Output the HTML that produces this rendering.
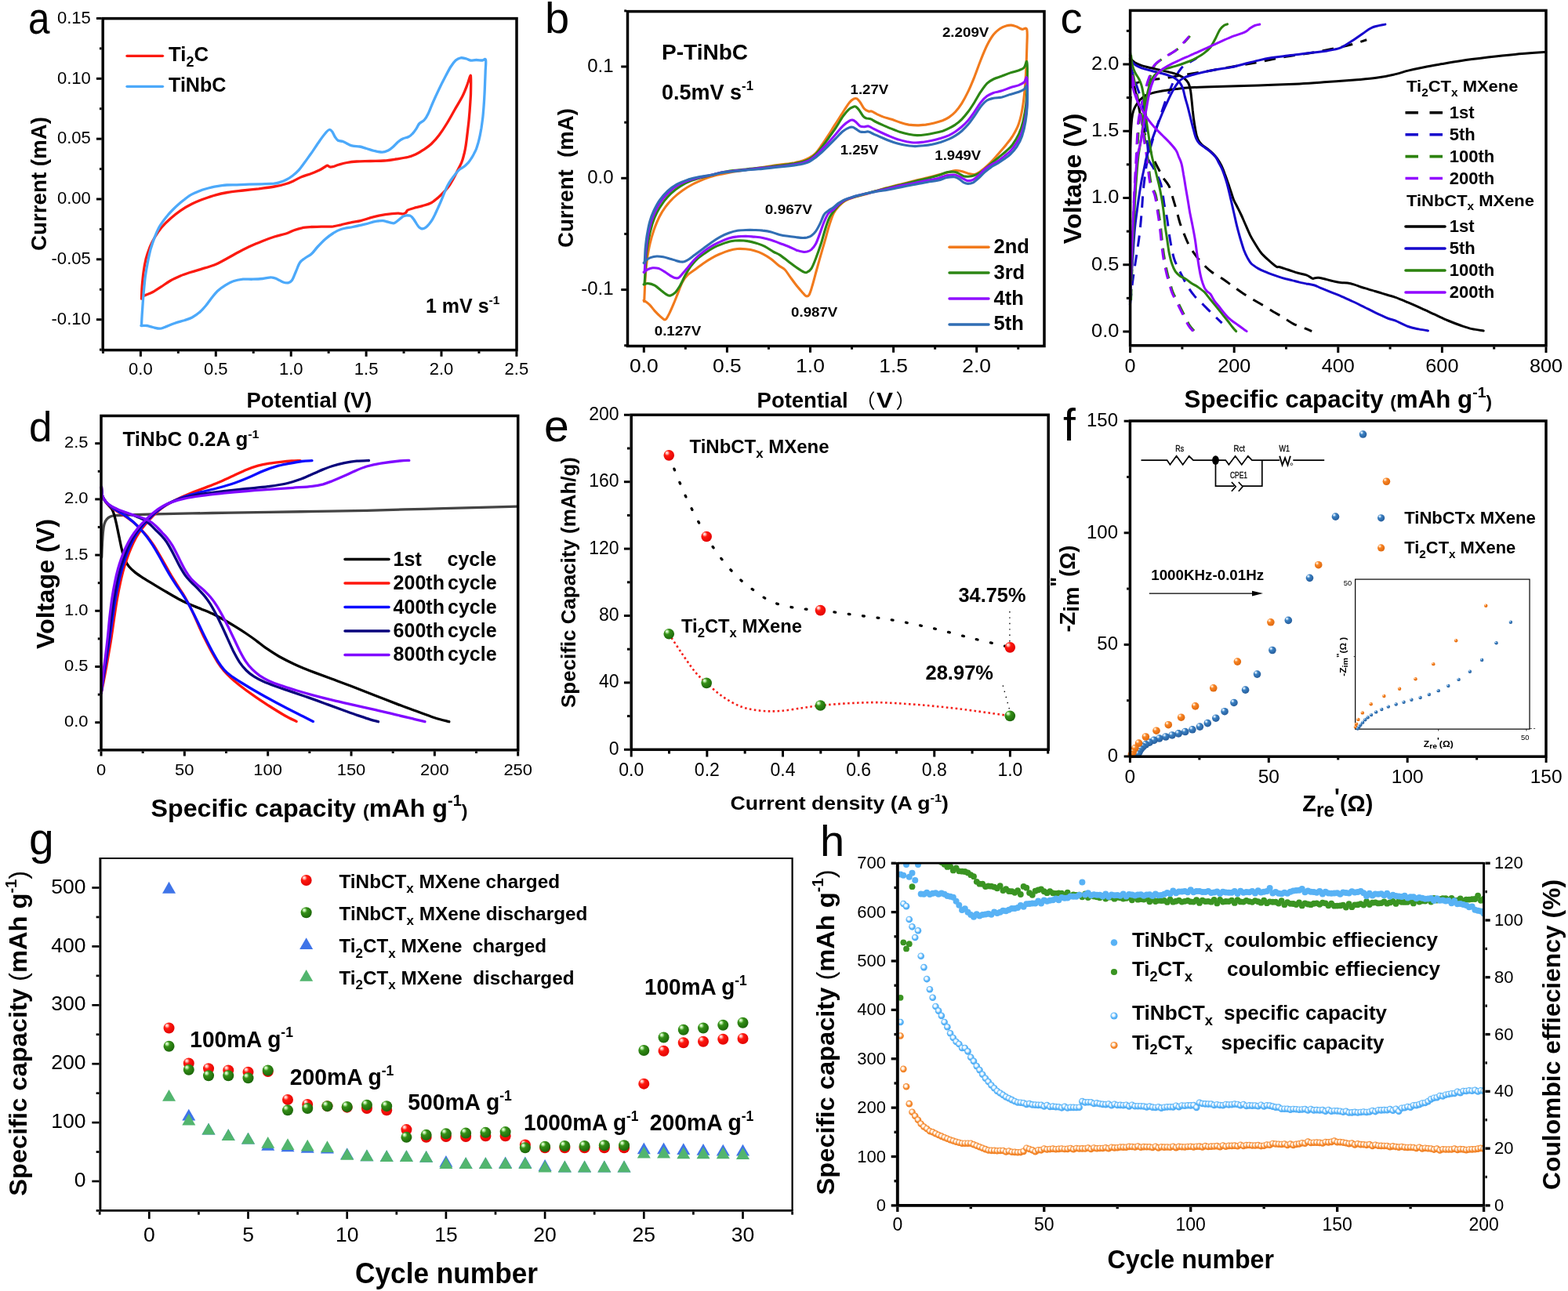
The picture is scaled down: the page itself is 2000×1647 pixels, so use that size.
<!DOCTYPE html>
<html><head><meta charset="utf-8"><title>Figure</title>
<style>
html,body{margin:0;padding:0;background:#fff;}
svg{display:block;font-family:"Liberation Sans",sans-serif;}
</style></head><body>
<svg width="2000" height="1647" viewBox="0 0 2000 1647">
<defs>
<radialGradient id="gR" cx="0.40" cy="0.36" r="0.68" fx="0.30" fy="0.26"><stop offset="0" stop-color="#fff"/><stop offset="0.16" stop-color="#ffb0a8"/><stop offset="0.36" stop-color="#ff1a10"/><stop offset="1" stop-color="#e00000"/></radialGradient>
<radialGradient id="gG" cx="0.40" cy="0.36" r="0.68" fx="0.30" fy="0.26"><stop offset="0" stop-color="#fff"/><stop offset="0.16" stop-color="#b0e89a"/><stop offset="0.36" stop-color="#359018"/><stop offset="1" stop-color="#1a6408"/></radialGradient>
<radialGradient id="gB" cx="0.40" cy="0.36" r="0.68" fx="0.30" fy="0.26"><stop offset="0" stop-color="#fff"/><stop offset="0.16" stop-color="#b8d8f4"/><stop offset="0.36" stop-color="#3a80c2"/><stop offset="1" stop-color="#245a98"/></radialGradient>
<radialGradient id="gO" cx="0.40" cy="0.36" r="0.68" fx="0.30" fy="0.26"><stop offset="0" stop-color="#fff"/><stop offset="0.16" stop-color="#ffd4a8"/><stop offset="0.36" stop-color="#f88424"/><stop offset="1" stop-color="#dc660c"/></radialGradient>
<radialGradient id="gLB" cx="0.46" cy="0.44" r="0.6" fx="0.40" fy="0.38"><stop offset="0" stop-color="#fff"/><stop offset="0.30" stop-color="#eaf6ff"/><stop offset="0.62" stop-color="#58b4f8"/><stop offset="1" stop-color="#46a4f0"/></radialGradient>
<radialGradient id="gLO" cx="0.46" cy="0.44" r="0.6" fx="0.40" fy="0.38"><stop offset="0" stop-color="#fff"/><stop offset="0.30" stop-color="#fff0e0"/><stop offset="0.62" stop-color="#f58a30"/><stop offset="1" stop-color="#ec7818"/></radialGradient>
</defs>
<rect width="2000" height="1647" fill="#fff"/>
<rect x="131.20" y="23.60" width="527.80" height="423.00" fill="none" stroke="#000" stroke-width="3.5"/>
<line x1="179.40" y1="448.15" x2="179.40" y2="454.85" stroke="#000" stroke-width="3" stroke-linecap="butt" />
<line x1="275.30" y1="448.15" x2="275.30" y2="454.85" stroke="#000" stroke-width="3" stroke-linecap="butt" />
<line x1="371.20" y1="448.15" x2="371.20" y2="454.85" stroke="#000" stroke-width="3" stroke-linecap="butt" />
<line x1="467.10" y1="448.15" x2="467.10" y2="454.85" stroke="#000" stroke-width="3" stroke-linecap="butt" />
<line x1="563.00" y1="448.15" x2="563.00" y2="454.85" stroke="#000" stroke-width="3" stroke-linecap="butt" />
<line x1="658.90" y1="448.15" x2="658.90" y2="454.85" stroke="#000" stroke-width="3" stroke-linecap="butt" />
<line x1="131.45" y1="448.15" x2="131.45" y2="450.85" stroke="#000" stroke-width="3" stroke-linecap="butt" />
<line x1="227.35" y1="448.15" x2="227.35" y2="450.85" stroke="#000" stroke-width="3" stroke-linecap="butt" />
<line x1="323.25" y1="448.15" x2="323.25" y2="450.85" stroke="#000" stroke-width="3" stroke-linecap="butt" />
<line x1="419.15" y1="448.15" x2="419.15" y2="450.85" stroke="#000" stroke-width="3" stroke-linecap="butt" />
<line x1="515.05" y1="448.15" x2="515.05" y2="450.85" stroke="#000" stroke-width="3" stroke-linecap="butt" />
<line x1="610.95" y1="448.15" x2="610.95" y2="450.85" stroke="#000" stroke-width="3" stroke-linecap="butt" />
<line x1="129.65" y1="23.45" x2="122.95" y2="23.45" stroke="#000" stroke-width="3" stroke-linecap="butt" />
<line x1="129.65" y1="100.30" x2="122.95" y2="100.30" stroke="#000" stroke-width="3" stroke-linecap="butt" />
<line x1="129.65" y1="177.15" x2="122.95" y2="177.15" stroke="#000" stroke-width="3" stroke-linecap="butt" />
<line x1="129.65" y1="254.00" x2="122.95" y2="254.00" stroke="#000" stroke-width="3" stroke-linecap="butt" />
<line x1="129.65" y1="330.85" x2="122.95" y2="330.85" stroke="#000" stroke-width="3" stroke-linecap="butt" />
<line x1="129.65" y1="407.70" x2="122.95" y2="407.70" stroke="#000" stroke-width="3" stroke-linecap="butt" />
<line x1="129.65" y1="61.88" x2="126.95" y2="61.88" stroke="#000" stroke-width="3" stroke-linecap="butt" />
<line x1="129.65" y1="138.73" x2="126.95" y2="138.73" stroke="#000" stroke-width="3" stroke-linecap="butt" />
<line x1="129.65" y1="215.57" x2="126.95" y2="215.57" stroke="#000" stroke-width="3" stroke-linecap="butt" />
<line x1="129.65" y1="292.43" x2="126.95" y2="292.43" stroke="#000" stroke-width="3" stroke-linecap="butt" />
<line x1="129.65" y1="369.27" x2="126.95" y2="369.27" stroke="#000" stroke-width="3" stroke-linecap="butt" />
<line x1="129.65" y1="446.12" x2="126.95" y2="446.12" stroke="#000" stroke-width="3" stroke-linecap="butt" />
<text x="179.40" y="477.50" font-size="22.5" text-anchor="middle" textLength="30.65" lengthAdjust="spacingAndGlyphs" >0.0</text>
<text x="275.30" y="477.50" font-size="22.5" text-anchor="middle" textLength="30.65" lengthAdjust="spacingAndGlyphs" >0.5</text>
<text x="371.20" y="477.50" font-size="22.5" text-anchor="middle" textLength="30.65" lengthAdjust="spacingAndGlyphs" >1.0</text>
<text x="467.10" y="477.50" font-size="22.5" text-anchor="middle" textLength="30.65" lengthAdjust="spacingAndGlyphs" >1.5</text>
<text x="563.00" y="477.50" font-size="22.5" text-anchor="middle" textLength="30.65" lengthAdjust="spacingAndGlyphs" >2.0</text>
<text x="658.90" y="477.50" font-size="22.5" text-anchor="middle" textLength="30.65" lengthAdjust="spacingAndGlyphs" >2.5</text>
<text x="115.80" y="29.71" font-size="22.5" text-anchor="end" textLength="42.92" lengthAdjust="spacingAndGlyphs" >0.15</text>
<text x="115.80" y="106.55" font-size="22.5" text-anchor="end" textLength="42.92" lengthAdjust="spacingAndGlyphs" >0.10</text>
<text x="115.80" y="183.40" font-size="22.5" text-anchor="end" textLength="42.92" lengthAdjust="spacingAndGlyphs" >0.05</text>
<text x="115.80" y="260.25" font-size="22.5" text-anchor="end" textLength="42.92" lengthAdjust="spacingAndGlyphs" >0.00</text>
<text x="115.80" y="337.11" font-size="22.5" text-anchor="end" textLength="50.26" lengthAdjust="spacingAndGlyphs" >-0.05</text>
<text x="115.80" y="413.96" font-size="22.5" text-anchor="end" textLength="50.26" lengthAdjust="spacingAndGlyphs" >-0.10</text>
<text x="394.50" y="520.00" font-size="27.5" font-weight="bold" text-anchor="middle" textLength="160.00" lengthAdjust="spacingAndGlyphs" >Potential (V)</text>
<text x="59.00" y="234.50" font-size="27.5" font-weight="bold" text-anchor="middle" transform="rotate(-90 59.00 234.50)" textLength="171.00" lengthAdjust="spacingAndGlyphs" >Current (mA)</text>
<text x="36.00" y="42.50" font-size="57" textLength="27.50" lengthAdjust="spacingAndGlyphs" >a</text>
<path d="M180.5 381.2C180.6 378.5 180.8 370.6 181.2 365.0C181.7 359.4 182.2 353.3 183.0 347.5C183.8 341.7 184.9 335.4 186.2 330.0C187.6 324.6 189.4 319.6 191.2 315.0C193.1 310.4 195.0 306.7 197.5 302.5C200.0 298.3 202.9 294.0 206.2 290.0C209.6 286.0 213.5 282.3 217.5 278.8C221.5 275.2 225.4 271.9 230.0 268.8C234.6 265.6 240.0 262.5 245.0 260.0C250.0 257.5 255.0 255.6 260.0 253.8C265.0 251.9 270.0 250.1 275.0 248.8C280.0 247.4 284.2 246.5 290.0 245.5C295.8 244.5 303.3 243.8 310.0 243.0C316.7 242.2 323.3 241.6 330.0 240.8C336.7 239.9 344.2 239.0 350.0 238.0C355.8 237.0 360.8 235.8 365.0 234.5C369.2 233.2 371.7 232.0 375.0 230.5C378.3 229.0 381.2 227.0 385.0 225.5C388.8 224.0 393.8 222.7 397.5 221.2C401.2 219.8 404.6 218.5 407.5 217.0C410.4 215.5 413.3 213.5 415.0 212.5C416.7 211.5 416.5 211.2 417.5 211.2C418.5 211.3 420.0 212.8 421.2 213.0C422.5 213.2 423.1 213.0 425.0 212.5C426.9 212.0 429.6 210.8 432.5 210.0C435.4 209.2 438.8 208.2 442.5 207.5C446.2 206.8 450.0 206.3 455.0 206.0C460.0 205.7 466.7 205.7 472.5 205.5C478.3 205.3 484.6 205.4 490.0 205.0C495.4 204.6 500.0 203.8 505.0 203.0C510.0 202.2 515.8 201.5 520.0 200.5C524.2 199.5 526.7 198.5 530.0 197.0C533.3 195.5 536.7 193.5 540.0 191.2C543.3 189.0 546.7 186.9 550.0 183.8C553.3 180.6 556.7 176.9 560.0 172.5C563.3 168.1 566.7 162.9 570.0 157.5C573.3 152.1 576.7 145.8 580.0 140.0C583.3 134.2 587.3 127.9 590.0 122.5C592.7 117.1 594.6 111.8 596.2 107.5C597.9 103.2 599.0 98.1 599.8 96.8C600.5 95.6 600.5 96.3 600.6 100.0C600.8 103.7 600.6 114.0 600.5 119.0C600.4 124.0 600.1 126.1 599.9 130.0C599.6 133.9 599.3 138.5 599.0 142.6C598.6 146.8 598.3 151.1 597.9 155.0C597.5 158.9 597.0 162.4 596.6 166.3C596.1 170.3 595.6 174.8 595.1 178.8C594.6 182.7 594.1 186.5 593.4 190.0C592.8 193.5 592.0 196.6 591.2 199.5C590.5 202.4 589.8 204.8 588.7 207.4C587.6 210.0 586.2 212.4 584.8 215.2C583.3 218.1 581.8 221.3 580.0 224.8C578.2 228.2 575.8 232.6 573.7 235.8C571.6 239.0 569.7 241.0 567.4 243.7C565.0 246.3 562.4 249.1 559.5 251.6C556.6 254.1 553.4 256.8 550.0 258.7C546.6 260.5 542.6 261.5 539.0 262.6C535.3 263.8 531.1 264.6 527.9 265.5C524.7 266.4 521.7 267.2 520.0 268.1C518.3 269.1 518.7 270.5 517.6 271.3C516.6 272.1 515.4 272.8 513.7 272.9C512.0 273.0 511.1 272.0 507.4 272.1C503.7 272.2 496.8 272.9 491.6 273.7C486.3 274.5 481.0 275.5 475.8 276.9C470.5 278.2 464.7 280.4 460.0 281.6C455.3 282.7 451.7 282.9 447.5 283.8C443.3 284.6 438.8 285.9 435.0 286.8C431.2 287.6 429.2 288.3 425.0 288.8C420.8 289.2 414.6 289.1 410.0 289.2C405.4 289.4 401.7 289.2 397.5 289.5C393.3 289.8 388.8 290.0 385.0 290.8C381.2 291.5 378.3 292.5 375.0 293.8C371.7 295.0 369.2 296.6 365.0 298.0C360.8 299.4 355.0 300.4 350.0 302.0C345.0 303.6 340.0 305.5 335.0 307.5C330.0 309.5 325.0 311.5 320.0 313.8C315.0 316.0 310.0 318.6 305.0 321.2C300.0 323.9 294.6 327.0 290.0 329.5C285.4 332.0 281.2 334.5 277.5 336.2C273.8 338.0 271.2 338.8 267.5 340.0C263.8 341.2 259.2 342.5 255.0 343.8C250.8 345.0 246.7 346.1 242.5 347.5C238.3 348.9 234.2 350.2 230.0 352.0C225.8 353.8 221.7 355.6 217.5 358.0C213.3 360.4 208.8 363.8 205.0 366.2C201.2 368.7 198.1 370.8 195.0 372.5C191.9 374.2 188.3 375.4 186.2 376.2C184.2 377.1 183.1 377.3 182.5 377.5" fill="none" stroke="#fb1a10" stroke-width="3.3" stroke-linecap="round" stroke-linejoin="round" />
<path d="M180.5 415.2C180.6 412.8 180.8 407.3 181.2 401.0C181.7 394.7 182.2 385.1 182.9 377.2C183.6 369.4 184.3 360.7 185.2 353.6C186.2 346.5 187.2 340.8 188.4 334.7C189.6 328.6 190.9 322.5 192.3 317.2C193.8 312.0 195.4 307.6 197.1 303.1C198.8 298.7 200.7 294.2 202.6 290.5C204.6 286.8 206.8 283.9 208.9 281.0C211.0 278.1 213.2 275.5 215.2 273.1C217.3 270.7 219.4 268.6 221.5 266.5C223.6 264.4 225.6 262.5 227.9 260.5C230.1 258.5 232.6 256.5 235.0 254.7C237.4 252.8 239.6 251.0 242.1 249.4C244.6 247.9 247.4 246.7 250.0 245.5C252.6 244.3 255.2 243.3 257.9 242.3C260.5 241.4 263.1 240.7 265.8 240.0C268.4 239.3 271.0 238.6 273.6 238.1C276.3 237.6 278.9 237.2 281.5 236.8C284.1 236.5 286.0 236.2 289.4 236.0C292.8 235.8 297.3 235.9 302.0 235.8C306.7 235.6 312.5 235.4 317.8 235.2C323.0 235.1 328.3 234.9 333.6 234.8C338.9 234.6 345.5 234.5 349.4 234.2C353.4 233.8 354.6 233.2 357.2 232.4C359.9 231.6 362.6 230.6 365.2 229.2C367.8 227.9 370.5 226.2 373.1 224.2C375.7 222.2 378.4 220.0 381.0 217.1C383.6 214.2 386.2 210.4 388.9 206.8C391.5 203.3 393.6 200.2 396.8 195.8C399.9 191.3 404.5 184.3 407.5 180.0C410.5 175.7 412.9 172.4 415.0 170.0C417.1 167.6 418.5 165.8 420.0 165.5C421.5 165.2 422.5 166.4 423.8 168.0C425.0 169.6 426.2 173.1 427.5 175.0C428.8 176.9 429.6 178.3 431.2 179.2C432.9 180.2 435.4 179.8 437.5 180.5C439.6 181.2 441.7 182.8 443.8 183.8C445.8 184.7 447.5 185.7 450.0 186.2C452.5 186.8 455.8 186.5 458.8 187.0C461.7 187.5 464.4 188.6 467.5 189.5C470.6 190.4 474.2 191.7 477.5 192.5C480.8 193.3 484.6 194.3 487.5 194.2C490.4 194.2 492.7 193.1 495.0 192.0C497.3 190.9 499.2 189.3 501.2 187.5C503.3 185.7 505.4 183.0 507.5 181.2C509.6 179.5 511.5 178.1 513.8 177.0C516.0 175.9 519.2 175.6 521.2 174.5C523.3 173.4 524.6 172.3 526.2 170.5C527.9 168.7 529.8 165.9 531.2 163.8C532.7 161.6 533.3 159.3 535.0 157.5C536.7 155.7 539.4 155.1 541.2 153.0C543.1 150.9 544.4 148.8 546.2 145.0C548.1 141.2 550.2 135.2 552.5 130.0C554.8 124.8 557.5 119.0 560.0 113.8C562.5 108.5 565.0 103.5 567.5 98.8C570.0 94.0 572.7 88.6 575.0 85.0C577.3 81.4 579.2 78.9 581.2 77.0C583.3 75.1 585.2 74.1 587.5 73.8C589.8 73.4 592.9 74.5 595.0 75.0C597.1 75.5 597.9 76.8 600.0 77.0C602.1 77.2 605.0 76.5 607.5 76.5C610.0 76.5 613.0 77.0 615.0 77.0C617.0 77.0 618.8 74.1 619.5 76.2C620.2 78.4 619.4 85.5 619.2 90.0C619.1 94.5 618.9 98.2 618.7 103.2C618.5 108.2 618.3 114.7 618.0 120.0C617.7 125.3 617.5 129.8 617.1 134.8C616.7 139.8 616.3 145.3 615.8 150.0C615.2 154.7 614.6 159.2 614.0 163.2C613.3 167.1 612.7 170.6 612.0 173.8C611.3 176.9 610.8 179.4 610.0 182.1C609.2 184.8 608.4 187.6 607.5 190.0C606.6 192.4 605.5 194.3 604.5 196.3C603.4 198.3 602.4 200.2 601.2 202.0C600.1 203.8 598.9 205.6 597.4 207.4C595.8 209.1 593.8 211.1 592.0 212.5C590.2 213.9 588.3 214.3 586.3 216.1C584.3 217.8 581.9 220.8 580.0 223.2C578.1 225.5 576.6 227.6 575.0 230.0C573.4 232.4 572.0 234.5 570.5 237.4C569.0 240.3 567.6 244.3 566.2 247.5C564.9 250.7 563.9 253.4 562.6 256.3C561.4 259.2 560.1 262.1 558.8 265.0C557.4 267.9 556.1 271.0 554.8 273.7C553.4 276.4 552.1 279.1 550.8 281.2C549.4 283.4 548.1 284.8 546.9 286.3C545.6 287.8 544.3 289.3 543.0 290.2C541.7 291.2 540.1 291.7 539.0 291.9C537.8 292.0 537.0 291.4 536.2 291.0C535.5 290.6 535.1 290.5 534.2 289.5C533.3 288.5 532.0 286.6 531.0 285.0C530.0 283.4 528.8 281.3 527.9 280.0C527.0 278.7 526.3 277.8 525.5 277.0C524.7 276.2 524.3 275.6 523.1 275.2C522.0 274.9 519.8 274.7 518.4 274.8C517.1 274.9 516.1 275.3 515.0 275.8C513.9 276.2 513.3 276.8 512.1 277.6C510.9 278.5 509.3 279.9 508.0 281.0C506.7 282.1 505.2 283.3 504.2 283.9C503.2 284.6 502.8 284.7 502.0 284.8C501.2 284.8 500.6 284.7 499.5 284.4C498.3 284.2 496.8 283.7 495.0 283.2C493.2 282.8 490.5 281.8 488.4 281.6C486.3 281.4 484.6 281.7 482.5 282.0C480.4 282.3 478.7 282.4 475.8 283.1C472.8 283.9 469.3 285.2 465.0 286.2C460.7 287.3 455.0 288.5 450.0 289.5C445.0 290.5 439.2 291.2 435.0 292.5C430.8 293.8 428.3 295.4 425.0 297.5C421.7 299.6 418.3 302.1 415.0 305.0C411.7 307.9 407.9 311.9 405.0 315.0C402.1 318.1 400.2 321.3 397.5 323.8C394.8 326.2 391.2 327.6 388.8 329.5C386.2 331.4 384.4 332.2 382.5 335.0C380.6 337.8 379.2 342.5 377.5 346.2C375.8 350.0 374.2 355.1 372.5 357.5C370.8 359.9 369.4 360.3 367.5 360.8C365.6 361.2 363.5 360.8 361.2 360.0C359.0 359.2 356.2 357.3 353.8 356.2C351.2 355.2 349.4 353.9 346.2 353.8C343.1 353.6 339.0 355.1 335.0 355.5C331.0 355.9 326.7 356.1 322.5 356.2C318.3 356.4 314.2 355.8 310.0 356.2C305.8 356.7 301.2 357.5 297.5 358.8C293.8 360.0 290.8 361.7 287.5 363.8C284.2 365.8 280.4 368.5 277.5 371.2C274.6 374.0 272.5 376.9 270.0 380.0C267.5 383.1 265.0 387.0 262.5 390.0C260.0 393.0 257.9 395.5 255.0 398.0C252.1 400.5 248.3 403.2 245.0 405.0C241.7 406.8 238.8 407.5 235.0 408.8C231.2 410.0 226.7 411.0 222.5 412.5C218.3 414.0 213.1 416.4 210.0 417.5C206.9 418.6 206.2 419.2 203.8 419.2C201.2 419.2 197.7 418.1 195.0 417.5C192.3 416.9 189.9 415.8 187.5 415.5C185.1 415.2 181.7 415.6 180.5 415.5C179.3 415.4 180.5 415.1 180.5 415.0" fill="none" stroke="#4ca9fa" stroke-width="3.3" stroke-linecap="round" stroke-linejoin="round" />
<line x1="162.00" y1="71.30" x2="207.50" y2="71.30" stroke="#fb1a10" stroke-width="3.3" stroke-linecap="round" />
<line x1="162.00" y1="110.30" x2="207.50" y2="110.30" stroke="#4ca9fa" stroke-width="3.3" stroke-linecap="round" />
<text x="215.00" y="78.00" font-size="26.5" font-weight="bold" textLength="51.00" lengthAdjust="spacingAndGlyphs" ><tspan>Ti</tspan><tspan dy="6.89" font-size="18.55">2</tspan><tspan dy="-6.89">C</tspan></text>
<text x="215.00" y="116.60" font-size="26.5" font-weight="bold" textLength="73.50" lengthAdjust="spacingAndGlyphs" >TiNbC</text>
<text x="543.00" y="398.50" font-size="25" font-weight="bold" ><tspan>1 mV s</tspan><tspan dy="-10.50" font-size="15.50">-1</tspan></text>
<rect x="800.50" y="14.60" width="531.50" height="426.90" fill="none" stroke="#000" stroke-width="3.5"/>
<line x1="821.30" y1="443.05" x2="821.30" y2="449.75" stroke="#000" stroke-width="3" stroke-linecap="butt" />
<line x1="927.40" y1="443.05" x2="927.40" y2="449.75" stroke="#000" stroke-width="3" stroke-linecap="butt" />
<line x1="1033.50" y1="443.05" x2="1033.50" y2="449.75" stroke="#000" stroke-width="3" stroke-linecap="butt" />
<line x1="1139.60" y1="443.05" x2="1139.60" y2="449.75" stroke="#000" stroke-width="3" stroke-linecap="butt" />
<line x1="1245.70" y1="443.05" x2="1245.70" y2="449.75" stroke="#000" stroke-width="3" stroke-linecap="butt" />
<line x1="874.35" y1="443.05" x2="874.35" y2="445.75" stroke="#000" stroke-width="3" stroke-linecap="butt" />
<line x1="980.45" y1="443.05" x2="980.45" y2="445.75" stroke="#000" stroke-width="3" stroke-linecap="butt" />
<line x1="1086.55" y1="443.05" x2="1086.55" y2="445.75" stroke="#000" stroke-width="3" stroke-linecap="butt" />
<line x1="1192.65" y1="443.05" x2="1192.65" y2="445.75" stroke="#000" stroke-width="3" stroke-linecap="butt" />
<line x1="1298.75" y1="443.05" x2="1298.75" y2="445.75" stroke="#000" stroke-width="3" stroke-linecap="butt" />
<line x1="798.95" y1="85.00" x2="792.25" y2="85.00" stroke="#000" stroke-width="3" stroke-linecap="butt" />
<line x1="798.95" y1="227.30" x2="792.25" y2="227.30" stroke="#000" stroke-width="3" stroke-linecap="butt" />
<line x1="798.95" y1="369.60" x2="792.25" y2="369.60" stroke="#000" stroke-width="3" stroke-linecap="butt" />
<line x1="798.95" y1="13.85" x2="796.25" y2="13.85" stroke="#000" stroke-width="3" stroke-linecap="butt" />
<line x1="798.95" y1="156.15" x2="796.25" y2="156.15" stroke="#000" stroke-width="3" stroke-linecap="butt" />
<line x1="798.95" y1="298.45" x2="796.25" y2="298.45" stroke="#000" stroke-width="3" stroke-linecap="butt" />
<line x1="798.95" y1="440.75" x2="796.25" y2="440.75" stroke="#000" stroke-width="3" stroke-linecap="butt" />
<text x="821.30" y="474.50" font-size="24.5" text-anchor="middle" textLength="36.78" lengthAdjust="spacingAndGlyphs" >0.0</text>
<text x="927.40" y="474.50" font-size="24.5" text-anchor="middle" textLength="36.78" lengthAdjust="spacingAndGlyphs" >0.5</text>
<text x="1033.50" y="474.50" font-size="24.5" text-anchor="middle" textLength="36.78" lengthAdjust="spacingAndGlyphs" >1.0</text>
<text x="1139.60" y="474.50" font-size="24.5" text-anchor="middle" textLength="36.78" lengthAdjust="spacingAndGlyphs" >1.5</text>
<text x="1245.70" y="474.50" font-size="24.5" text-anchor="middle" textLength="36.78" lengthAdjust="spacingAndGlyphs" >2.0</text>
<text x="782.50" y="91.79" font-size="24" text-anchor="end" >0.1</text>
<text x="782.50" y="234.09" font-size="24" text-anchor="end" >0.0</text>
<text x="782.50" y="376.39" font-size="24" text-anchor="end" >-0.1</text>
<text x="965.60" y="520.00" font-size="27.5" font-weight="bold" textLength="116.00" lengthAdjust="spacingAndGlyphs" >Potential</text>
<text x="1091.50" y="520.50" font-size="25" font-family='"Liberation Sans","Noto Sans CJK SC",sans-serif' >（</text>
<text x="1128.40" y="520.00" font-size="27" font-weight="bold" text-anchor="middle" textLength="21.00" lengthAdjust="spacingAndGlyphs" >V</text>
<text x="1142.50" y="520.50" font-size="25" font-family='"Liberation Sans","Noto Sans CJK SC",sans-serif' >）</text>
<text x="730.50" y="227.00" font-size="27.5" font-weight="bold" text-anchor="middle" transform="rotate(-90 730.50 227.00)" textLength="178.00" lengthAdjust="spacingAndGlyphs" >Current  (mA)</text>
<text x="695.00" y="42.20" font-size="56" >b</text>
<path d="M821.1 383.1C821.2 383.0 821.4 387.2 821.8 382.1C822.1 377.1 822.6 361.5 823.2 353.0C823.8 344.5 824.4 338.2 825.4 331.1C826.4 324.1 827.6 317.0 829.1 310.7C830.5 304.4 832.2 298.8 834.1 293.2C836.1 287.7 838.3 282.1 840.7 277.2C843.1 272.4 845.7 268.2 848.7 264.1C851.7 260.0 855.3 256.0 858.9 252.5C862.6 249.0 866.4 245.9 870.6 243.0C874.7 240.1 879.1 237.4 883.7 235.0C888.3 232.5 893.9 230.2 898.3 228.4C902.6 226.6 906.0 225.5 909.9 224.4C913.8 223.3 917.3 222.8 921.5 222.0C925.7 221.1 930.0 220.2 935.0 219.3C940.0 218.4 945.8 217.4 951.2 216.6C956.6 215.8 962.0 215.2 967.4 214.4C972.8 213.6 978.2 212.5 983.6 211.7C989.0 210.9 994.8 210.2 999.8 209.5C1004.8 208.9 1009.2 208.4 1013.3 207.7C1017.3 206.9 1020.9 206.0 1024.1 204.9C1027.2 203.9 1029.5 203.0 1032.2 201.4C1034.9 199.9 1037.6 198.3 1040.3 195.5C1043.0 192.7 1045.7 188.5 1048.4 184.7C1051.1 180.9 1053.6 177.1 1056.5 172.6C1059.4 168.1 1062.8 162.6 1066.0 157.7C1069.1 152.8 1072.5 147.3 1075.4 142.8C1078.3 138.3 1081.2 133.5 1083.5 130.7C1085.8 127.9 1087.3 126.9 1088.9 126.1C1090.5 125.3 1091.6 125.2 1093.0 125.8C1094.3 126.5 1095.4 128.0 1097.0 130.2C1098.6 132.3 1100.6 136.8 1102.4 138.8C1104.2 140.8 1106.2 141.5 1107.8 142.0C1109.4 142.6 1110.0 141.5 1111.8 142.0C1113.6 142.6 1116.1 144.4 1118.6 145.6C1121.1 146.7 1123.5 147.9 1126.7 149.1C1129.9 150.2 1133.9 151.1 1137.5 152.3C1141.1 153.5 1144.7 155.2 1148.3 156.3C1151.9 157.5 1155.5 158.5 1159.1 159.1C1162.7 159.6 1166.3 159.9 1169.9 159.9C1173.5 159.9 1177.1 159.5 1180.7 159.1C1184.3 158.6 1187.9 157.8 1191.5 156.9C1195.1 156.0 1199.1 154.9 1202.3 153.7C1205.5 152.4 1207.7 151.4 1210.4 149.6C1213.1 147.8 1215.8 145.8 1218.5 142.8C1221.2 139.9 1223.9 136.3 1226.6 132.1C1229.3 127.8 1232.0 122.8 1234.7 117.2C1237.4 111.6 1240.1 105.0 1242.8 98.3C1245.5 91.5 1248.2 83.5 1250.9 76.7C1253.6 70.0 1256.3 63.2 1259.0 57.8C1261.7 52.4 1264.4 47.8 1267.1 44.3C1269.8 40.8 1272.5 38.6 1275.2 36.7C1277.9 34.8 1280.8 33.7 1283.3 33.0C1285.8 32.2 1287.8 32.0 1290.0 32.1C1292.3 32.3 1294.5 33.2 1296.8 34.0C1299.0 34.9 1301.4 36.6 1303.5 37.3C1305.7 37.9 1308.7 34.0 1309.8 37.8C1310.8 41.7 1310.0 50.0 1309.8 60.5C1309.5 71.0 1308.9 88.8 1308.1 101.0C1307.3 113.2 1306.3 124.0 1304.9 133.4C1303.5 142.8 1301.8 150.9 1299.5 157.7C1297.2 164.4 1294.1 169.4 1291.4 173.9C1288.7 178.4 1286.0 181.3 1283.3 184.7C1280.6 188.1 1277.9 191.0 1275.2 194.2C1272.5 197.3 1269.8 200.7 1267.1 203.6C1264.4 206.5 1261.7 209.2 1259.0 211.7C1256.3 214.2 1253.6 216.6 1250.9 218.4C1248.2 220.2 1245.5 222.1 1242.8 222.5C1240.1 222.9 1237.4 221.8 1234.7 221.2C1232.0 220.5 1229.3 219.0 1226.6 218.4C1223.9 217.9 1221.7 217.3 1218.5 217.6C1215.3 218.0 1211.3 219.4 1207.7 220.3C1204.1 221.2 1201.0 222.0 1196.9 223.0C1192.9 224.1 1187.9 225.4 1183.4 226.6C1178.9 227.7 1174.4 228.7 1169.9 229.8C1165.4 230.9 1160.9 232.2 1156.4 233.3C1151.9 234.4 1147.4 235.4 1142.9 236.5C1138.4 237.7 1133.9 238.8 1129.4 240.1C1124.9 241.3 1120.4 242.8 1115.9 244.1C1111.4 245.4 1106.9 246.9 1102.4 248.2C1097.9 249.4 1093.0 250.3 1088.9 251.7C1084.9 253.0 1081.2 254.4 1078.1 256.2C1074.9 258.1 1072.5 260.3 1070.0 263.0C1067.5 265.7 1065.3 268.4 1063.2 272.4C1061.2 276.5 1059.6 281.7 1057.8 287.3C1056.0 292.9 1054.2 299.9 1052.5 306.2C1050.7 312.5 1048.8 318.8 1047.0 325.1C1045.2 331.4 1043.5 337.5 1041.7 344.0C1039.9 350.5 1037.8 358.9 1036.2 364.2C1034.7 369.6 1033.5 373.6 1032.2 375.9C1030.9 378.1 1029.5 378.1 1028.2 377.8C1026.8 377.4 1026.1 375.9 1024.1 373.7C1022.1 371.4 1018.7 367.6 1016.0 364.2C1013.3 360.9 1010.4 356.8 1007.9 353.4C1005.4 350.1 1003.6 346.5 1001.1 344.0C998.7 341.5 996.0 340.9 993.0 338.6C990.1 336.4 987.0 333.0 983.6 330.5C980.2 328.0 976.4 325.6 972.8 323.8C969.2 321.9 965.6 320.7 962.0 319.7C958.4 318.7 954.8 318.2 951.2 317.8C947.6 317.4 944.0 317.2 940.4 317.5C936.8 317.9 933.2 318.7 929.6 319.7C926.0 320.7 922.4 322.2 918.8 323.8C915.2 325.3 911.6 327.1 908.0 329.1C904.4 331.2 900.8 333.4 897.2 335.9C893.6 338.4 889.8 341.5 886.4 344.0C883.0 346.5 879.7 348.1 877.0 350.8C874.2 353.4 872.2 356.4 870.2 360.2C868.2 364.0 866.6 369.2 864.8 373.7C863.0 378.2 861.2 382.9 859.4 387.2C857.6 391.5 855.6 396.1 854.0 399.4C852.4 402.6 851.1 405.2 850.0 406.6C848.8 408.0 848.6 408.3 847.2 407.7C845.9 407.2 843.9 405.2 841.9 403.4C839.8 401.6 837.4 399.1 835.1 396.6C832.9 394.2 830.7 390.8 828.4 388.6C826.0 386.3 822.3 384.0 821.1 383.1" fill="none" stroke="#f17a1c" stroke-width="3.1" stroke-linecap="round" stroke-linejoin="round" />
<path d="M821.1 362.9C821.2 362.4 821.7 365.0 822.2 359.7C822.7 354.4 823.2 339.8 823.9 331.1C824.7 322.5 825.5 315.3 826.9 307.8C828.2 300.3 830.1 292.0 831.9 286.0C833.8 279.9 835.5 276.0 837.8 271.4C840.1 266.8 842.8 262.4 845.8 258.3C848.8 254.1 852.4 250.1 856.0 246.6C859.6 243.2 863.5 240.2 867.6 237.6C871.8 235.0 876.1 232.7 880.8 230.9C885.4 229.1 890.7 227.8 895.3 226.5C899.9 225.3 904.1 224.4 908.4 223.3C912.8 222.2 917.1 220.7 921.5 219.8C925.9 218.9 930.0 218.3 935.0 217.6C940.0 217.0 945.8 216.6 951.2 216.0C956.6 215.5 962.0 215.0 967.4 214.4C972.8 213.8 978.2 213.1 983.6 212.5C989.0 211.9 994.8 211.3 999.8 210.6C1004.8 209.9 1009.2 209.2 1013.3 208.5C1017.3 207.7 1020.9 207.2 1024.1 206.3C1027.2 205.4 1029.5 204.6 1032.2 203.1C1034.9 201.5 1037.6 199.5 1040.3 196.8C1043.0 194.2 1045.7 190.8 1048.4 187.4C1051.1 184.0 1053.6 180.7 1056.5 176.6C1059.4 172.5 1062.8 167.8 1066.0 163.1C1069.1 158.4 1072.5 152.3 1075.4 148.2C1078.3 144.2 1081.2 140.8 1083.5 138.8C1085.8 136.8 1087.6 136.6 1088.9 136.1C1090.2 135.6 1090.5 135.4 1091.6 136.1C1092.7 136.8 1094.1 138.1 1095.7 140.2C1097.2 142.2 1099.5 146.4 1101.0 148.2C1102.6 150.1 1103.5 150.4 1105.1 150.9C1106.7 151.5 1108.5 151.0 1110.5 151.8C1112.5 152.5 1114.5 154.2 1117.2 155.5C1120.0 156.9 1123.3 158.4 1126.7 159.9C1130.1 161.3 1133.9 163.0 1137.5 164.4C1141.1 165.9 1144.7 167.4 1148.3 168.5C1151.9 169.6 1155.5 170.5 1159.1 171.2C1162.7 171.9 1166.3 172.5 1169.9 172.6C1173.5 172.6 1177.1 172.2 1180.7 171.7C1184.3 171.3 1187.9 170.6 1191.5 169.8C1195.1 169.1 1199.1 168.2 1202.3 167.2C1205.5 166.1 1207.7 165.0 1210.4 163.6C1213.1 162.3 1215.8 160.9 1218.5 159.1C1221.2 157.2 1223.9 155.0 1226.6 152.3C1229.3 149.6 1232.0 146.4 1234.7 142.8C1237.4 139.2 1240.1 135.0 1242.8 130.7C1245.5 126.4 1248.2 121.2 1250.9 117.2C1253.6 113.2 1256.3 109.1 1259.0 106.4C1261.7 103.7 1263.9 102.6 1267.1 101.0C1270.2 99.4 1274.3 98.3 1277.9 97.0C1281.5 95.6 1285.1 94.1 1288.7 92.9C1292.3 91.7 1296.6 90.8 1299.5 89.7C1302.4 88.5 1304.5 88.0 1306.2 86.2C1308.0 84.4 1309.1 76.4 1309.8 78.9C1310.4 81.3 1310.5 91.9 1310.3 101.0C1310.1 110.1 1309.6 124.4 1308.7 133.4C1307.8 142.4 1306.4 148.7 1304.9 155.0C1303.4 161.3 1301.8 166.2 1299.5 171.2C1297.2 176.1 1294.1 181.1 1291.4 184.7C1288.7 188.3 1286.0 190.3 1283.3 192.8C1280.6 195.3 1277.9 197.3 1275.2 199.6C1272.5 201.8 1269.8 204.1 1267.1 206.3C1264.4 208.6 1261.7 210.8 1259.0 213.1C1256.3 215.3 1253.6 218.0 1250.9 219.8C1248.2 221.6 1245.5 222.9 1242.8 223.8C1240.1 224.8 1237.0 225.1 1234.7 225.2C1232.5 225.3 1231.3 225.3 1229.3 224.7C1227.3 224.0 1224.6 222.1 1222.5 221.2C1220.5 220.2 1219.6 219.5 1217.2 219.3C1214.7 219.0 1211.1 219.0 1207.7 219.8C1204.3 220.6 1201.0 222.6 1196.9 223.8C1192.9 225.1 1187.9 226.2 1183.4 227.4C1178.9 228.5 1174.4 229.5 1169.9 230.6C1165.4 231.7 1160.9 233.0 1156.4 234.1C1151.9 235.2 1147.4 236.3 1142.9 237.3C1138.4 238.4 1133.9 239.5 1129.4 240.6C1124.9 241.7 1120.4 242.9 1115.9 244.1C1111.4 245.3 1106.9 246.4 1102.4 247.6C1097.9 248.8 1093.0 250.1 1088.9 251.4C1084.9 252.7 1081.2 253.7 1078.1 255.4C1074.9 257.1 1072.5 259.3 1070.0 261.6C1067.5 264.0 1065.3 267.1 1063.2 269.8C1061.2 272.4 1059.6 274.0 1057.8 277.9C1056.0 281.7 1054.2 287.1 1052.5 292.7C1050.7 298.3 1049.1 305.3 1047.0 311.6C1045.0 317.9 1042.3 325.3 1040.3 330.5C1038.3 335.7 1036.7 339.9 1034.9 342.6C1033.1 345.4 1031.1 346.5 1029.5 347.2C1027.9 348.0 1027.7 348.2 1025.5 347.2C1023.2 346.2 1019.4 343.6 1016.0 341.3C1012.6 339.0 1008.8 335.9 1005.2 333.2C1001.6 330.5 997.5 327.1 994.4 325.1C991.2 323.1 989.4 322.9 986.3 321.1C983.1 319.2 979.1 316.1 975.5 314.3C971.9 312.5 968.3 311.4 964.7 310.2C961.1 309.1 957.5 308.1 953.9 307.6C950.3 307.0 946.7 306.7 943.1 306.7C939.5 306.8 935.9 307.1 932.3 307.8C928.7 308.5 925.1 309.8 921.5 311.1C917.9 312.4 914.3 313.8 910.7 315.6C907.1 317.5 903.5 319.9 899.9 322.4C896.3 324.9 892.2 327.6 889.1 330.5C886.0 333.4 883.5 336.6 881.0 339.9C878.5 343.3 876.5 346.7 874.2 350.8C872.0 354.8 869.8 360.4 867.5 364.2C865.2 368.1 862.8 371.6 860.8 373.7C858.7 375.8 856.9 376.5 855.4 376.9C853.8 377.4 853.3 377.5 851.3 376.4C849.3 375.3 845.9 372.5 843.2 370.5C840.5 368.4 837.8 365.7 835.1 364.2C832.4 362.8 829.3 361.8 827.0 361.6C824.7 361.3 822.0 362.7 821.1 362.9" fill="none" stroke="#2c8614" stroke-width="3.1" stroke-linecap="round" stroke-linejoin="round" />
<path d="M821.1 347.2C821.2 346.9 821.8 349.2 822.2 345.4C822.6 341.5 823.0 331.1 823.7 323.9C824.3 316.6 825.0 308.8 826.1 302.0C827.3 295.2 828.8 288.6 830.5 283.1C832.2 277.5 834.1 273.0 836.3 268.5C838.5 264.0 840.7 260.1 843.6 256.1C846.5 252.1 850.2 247.8 853.8 244.5C857.5 241.1 861.2 238.1 865.5 235.7C869.7 233.3 874.6 231.5 879.3 229.9C884.0 228.2 889.3 227.0 893.9 225.9C898.5 224.8 902.4 224.3 907.0 223.3C911.6 222.3 916.8 220.7 921.5 219.8C926.2 218.9 930.0 218.7 935.0 218.2C940.0 217.6 945.8 217.1 951.2 216.6C956.6 216.0 962.0 215.5 967.4 214.9C972.8 214.4 978.2 213.9 983.6 213.3C989.0 212.8 994.8 212.3 999.8 211.7C1004.8 211.1 1009.2 210.5 1013.3 209.8C1017.3 209.1 1020.9 208.5 1024.1 207.7C1027.2 206.8 1029.5 206.2 1032.2 204.7C1034.9 203.2 1037.6 201.1 1040.3 198.7C1043.0 196.4 1045.7 193.4 1048.4 190.6C1051.1 187.8 1053.6 185.2 1056.5 182.0C1059.4 178.8 1062.8 174.8 1066.0 171.2C1069.1 167.6 1072.5 163.2 1075.4 160.4C1078.3 157.6 1081.5 155.4 1083.5 154.2C1085.5 153.0 1086.2 152.9 1087.5 153.1C1088.9 153.3 1090.0 154.2 1091.6 155.5C1093.2 156.8 1095.2 159.9 1097.0 160.9C1098.8 162.0 1100.6 161.8 1102.4 161.8C1104.2 161.8 1105.8 160.5 1107.8 160.9C1109.8 161.4 1111.8 163.1 1114.5 164.4C1117.2 165.8 1120.6 167.5 1124.0 169.0C1127.4 170.6 1131.2 172.4 1134.8 173.9C1138.4 175.4 1142.0 176.8 1145.6 177.9C1149.2 179.1 1152.8 180.0 1156.4 180.7C1160.0 181.3 1163.6 181.9 1167.2 182.0C1170.8 182.1 1174.4 181.6 1178.0 181.2C1181.6 180.7 1185.2 180.1 1188.8 179.3C1192.4 178.5 1196.0 177.7 1199.6 176.6C1203.2 175.5 1207.2 174.0 1210.4 172.6C1213.6 171.1 1215.8 169.8 1218.5 168.0C1221.2 166.2 1223.9 164.1 1226.6 161.8C1229.3 159.4 1232.0 156.8 1234.7 153.7C1237.4 150.5 1240.1 146.7 1242.8 142.8C1245.5 139.0 1248.2 134.1 1250.9 130.7C1253.6 127.3 1256.3 124.6 1259.0 122.6C1261.7 120.6 1263.9 119.7 1267.1 118.5C1270.2 117.4 1274.3 117.0 1277.9 115.8C1281.5 114.7 1285.1 113.0 1288.7 111.8C1292.3 110.6 1296.6 109.7 1299.5 108.6C1302.4 107.4 1304.5 106.5 1306.2 105.0C1308.0 103.6 1309.1 95.8 1309.8 99.7C1310.4 103.5 1310.6 119.7 1310.3 128.0C1310.0 136.3 1309.3 142.8 1308.1 149.6C1307.0 156.3 1305.4 163.1 1303.5 168.5C1301.7 173.9 1299.3 177.9 1296.8 182.0C1294.3 186.1 1291.4 189.9 1288.7 192.8C1286.0 195.7 1283.3 197.4 1280.6 199.6C1277.9 201.7 1275.2 204.0 1272.5 205.8C1269.8 207.6 1267.1 208.7 1264.4 210.3C1261.7 212.0 1259.0 213.5 1256.3 215.8C1253.6 218.0 1250.7 221.6 1248.2 223.8C1245.7 226.1 1243.7 228.1 1241.5 229.2C1239.2 230.4 1236.7 230.7 1234.7 230.6C1232.7 230.5 1231.3 229.4 1229.3 228.4C1227.3 227.4 1224.6 225.6 1222.5 224.7C1220.5 223.8 1219.6 223.2 1217.2 223.0C1214.7 222.9 1211.1 223.1 1207.7 223.8C1204.3 224.6 1201.0 226.3 1196.9 227.4C1192.9 228.4 1187.9 229.2 1183.4 230.1C1178.9 231.0 1174.4 231.9 1169.9 232.8C1165.4 233.7 1160.9 234.6 1156.4 235.5C1151.9 236.4 1147.4 237.2 1142.9 238.2C1138.4 239.2 1133.9 240.4 1129.4 241.4C1124.9 242.4 1120.4 243.3 1115.9 244.4C1111.4 245.4 1106.9 246.5 1102.4 247.6C1097.9 248.7 1093.0 249.9 1088.9 251.1C1084.9 252.3 1081.2 253.4 1078.1 254.9C1074.9 256.4 1072.5 258.3 1070.0 260.3C1067.5 262.3 1065.5 265.0 1063.2 267.1C1061.0 269.1 1058.5 269.8 1056.5 272.4C1054.5 275.1 1052.9 279.0 1051.1 283.2C1049.3 287.5 1047.5 293.4 1045.7 298.1C1043.9 302.8 1042.1 308.2 1040.3 311.6C1038.5 315.0 1036.7 316.8 1034.9 318.4C1033.1 319.9 1031.3 320.6 1029.5 321.1C1027.7 321.5 1026.3 321.6 1024.1 321.3C1021.8 321.0 1019.1 320.3 1016.0 319.2C1012.9 318.0 1008.8 315.8 1005.2 314.3C1001.6 312.8 998.0 311.6 994.4 310.2C990.8 308.9 987.2 307.3 983.6 306.2C980.0 305.1 976.4 304.2 972.8 303.5C969.2 302.8 965.6 302.5 962.0 302.1C958.4 301.8 954.8 301.4 951.2 301.3C947.6 301.3 944.0 301.4 940.4 301.9C936.8 302.3 933.2 303.0 929.6 304.0C926.0 305.1 922.4 306.7 918.8 308.4C915.2 310.0 911.6 311.6 908.0 313.8C904.4 315.9 900.8 318.3 897.2 321.1C893.6 323.8 889.5 327.4 886.4 330.5C883.2 333.6 880.8 337.0 878.3 339.9C875.8 342.9 873.6 345.7 871.5 348.1C869.5 350.4 867.7 352.9 866.1 354.0C864.6 355.1 863.7 355.0 862.1 354.8C860.5 354.6 859.0 353.9 856.7 352.6C854.5 351.4 851.3 348.9 848.6 347.2C845.9 345.6 843.2 343.5 840.5 342.6C837.8 341.8 834.9 341.6 832.4 341.8C829.9 342.1 827.5 343.1 825.6 344.0C823.8 344.9 821.8 346.7 821.1 347.2" fill="none" stroke="#9010ff" stroke-width="3.1" stroke-linecap="round" stroke-linejoin="round" />
<path d="M821.1 335.4C821.2 335.1 821.8 337.1 822.2 334.0C822.6 330.9 822.7 322.4 823.2 316.6C823.8 310.7 824.4 304.9 825.4 299.1C826.4 293.2 827.6 286.7 829.1 281.6C830.5 276.5 832.1 272.9 834.1 268.5C836.2 264.1 838.5 259.5 841.4 255.4C844.3 251.2 848.0 247.1 851.6 243.7C855.3 240.3 858.9 237.4 863.3 235.0C867.7 232.5 873.0 230.7 877.8 229.1C882.7 227.6 887.6 226.5 892.4 225.5C897.3 224.5 902.1 224.2 907.0 223.3C911.8 222.4 916.8 220.8 921.5 220.1C926.2 219.3 930.0 219.2 935.0 218.7C940.0 218.2 945.8 217.6 951.2 217.1C956.6 216.6 962.0 216.2 967.4 215.8C972.8 215.3 978.2 214.7 983.6 214.1C989.0 213.6 994.8 213.0 999.8 212.5C1004.8 212.0 1009.2 211.5 1013.3 210.9C1017.3 210.3 1020.9 209.8 1024.1 209.0C1027.2 208.2 1029.5 207.7 1032.2 206.3C1034.9 205.0 1037.6 202.9 1040.3 200.9C1043.0 198.9 1045.7 196.6 1048.4 194.2C1051.1 191.7 1053.6 189.0 1056.5 186.1C1059.4 183.1 1062.8 179.8 1066.0 176.6C1069.1 173.4 1072.5 169.5 1075.4 167.2C1078.3 164.8 1081.5 163.4 1083.5 162.6C1085.5 161.8 1086.2 162.0 1087.5 162.3C1088.9 162.6 1090.0 163.5 1091.6 164.4C1093.2 165.4 1095.2 167.3 1097.0 168.0C1098.8 168.6 1100.6 168.5 1102.4 168.5C1104.2 168.5 1105.8 167.5 1107.8 168.0C1109.8 168.4 1111.8 170.0 1114.5 171.2C1117.2 172.4 1120.6 173.8 1124.0 175.2C1127.4 176.7 1131.2 178.5 1134.8 179.8C1138.4 181.2 1142.0 182.4 1145.6 183.3C1149.2 184.3 1152.8 185.0 1156.4 185.5C1160.0 186.0 1163.6 186.5 1167.2 186.6C1170.8 186.6 1174.4 186.2 1178.0 185.8C1181.6 185.4 1185.2 184.9 1188.8 184.2C1192.4 183.4 1196.0 182.6 1199.6 181.5C1203.2 180.3 1207.2 178.8 1210.4 177.4C1213.6 176.0 1215.8 174.8 1218.5 173.1C1221.2 171.4 1223.9 169.5 1226.6 167.2C1229.3 164.8 1232.0 162.2 1234.7 159.1C1237.4 155.9 1240.1 152.1 1242.8 148.2C1245.5 144.4 1248.2 139.5 1250.9 136.1C1253.6 132.7 1256.3 129.8 1259.0 128.0C1261.7 126.2 1263.9 126.0 1267.1 125.3C1270.2 124.6 1274.3 124.8 1277.9 124.0C1281.5 123.1 1285.1 121.6 1288.7 120.4C1292.3 119.3 1296.6 118.3 1299.5 117.2C1302.4 116.1 1304.5 115.1 1306.2 114.0C1308.0 112.8 1309.1 107.2 1309.8 110.5C1310.4 113.7 1310.6 126.0 1310.3 133.4C1310.0 140.8 1309.3 148.2 1308.1 155.0C1307.0 161.8 1305.4 168.5 1303.5 173.9C1301.7 179.3 1299.3 183.6 1296.8 187.4C1294.3 191.2 1291.4 194.2 1288.7 196.8C1286.0 199.5 1283.3 201.1 1280.6 203.1C1277.9 205.0 1275.2 206.8 1272.5 208.5C1269.8 210.1 1267.1 211.2 1264.4 213.1C1261.7 214.9 1259.0 216.9 1256.3 219.3C1253.6 221.6 1250.7 225.1 1248.2 227.4C1245.7 229.6 1243.7 231.6 1241.5 232.8C1239.2 233.9 1236.7 234.4 1234.7 234.4C1232.7 234.4 1231.3 233.8 1229.3 232.8C1227.3 231.7 1224.6 229.1 1222.5 227.9C1220.5 226.7 1219.6 226.0 1217.2 225.7C1214.7 225.5 1211.1 225.8 1207.7 226.6C1204.3 227.3 1201.0 229.1 1196.9 230.1C1192.9 231.0 1187.9 231.5 1183.4 232.2C1178.9 233.0 1174.4 233.8 1169.9 234.7C1165.4 235.5 1160.9 236.4 1156.4 237.3C1151.9 238.2 1147.4 239.2 1142.9 240.1C1138.4 241.0 1133.9 242.0 1129.4 242.8C1124.9 243.5 1120.4 243.8 1115.9 244.6C1111.4 245.4 1106.9 246.6 1102.4 247.6C1097.9 248.6 1093.0 249.7 1088.9 250.8C1084.9 252.0 1081.2 253.0 1078.1 254.4C1074.9 255.7 1072.5 257.3 1070.0 258.9C1067.5 260.6 1065.5 262.7 1063.2 264.4C1061.0 266.0 1058.5 267.4 1056.5 268.9C1054.5 270.5 1052.9 271.0 1051.1 273.8C1049.3 276.6 1047.5 282.4 1045.7 285.9C1043.9 289.5 1042.1 292.9 1040.3 295.4C1038.5 297.9 1036.7 299.5 1034.9 300.8C1033.1 302.1 1031.3 302.5 1029.5 303.0C1027.7 303.4 1026.3 303.5 1024.1 303.5C1021.8 303.5 1019.1 303.1 1016.0 302.7C1012.9 302.3 1008.8 301.9 1005.2 301.3C1001.6 300.8 998.0 300.3 994.4 299.4C990.8 298.6 987.2 296.8 983.6 295.9C980.0 295.0 976.4 294.5 972.8 294.1C969.2 293.6 965.6 293.6 962.0 293.5C958.4 293.4 954.8 293.4 951.2 293.5C947.6 293.6 944.0 293.7 940.4 294.3C936.8 294.9 933.2 296.0 929.6 297.3C926.0 298.6 922.4 300.2 918.8 302.1C915.2 304.1 911.6 306.4 908.0 308.9C904.4 311.4 900.8 314.3 897.2 317.0C893.6 319.7 889.5 322.8 886.4 325.1C883.2 327.4 880.5 329.6 878.3 331.0C876.0 332.5 874.5 333.2 872.9 333.7C871.3 334.2 870.6 334.2 868.9 334.0C867.1 333.8 864.6 333.1 862.1 332.4C859.6 331.7 856.7 330.7 854.0 330.0C851.3 329.2 848.6 328.3 845.9 327.8C843.2 327.3 840.5 326.9 837.8 327.0C835.1 327.1 832.0 327.8 829.7 328.6C827.5 329.4 825.7 330.7 824.3 331.9C822.9 333.0 821.6 334.8 821.1 335.4" fill="none" stroke="#316eb4" stroke-width="3.1" stroke-linecap="round" stroke-linejoin="round" />
<text x="844.00" y="75.50" font-size="27" font-weight="bold" textLength="110.00" lengthAdjust="spacingAndGlyphs" >P-TiNbC</text>
<text x="844.00" y="126.50" font-size="27" font-weight="bold" ><tspan>0.5mV s</tspan><tspan dy="-11.34" font-size="16.74">-1</tspan></text>
<text x="1201.90" y="46.58" font-size="16.5" font-weight="bold" textLength="59.50" lengthAdjust="spacingAndGlyphs" >2.209V</text>
<text x="1084.60" y="120.02" font-size="16.5" font-weight="bold" textLength="48.62" lengthAdjust="spacingAndGlyphs" >1.27V</text>
<text x="1071.68" y="197.20" font-size="16.5" font-weight="bold" textLength="48.62" lengthAdjust="spacingAndGlyphs" >1.25V</text>
<text x="1192.38" y="204.00" font-size="16.5" font-weight="bold" textLength="58.82" lengthAdjust="spacingAndGlyphs" >1.949V</text>
<text x="975.80" y="272.68" font-size="16.5" font-weight="bold" textLength="60.18" lengthAdjust="spacingAndGlyphs" >0.967V</text>
<text x="1009.12" y="403.58" font-size="16.5" font-weight="bold" textLength="59.16" lengthAdjust="spacingAndGlyphs" >0.987V</text>
<text x="834.70" y="427.72" font-size="16.5" font-weight="bold" textLength="59.50" lengthAdjust="spacingAndGlyphs" >0.127V</text>
<line x1="1211.00" y1="315.20" x2="1261.00" y2="315.20" stroke="#f17a1c" stroke-width="3.5" stroke-linecap="round" />
<text x="1267.50" y="322.70" font-size="25.5" font-weight="bold" >2nd</text>
<line x1="1211.00" y1="348.10" x2="1261.00" y2="348.10" stroke="#2c8614" stroke-width="3.5" stroke-linecap="round" />
<text x="1267.50" y="355.60" font-size="25.5" font-weight="bold" >3rd</text>
<line x1="1211.00" y1="381.00" x2="1261.00" y2="381.00" stroke="#9010ff" stroke-width="3.5" stroke-linecap="round" />
<text x="1267.50" y="388.50" font-size="25.5" font-weight="bold" >4th</text>
<line x1="1211.00" y1="413.90" x2="1261.00" y2="413.90" stroke="#316eb4" stroke-width="3.5" stroke-linecap="round" />
<text x="1267.50" y="421.40" font-size="25.5" font-weight="bold" >5th</text>
<path d="M1441.5 137.5C1441.7 134.6 1442.0 124.5 1442.6 120.0C1443.2 115.5 1443.8 112.7 1444.9 110.4C1446.0 108.0 1445.9 107.4 1449.2 106.0C1452.6 104.6 1459.5 103.1 1465.0 102.1C1470.5 101.2 1476.7 101.0 1482.5 100.2C1488.3 99.4 1491.2 98.7 1500.0 97.2C1508.8 95.8 1523.3 93.5 1535.0 91.6C1546.7 89.6 1558.3 87.5 1570.0 85.5C1581.7 83.4 1593.3 81.5 1605.0 79.3C1616.7 77.1 1628.3 74.4 1640.0 72.3C1651.7 70.3 1663.3 69.1 1675.0 67.1C1686.7 65.0 1701.2 62.0 1710.0 60.1C1718.8 58.2 1722.0 57.2 1727.5 55.7C1733.0 54.2 1740.6 51.6 1743.2 50.8" fill="none" stroke="#000" stroke-width="3.0" stroke-linecap="butt" stroke-linejoin="round" stroke-dasharray="14.5 10.5" />
<path d="M1441.4 85.0C1442.1 88.5 1444.1 98.7 1445.8 106.0C1447.4 113.3 1449.2 120.6 1451.0 128.8C1452.8 136.9 1454.2 146.2 1456.2 155.0C1458.3 163.8 1460.6 173.1 1463.2 181.2C1465.9 189.4 1469.4 197.9 1472.0 204.0C1474.6 210.1 1477.2 214.4 1479.0 218.0C1480.8 221.6 1480.5 222.1 1482.5 225.4C1484.5 228.6 1488.9 232.8 1491.2 237.6C1493.6 242.4 1494.9 249.0 1496.5 254.2C1498.1 259.5 1499.4 264.0 1500.9 269.1C1502.3 274.2 1503.6 279.9 1505.2 284.9C1506.9 289.8 1508.6 294.2 1510.5 298.9C1512.4 303.5 1514.3 308.5 1516.6 312.9C1519.0 317.2 1521.7 321.3 1524.5 325.1C1527.3 328.9 1529.8 332.0 1533.2 335.6C1536.8 339.3 1541.1 343.6 1545.5 347.0C1549.9 350.4 1555.1 352.8 1559.5 355.8C1563.9 358.7 1567.7 361.6 1571.8 364.5C1575.8 367.4 1579.6 370.3 1584.0 373.2C1588.4 376.2 1593.6 379.4 1598.0 382.0C1602.4 384.6 1605.9 386.4 1610.2 389.0C1614.6 391.6 1619.9 395.1 1624.2 397.8C1628.6 400.4 1632.3 402.2 1636.5 404.8C1640.7 407.3 1645.0 410.8 1649.6 413.1C1654.3 415.5 1660.6 417.2 1664.5 418.8C1668.4 420.3 1671.8 422.0 1673.2 422.6" fill="none" stroke="#000" stroke-width="3.0" stroke-linecap="butt" stroke-linejoin="round" stroke-dasharray="14.5 10.5" />
<path d="M1441.4 389.0C1442.0 383.8 1443.4 368.6 1444.9 357.5C1446.3 346.4 1448.7 332.4 1450.1 322.5C1451.6 312.6 1452.6 306.8 1453.6 298.0C1454.6 289.2 1455.5 278.8 1456.2 270.0C1457.0 261.2 1457.3 253.4 1458.0 245.5C1458.7 237.6 1459.8 229.5 1460.6 222.8C1461.5 216.0 1462.5 209.5 1463.2 205.2C1464.0 201.0 1463.5 202.5 1465.0 197.0C1466.5 191.5 1469.7 180.1 1472.0 172.5C1474.3 164.9 1476.7 158.5 1479.0 151.5C1481.3 144.5 1483.7 136.9 1486.0 130.5C1488.3 124.1 1490.7 118.5 1493.0 113.0C1495.3 107.5 1497.7 101.6 1500.0 97.2C1502.3 92.9 1504.7 89.4 1507.0 86.8C1509.3 84.1 1510.8 83.5 1514.0 81.5C1517.2 79.5 1524.2 75.7 1526.2 74.5" fill="none" stroke="#1605cc" stroke-width="3.0" stroke-linecap="butt" stroke-linejoin="round" stroke-dasharray="14.5 10.5" />
<path d="M1441.4 81.5C1442.1 84.1 1444.1 92.0 1445.8 97.2C1447.4 102.5 1449.2 107.8 1451.0 113.0C1452.8 118.2 1454.8 122.9 1456.2 128.8C1457.7 134.6 1458.7 140.7 1459.8 148.0C1460.8 155.3 1461.6 165.5 1462.4 172.5C1463.1 179.5 1463.7 184.8 1464.1 190.0C1464.6 195.2 1463.7 199.2 1465.0 203.5C1466.3 207.8 1469.4 210.5 1472.0 215.8C1474.6 221.0 1478.6 227.4 1480.8 235.0C1482.9 242.6 1483.8 254.0 1485.1 261.2C1486.4 268.5 1487.6 272.6 1488.6 278.8C1489.6 284.9 1490.4 292.2 1491.2 298.0C1492.1 303.8 1492.9 308.5 1493.9 313.8C1494.9 319.0 1496.1 325.1 1497.4 329.5C1498.7 333.9 1500.0 336.2 1501.8 340.0C1503.5 343.8 1505.7 348.0 1507.9 352.2C1510.1 356.5 1512.2 361.1 1514.9 365.4C1517.5 369.6 1520.3 373.7 1523.6 377.6C1527.0 381.6 1531.1 385.1 1535.0 389.0C1538.9 392.9 1543.3 397.4 1547.2 401.2C1551.2 405.1 1556.7 410.3 1558.6 412.1" fill="none" stroke="#1605cc" stroke-width="3.0" stroke-linecap="butt" stroke-linejoin="round" stroke-dasharray="14.5 10.5" />
<path d="M1442.6 383.1C1442.8 377.3 1443.4 359.8 1443.8 348.1C1444.2 336.5 1444.7 324.8 1445.2 313.1C1445.7 301.5 1446.1 289.8 1446.6 278.1C1447.1 266.5 1447.5 253.4 1448.0 243.2C1448.5 232.9 1449.0 224.2 1449.4 216.9C1449.8 209.6 1450.1 205.4 1450.5 199.4C1450.8 193.4 1450.9 188.2 1451.3 180.7C1451.8 173.2 1452.3 161.1 1453.1 154.4C1453.8 147.7 1454.5 145.7 1455.7 140.4C1456.9 135.2 1458.6 128.7 1460.1 122.9C1461.5 117.1 1463.0 110.4 1464.5 105.4C1465.9 100.4 1467.2 97.1 1468.8 93.2C1470.4 89.2 1471.0 85.3 1474.1 81.8C1477.1 78.3 1482.7 75.2 1487.2 72.2C1491.7 69.1 1497.1 66.6 1501.2 63.4C1505.3 60.2 1508.9 55.8 1511.7 52.9C1514.5 50.0 1516.8 47.1 1517.8 45.9" fill="none" stroke="#2c820e" stroke-width="3.0" stroke-linecap="butt" stroke-linejoin="round" stroke-dasharray="14.5 10.5" />
<path d="M1441.4 383.8C1441.6 377.9 1442.2 360.4 1442.6 348.8C1443.0 337.1 1443.5 325.4 1444.0 313.8C1444.5 302.1 1444.9 290.4 1445.4 278.8C1445.9 267.1 1446.3 254.0 1446.8 243.8C1447.3 233.5 1447.8 224.8 1448.2 217.5C1448.6 210.2 1448.9 206.0 1449.2 200.0C1449.6 194.0 1449.7 188.8 1450.1 181.2C1450.6 173.8 1451.1 161.7 1451.9 155.0C1452.6 148.3 1453.3 146.2 1454.5 141.0C1455.7 135.8 1457.4 129.3 1458.9 123.5C1460.3 117.7 1461.8 111.0 1463.2 106.0C1464.7 101.0 1466.0 97.7 1467.6 93.8C1469.2 89.8 1469.8 85.9 1472.9 82.4C1475.9 78.9 1481.5 75.8 1486.0 72.8C1490.5 69.7 1495.9 67.2 1500.0 64.0C1504.1 60.8 1507.7 56.4 1510.5 53.5C1513.3 50.6 1515.6 47.7 1516.6 46.5" fill="none" stroke="#9208ff" stroke-width="3.0" stroke-linecap="butt" stroke-linejoin="round" stroke-dasharray="14.5 10.5" />
<path d="M1442.6 70.4C1443.0 74.2 1444.2 86.2 1445.2 93.2C1446.2 100.2 1447.4 105.7 1448.7 112.4C1450.0 119.1 1451.6 126.4 1453.1 133.4C1454.5 140.4 1456.3 147.4 1457.5 154.4C1458.6 161.4 1459.1 168.1 1460.1 175.4C1461.1 182.7 1462.3 188.6 1463.6 198.2C1464.9 207.7 1466.2 224.3 1468.0 232.7C1469.7 241.0 1472.5 242.3 1474.1 248.4C1475.7 254.5 1476.6 263.0 1477.6 269.4C1478.6 275.8 1479.3 279.9 1480.2 286.9C1481.1 293.9 1482.0 304.1 1482.8 311.4C1483.7 318.7 1484.4 324.5 1485.5 330.6C1486.5 336.8 1487.8 343.2 1489.0 348.1C1490.1 353.1 1491.3 356.3 1492.5 360.4C1493.6 364.5 1494.2 368.3 1496.0 372.6C1497.7 377.0 1500.6 382.0 1503.0 386.6C1505.3 391.3 1507.6 396.0 1510.0 400.6C1512.3 405.3 1514.8 411.1 1517.0 414.6C1519.1 418.2 1522.1 420.8 1523.1 422.0" fill="none" stroke="#2c820e" stroke-width="3.0" stroke-linecap="butt" stroke-linejoin="round" stroke-dasharray="14.5 10.5" />
<path d="M1441.4 71.0C1441.8 74.8 1443.0 86.8 1444.0 93.8C1445.0 100.8 1446.2 106.3 1447.5 113.0C1448.8 119.7 1450.4 127.0 1451.9 134.0C1453.3 141.0 1455.1 148.0 1456.2 155.0C1457.4 162.0 1457.9 168.7 1458.9 176.0C1459.9 183.3 1461.1 189.2 1462.4 198.8C1463.7 208.3 1465.0 224.9 1466.8 233.2C1468.5 241.6 1471.3 242.9 1472.9 249.0C1474.5 255.1 1475.4 263.6 1476.4 270.0C1477.4 276.4 1478.1 280.5 1479.0 287.5C1479.9 294.5 1480.8 304.7 1481.6 312.0C1482.5 319.3 1483.2 325.1 1484.2 331.2C1485.3 337.4 1486.6 343.8 1487.8 348.8C1488.9 353.7 1490.1 356.9 1491.2 361.0C1492.4 365.1 1493.0 368.9 1494.8 373.2C1496.5 377.6 1499.4 382.6 1501.8 387.2C1504.1 391.9 1506.4 396.6 1508.8 401.2C1511.1 405.9 1513.6 411.7 1515.8 415.2C1517.9 418.8 1520.9 421.4 1521.9 422.6" fill="none" stroke="#9208ff" stroke-width="3.0" stroke-linecap="butt" stroke-linejoin="round" stroke-dasharray="14.5 10.5" />
<path d="M1441.5 190.0C1441.7 187.1 1441.9 178.9 1442.2 172.5C1442.6 166.1 1443.1 156.8 1443.7 151.5C1444.2 146.2 1444.8 143.9 1445.8 141.0C1446.7 138.1 1447.8 136.3 1449.2 134.0C1450.7 131.7 1452.5 129.0 1454.5 127.0C1456.5 125.0 1458.9 123.2 1461.5 121.8C1464.1 120.3 1466.8 119.5 1470.2 118.6C1473.8 117.7 1477.5 117.0 1482.5 116.1C1487.5 115.3 1494.2 114.3 1500.0 113.5C1505.8 112.8 1508.8 112.3 1517.5 111.8C1526.2 111.2 1537.9 110.8 1552.5 110.4C1567.1 109.9 1587.5 109.6 1605.0 109.0C1622.5 108.4 1642.9 107.6 1657.5 106.9C1672.1 106.1 1680.8 105.4 1692.5 104.6C1704.2 103.8 1717.0 102.8 1727.5 102.0C1738.0 101.1 1746.8 100.6 1755.5 99.3C1764.2 98.1 1773.2 96.2 1780.0 94.6C1786.8 93.1 1789.9 91.6 1796.0 90.1C1802.1 88.6 1809.2 87.1 1816.4 85.7C1823.6 84.3 1831.2 83.0 1839.2 81.6C1847.1 80.2 1854.2 78.9 1864.0 77.5C1873.8 76.1 1886.7 74.5 1898.0 73.1C1909.3 71.7 1919.7 70.5 1932.0 69.4C1944.3 68.2 1965.2 66.8 1971.8 66.3" fill="none" stroke="#000" stroke-width="3.0" stroke-linecap="round" stroke-linejoin="round" />
<path d="M1441.4 74.5C1442.4 75.4 1445.0 78.2 1447.5 79.8C1450.0 81.3 1452.8 82.4 1456.2 83.6C1459.8 84.8 1464.1 85.7 1468.5 86.8C1472.9 87.8 1478.1 88.9 1482.5 89.9C1486.9 90.9 1491.2 91.9 1494.8 92.9C1498.2 93.9 1500.9 94.7 1503.5 95.8C1506.1 97.0 1508.5 98.2 1510.5 99.9C1512.5 101.6 1514.4 103.5 1515.8 106.0C1517.1 108.5 1517.6 111.0 1518.4 114.8C1519.1 118.5 1519.6 124.4 1520.1 128.8C1520.6 133.1 1520.9 136.9 1521.3 141.0C1521.8 145.1 1522.2 149.5 1522.8 153.2C1523.3 157.0 1523.9 160.5 1524.5 163.8C1525.1 167.0 1525.5 169.9 1526.2 172.5C1527.0 175.1 1527.7 177.5 1528.9 179.5C1530.0 181.5 1531.4 183.0 1533.2 184.8C1535.1 186.5 1537.9 188.1 1540.2 190.0C1542.6 191.9 1545.2 194.1 1547.2 196.1C1549.3 198.2 1550.8 199.8 1552.5 202.2C1554.2 204.7 1556.1 207.8 1557.8 211.0C1559.4 214.2 1560.7 217.7 1562.1 221.5C1563.6 225.3 1565.2 230.0 1566.5 233.8C1567.8 237.5 1568.8 240.8 1570.0 244.2C1571.2 247.8 1572.2 251.5 1573.5 254.8C1574.8 258.0 1576.3 260.3 1577.9 263.5C1579.5 266.7 1581.5 270.6 1583.1 274.0C1584.7 277.4 1585.6 279.7 1587.5 284.0C1589.4 288.3 1592.2 295.1 1594.5 299.8C1596.8 304.4 1599.2 308.2 1601.5 312.0C1603.8 315.8 1605.9 319.3 1608.5 322.5C1611.1 325.7 1614.0 328.3 1617.2 331.2C1620.5 334.2 1625.4 338.5 1627.8 340.0C1630.1 341.5 1629.2 340.0 1631.2 340.5C1633.3 341.0 1637.1 342.2 1640.0 343.1C1642.9 344.1 1645.8 345.2 1648.8 346.1C1651.7 347.1 1654.6 348.0 1657.5 348.8C1660.4 349.5 1663.8 349.9 1666.2 350.9C1668.7 351.8 1670.9 353.6 1672.4 354.4C1673.8 355.1 1674.0 355.4 1675.0 355.4C1676.0 355.4 1677.0 354.5 1678.5 354.4C1680.0 354.2 1681.4 354.0 1683.8 354.4C1686.1 354.7 1689.6 355.9 1692.5 356.6C1695.4 357.4 1698.3 358.2 1701.2 358.9C1704.2 359.6 1707.1 360.3 1710.0 360.6C1712.9 361.0 1715.8 360.6 1718.8 361.0C1721.7 361.4 1724.6 362.2 1727.5 363.1C1730.4 364.0 1733.3 365.3 1736.2 366.2C1739.2 367.2 1742.1 368.0 1745.0 368.9C1747.9 369.8 1750.8 370.6 1753.8 371.5C1756.7 372.4 1759.6 373.2 1762.5 374.1C1765.4 375.0 1768.3 375.9 1771.2 376.8C1774.2 377.6 1775.9 377.9 1780.0 379.4C1784.1 380.9 1790.5 383.6 1796.0 385.9C1801.5 388.2 1807.3 390.8 1813.0 393.4C1818.7 395.9 1824.3 398.6 1830.0 401.2C1835.7 403.8 1841.3 406.6 1847.0 409.0C1852.7 411.4 1858.9 413.7 1864.0 415.5C1869.1 417.2 1872.9 418.5 1877.6 419.6C1882.3 420.6 1889.8 421.5 1892.2 421.9" fill="none" stroke="#000" stroke-width="3.0" stroke-linecap="round" stroke-linejoin="round" />
<path d="M1441.4 389.0C1441.5 385.2 1441.8 374.4 1442.2 366.2C1442.7 358.1 1443.4 348.8 1444.0 340.0C1444.6 331.2 1445.2 321.9 1445.8 313.8C1446.3 305.6 1446.8 298.3 1447.5 291.0C1448.2 283.7 1449.2 276.7 1450.1 270.0C1451.0 263.3 1451.7 257.5 1452.8 250.8C1453.8 244.0 1454.9 236.8 1456.2 229.8C1457.6 222.8 1459.8 213.0 1460.6 208.8C1461.5 204.5 1460.2 208.6 1461.5 204.0C1462.8 199.4 1466.2 188.2 1468.5 181.2C1470.8 174.2 1473.2 168.1 1475.5 162.0C1477.8 155.9 1480.2 150.0 1482.5 144.5C1484.8 139.0 1487.2 133.7 1489.5 128.8C1491.8 123.8 1494.2 118.8 1496.5 114.8C1498.8 110.7 1501.2 106.9 1503.5 104.2C1505.8 101.6 1507.6 100.5 1510.5 99.0C1513.4 97.5 1516.9 96.7 1521.0 95.5C1525.1 94.3 1529.8 93.2 1535.0 92.0C1540.2 90.8 1546.7 89.5 1552.5 88.5C1558.3 87.5 1564.2 87.0 1570.0 85.9C1575.8 84.7 1581.7 83.0 1587.5 81.5C1593.3 80.0 1599.2 78.4 1605.0 77.1C1610.8 75.8 1616.7 74.6 1622.5 73.6C1628.3 72.7 1634.2 72.1 1640.0 71.3C1645.8 70.6 1651.7 70.0 1657.5 69.2C1663.3 68.5 1669.2 67.7 1675.0 67.0C1680.8 66.2 1686.7 65.9 1692.5 64.9C1698.3 63.9 1704.8 62.9 1710.0 60.9C1715.2 58.8 1719.3 55.6 1724.0 52.6C1728.7 49.6 1733.6 45.9 1738.0 43.0C1742.4 40.1 1745.4 37.1 1750.2 35.1C1755.1 33.1 1764.1 31.8 1766.9 31.1" fill="none" stroke="#1605cc" stroke-width="3.0" stroke-linecap="round" stroke-linejoin="round" />
<path d="M1441.4 76.2C1442.4 77.3 1445.0 80.6 1447.5 82.4C1450.0 84.1 1452.8 85.4 1456.2 86.8C1459.8 88.1 1464.1 89.1 1468.5 90.2C1472.9 91.4 1478.4 92.6 1482.5 93.8C1486.6 94.9 1490.1 96.1 1493.0 97.2C1495.9 98.4 1498.0 99.3 1500.0 100.8C1502.0 102.2 1503.8 104.0 1505.2 106.0C1506.7 108.0 1507.7 110.1 1508.8 113.0C1509.8 115.9 1510.4 119.7 1511.4 123.5C1512.4 127.3 1513.7 131.4 1514.9 135.8C1516.0 140.1 1517.2 145.1 1518.4 149.8C1519.5 154.4 1520.7 159.4 1521.9 163.8C1523.0 168.1 1524.1 172.8 1525.4 176.0C1526.7 179.2 1527.9 181.0 1529.8 183.0C1531.6 185.0 1534.4 186.5 1536.8 188.2C1539.1 190.0 1541.4 191.5 1543.8 193.5C1546.1 195.5 1549.0 198.2 1550.8 200.5C1552.5 202.8 1552.8 204.2 1554.2 207.0C1555.7 209.8 1557.8 213.1 1559.5 217.5C1561.2 221.9 1563.1 227.7 1564.8 233.2C1566.4 238.8 1567.7 244.6 1569.1 250.8C1570.6 256.9 1572.0 263.6 1573.5 270.0C1575.0 276.4 1576.4 283.4 1577.9 289.2C1579.3 295.1 1580.8 300.0 1582.2 305.0C1583.7 310.0 1585.2 315.1 1586.6 319.0C1588.1 322.9 1589.4 325.7 1591.0 328.6C1592.6 331.5 1593.9 334.2 1596.2 336.5C1598.6 338.8 1602.1 340.9 1605.0 342.6C1607.9 344.3 1610.8 345.4 1613.8 346.6C1616.7 347.9 1619.6 349.1 1622.5 350.1C1625.4 351.2 1628.3 352.2 1631.2 353.1C1634.2 354.1 1637.1 355.0 1640.0 355.8C1642.9 356.5 1645.8 357.1 1648.8 357.9C1651.7 358.6 1654.6 359.5 1657.5 360.1C1660.4 360.8 1663.0 361.2 1666.2 361.9C1669.5 362.5 1673.8 363.1 1676.8 364.0C1679.7 364.9 1681.1 366.0 1683.8 367.1C1686.4 368.2 1689.6 369.5 1692.5 370.6C1695.4 371.8 1698.3 373.0 1701.2 374.1C1704.2 375.3 1707.1 376.4 1710.0 377.6C1712.9 378.9 1715.8 380.3 1718.8 381.6C1721.7 383.0 1724.6 384.1 1727.5 385.5C1730.4 386.9 1733.3 388.4 1736.2 389.9C1739.2 391.3 1742.1 392.8 1745.0 394.2C1747.9 395.7 1750.8 397.2 1753.8 398.6C1756.7 400.0 1759.6 401.3 1762.5 402.6C1765.4 404.0 1768.3 405.4 1771.2 406.5C1774.2 407.6 1775.9 407.5 1780.0 409.1C1784.1 410.8 1791.1 414.7 1796.0 416.5C1800.9 418.3 1805.3 419.0 1809.6 419.9C1813.8 420.8 1819.5 421.6 1821.5 421.9" fill="none" stroke="#1605cc" stroke-width="3.0" stroke-linecap="round" stroke-linejoin="round" />
<path d="M1441.4 385.5C1441.6 380.8 1442.1 368.0 1442.6 357.5C1443.1 347.0 1443.8 334.2 1444.3 322.5C1444.9 310.8 1445.5 299.2 1446.1 287.5C1446.7 275.8 1447.3 262.7 1447.8 252.5C1448.4 242.3 1448.9 235.0 1449.6 226.2C1450.3 217.5 1450.8 209.0 1451.9 200.0C1453.0 191.0 1454.9 182.3 1456.2 172.5C1457.6 162.7 1458.4 150.3 1459.8 141.0C1461.1 131.7 1462.4 123.5 1464.1 116.5C1465.9 109.5 1467.2 103.5 1470.2 99.0C1473.3 94.5 1477.5 91.9 1482.5 89.4C1487.5 86.9 1494.2 86.0 1500.0 84.1C1505.8 82.2 1512.8 79.9 1517.5 78.0C1522.2 76.1 1525.1 74.4 1528.0 72.8C1530.9 71.1 1532.4 70.4 1535.0 68.4C1537.6 66.3 1541.1 63.9 1543.8 60.5C1546.4 57.1 1548.7 52.0 1550.8 48.2C1552.8 44.5 1554.2 40.4 1556.0 37.8C1557.8 35.1 1559.6 33.7 1561.2 32.5C1562.9 31.3 1564.9 31.0 1565.6 30.8" fill="none" stroke="#2c820e" stroke-width="3.0" stroke-linecap="round" stroke-linejoin="round" />
<path d="M1441.4 65.8C1441.8 68.4 1443.0 77.1 1444.0 81.5C1445.0 85.9 1446.0 88.8 1447.5 92.0C1449.0 95.2 1451.3 97.8 1452.8 100.8C1454.2 103.7 1455.2 105.7 1456.2 109.5C1457.3 113.3 1458.1 118.8 1458.9 123.5C1459.6 128.2 1460.0 132.2 1460.6 137.5C1461.2 142.8 1461.6 149.2 1462.4 155.0C1463.1 160.8 1464.1 166.7 1465.0 172.5C1465.9 178.3 1466.9 185.4 1467.6 190.0C1468.4 194.6 1468.4 195.4 1469.4 200.0C1470.4 204.6 1472.3 211.7 1473.8 217.5C1475.2 223.3 1476.8 229.2 1478.1 235.0C1479.4 240.8 1480.6 246.7 1481.6 252.5C1482.6 258.3 1483.5 264.2 1484.2 270.0C1485.0 275.8 1485.3 281.7 1486.0 287.5C1486.7 293.3 1487.8 299.2 1488.6 305.0C1489.5 310.8 1490.2 317.2 1491.2 322.5C1492.3 327.8 1493.4 332.6 1494.8 336.5C1496.1 340.4 1497.4 343.5 1499.1 346.1C1500.9 348.8 1503.1 350.6 1505.2 352.2C1507.4 353.9 1509.9 354.3 1512.2 355.8C1514.6 357.2 1516.6 359.2 1519.2 361.0C1521.9 362.8 1525.1 364.2 1528.0 366.2C1530.9 368.3 1534.1 370.6 1536.8 373.2C1539.4 375.9 1541.1 378.8 1543.8 382.0C1546.4 385.2 1549.9 389.3 1552.5 392.5C1555.1 395.7 1557.2 398.3 1559.5 401.2C1561.8 404.2 1564.5 407.4 1566.5 410.0C1568.5 412.6 1570.1 414.9 1571.8 417.0C1573.4 419.1 1575.8 421.7 1576.7 422.6" fill="none" stroke="#2c820e" stroke-width="3.0" stroke-linecap="round" stroke-linejoin="round" />
<path d="M1441.4 383.8C1441.5 379.4 1441.9 367.7 1442.2 357.5C1442.6 347.3 1443.2 334.2 1443.7 322.5C1444.1 310.8 1444.6 299.2 1445.0 287.5C1445.5 275.8 1446.1 262.7 1446.6 252.5C1447.2 242.3 1447.7 235.0 1448.4 226.2C1449.0 217.5 1449.6 207.2 1450.7 200.0C1451.7 192.8 1453.3 189.3 1454.5 183.0C1455.7 176.7 1456.8 168.7 1458.0 162.0C1459.2 155.3 1460.3 149.2 1461.5 142.8C1462.7 136.3 1463.8 129.0 1465.0 123.5C1466.2 118.0 1467.2 113.6 1468.5 109.5C1469.8 105.4 1471.1 102.1 1472.9 99.0C1474.6 95.9 1476.5 93.5 1479.0 91.1C1481.5 88.8 1484.2 87.0 1487.8 85.0C1491.2 83.0 1495.0 81.2 1500.0 78.9C1505.0 76.5 1511.7 73.6 1517.5 71.0C1523.3 68.4 1529.2 65.8 1535.0 63.1C1540.8 60.5 1546.7 57.9 1552.5 55.2C1558.3 52.6 1564.2 49.7 1570.0 47.4C1575.8 45.0 1583.4 43.1 1587.5 41.2C1591.6 39.4 1592.3 37.5 1594.5 36.0C1596.7 34.5 1598.6 33.3 1600.6 32.5C1602.7 31.7 1605.7 31.3 1606.8 31.1" fill="none" stroke="#9208ff" stroke-width="3.0" stroke-linecap="round" stroke-linejoin="round" />
<path d="M1441.4 69.2C1441.5 73.3 1441.7 86.8 1442.2 93.8C1442.8 100.8 1443.7 106.0 1444.9 111.2C1446.0 116.5 1447.4 120.6 1449.2 125.2C1451.1 129.9 1453.6 134.6 1456.2 139.2C1458.9 143.9 1462.1 149.2 1465.0 153.2C1467.9 157.3 1470.8 160.5 1473.8 163.8C1476.7 167.0 1479.6 169.6 1482.5 172.5C1485.4 175.4 1488.3 178.0 1491.2 181.2C1494.2 184.5 1498.0 188.6 1500.0 191.8C1502.0 194.9 1502.3 197.1 1503.5 200.0C1504.7 202.8 1506.0 205.0 1507.0 208.8C1508.0 212.5 1508.8 217.8 1509.6 222.8C1510.5 227.7 1511.4 233.2 1512.2 238.5C1513.1 243.8 1514.0 249.0 1514.9 254.2C1515.8 259.5 1516.5 264.5 1517.5 270.0C1518.5 275.5 1519.8 281.4 1521.0 287.5C1522.2 293.6 1523.5 300.3 1524.5 306.8C1525.5 313.2 1526.2 319.9 1527.1 326.0C1528.0 332.1 1528.9 338.5 1529.8 343.5C1530.6 348.5 1531.4 352.0 1532.4 355.8C1533.4 359.5 1534.7 363.6 1535.9 366.2C1537.0 368.9 1538.1 370.0 1539.4 371.5C1540.7 373.0 1542.1 373.0 1543.8 375.0C1545.4 377.0 1547.0 380.8 1549.0 383.8C1551.0 386.7 1553.7 389.6 1556.0 392.5C1558.3 395.4 1560.7 398.6 1563.0 401.2C1565.3 403.9 1567.4 406.1 1570.0 408.2C1572.6 410.4 1576.1 412.5 1578.8 414.4C1581.4 416.3 1583.9 418.3 1585.8 419.6C1587.6 421.0 1589.4 422.1 1590.1 422.6" fill="none" stroke="#9208ff" stroke-width="3.0" stroke-linecap="round" stroke-linejoin="round" />
<rect x="1441.60" y="13.40" width="530.40" height="427.40" fill="none" stroke="#000" stroke-width="3.5"/>
<line x1="1441.60" y1="442.35" x2="1441.60" y2="450.05" stroke="#000" stroke-width="3" stroke-linecap="butt" />
<line x1="1574.20" y1="442.35" x2="1574.20" y2="450.05" stroke="#000" stroke-width="3" stroke-linecap="butt" />
<line x1="1706.80" y1="442.35" x2="1706.80" y2="450.05" stroke="#000" stroke-width="3" stroke-linecap="butt" />
<line x1="1839.40" y1="442.35" x2="1839.40" y2="450.05" stroke="#000" stroke-width="3" stroke-linecap="butt" />
<line x1="1972.00" y1="442.35" x2="1972.00" y2="450.05" stroke="#000" stroke-width="3" stroke-linecap="butt" />
<line x1="1507.90" y1="442.35" x2="1507.90" y2="445.55" stroke="#000" stroke-width="3" stroke-linecap="butt" />
<line x1="1640.50" y1="442.35" x2="1640.50" y2="445.55" stroke="#000" stroke-width="3" stroke-linecap="butt" />
<line x1="1773.10" y1="442.35" x2="1773.10" y2="445.55" stroke="#000" stroke-width="3" stroke-linecap="butt" />
<line x1="1905.70" y1="442.35" x2="1905.70" y2="445.55" stroke="#000" stroke-width="3" stroke-linecap="butt" />
<line x1="1440.05" y1="82.00" x2="1432.35" y2="82.00" stroke="#000" stroke-width="3" stroke-linecap="butt" />
<line x1="1440.05" y1="167.25" x2="1432.35" y2="167.25" stroke="#000" stroke-width="3" stroke-linecap="butt" />
<line x1="1440.05" y1="252.50" x2="1432.35" y2="252.50" stroke="#000" stroke-width="3" stroke-linecap="butt" />
<line x1="1440.05" y1="337.75" x2="1432.35" y2="337.75" stroke="#000" stroke-width="3" stroke-linecap="butt" />
<line x1="1440.05" y1="423.00" x2="1432.35" y2="423.00" stroke="#000" stroke-width="3" stroke-linecap="butt" />
<line x1="1440.05" y1="39.38" x2="1436.85" y2="39.38" stroke="#000" stroke-width="3" stroke-linecap="butt" />
<line x1="1440.05" y1="124.62" x2="1436.85" y2="124.62" stroke="#000" stroke-width="3" stroke-linecap="butt" />
<line x1="1440.05" y1="209.88" x2="1436.85" y2="209.88" stroke="#000" stroke-width="3" stroke-linecap="butt" />
<line x1="1440.05" y1="295.12" x2="1436.85" y2="295.12" stroke="#000" stroke-width="3" stroke-linecap="butt" />
<line x1="1440.05" y1="380.38" x2="1436.85" y2="380.38" stroke="#000" stroke-width="3" stroke-linecap="butt" />
<text x="1441.60" y="474.80" font-size="24.5" text-anchor="middle" textLength="14.03" lengthAdjust="spacingAndGlyphs" >0</text>
<text x="1574.20" y="474.80" font-size="24.5" text-anchor="middle" textLength="42.10" lengthAdjust="spacingAndGlyphs" >200</text>
<text x="1706.80" y="474.80" font-size="24.5" text-anchor="middle" textLength="42.10" lengthAdjust="spacingAndGlyphs" >400</text>
<text x="1839.40" y="474.80" font-size="24.5" text-anchor="middle" textLength="42.10" lengthAdjust="spacingAndGlyphs" >600</text>
<text x="1972.00" y="474.80" font-size="24.5" text-anchor="middle" textLength="42.10" lengthAdjust="spacingAndGlyphs" >800</text>
<text x="1427.50" y="88.79" font-size="24" text-anchor="end" textLength="35.37" lengthAdjust="spacingAndGlyphs" >2.0</text>
<text x="1427.50" y="174.04" font-size="24" text-anchor="end" textLength="35.37" lengthAdjust="spacingAndGlyphs" >1.5</text>
<text x="1427.50" y="259.29" font-size="24" text-anchor="end" textLength="35.37" lengthAdjust="spacingAndGlyphs" >1.0</text>
<text x="1427.50" y="344.54" font-size="24" text-anchor="end" textLength="35.37" lengthAdjust="spacingAndGlyphs" >0.5</text>
<text x="1427.50" y="429.79" font-size="24" text-anchor="end" textLength="35.37" lengthAdjust="spacingAndGlyphs" >0.0</text>
<text x="1510.50" y="519.50" font-size="30.5" font-weight="bold" textLength="392.50" lengthAdjust="spacingAndGlyphs" >Specific capacity <tspan font-size="22.0">(</tspan>mAh g<tspan font-size="18.9" dy="-12.8">-1</tspan><tspan font-size="22.0" dy="12.8">)</tspan></text>
<text x="1378.50" y="228.00" font-size="32" font-weight="bold" text-anchor="middle" transform="rotate(-90 1378.50 228.00)" textLength="166.50" lengthAdjust="spacingAndGlyphs" >Voltage (V)</text>
<text x="1352.50" y="42.20" font-size="56" >c</text>
<text x="1794.00" y="117.30" font-size="21" font-weight="bold" textLength="142.50" lengthAdjust="spacingAndGlyphs" ><tspan>Ti</tspan><tspan dy="5.46" font-size="14.70">2</tspan><tspan dy="-5.46">CT</tspan><tspan dy="5.46" font-size="14.70">x</tspan><tspan dy="-5.46"> MXene</tspan></text>
<line x1="1792.50" y1="143.80" x2="1840.00" y2="143.80" stroke="#000" stroke-width="3.6" stroke-linecap="butt" stroke-dasharray="16.5 14.5"/>
<text x="1848.70" y="150.80" font-size="22" font-weight="bold" >1st</text>
<line x1="1792.50" y1="171.70" x2="1840.00" y2="171.70" stroke="#1605cc" stroke-width="3.6" stroke-linecap="butt" stroke-dasharray="16.5 14.5"/>
<text x="1848.70" y="178.70" font-size="22" font-weight="bold" >5th</text>
<line x1="1792.50" y1="199.60" x2="1840.00" y2="199.60" stroke="#2c820e" stroke-width="3.6" stroke-linecap="butt" stroke-dasharray="16.5 14.5"/>
<text x="1848.70" y="206.60" font-size="22" font-weight="bold" >100th</text>
<line x1="1792.50" y1="227.50" x2="1840.00" y2="227.50" stroke="#9208ff" stroke-width="3.6" stroke-linecap="butt" stroke-dasharray="16.5 14.5"/>
<text x="1848.70" y="234.50" font-size="22" font-weight="bold" >200th</text>
<text x="1794.00" y="262.80" font-size="21" font-weight="bold" textLength="163.00" lengthAdjust="spacingAndGlyphs" ><tspan>TiNbCT</tspan><tspan dy="5.46" font-size="14.70">x</tspan><tspan dy="-5.46"> MXene</tspan></text>
<line x1="1793.00" y1="289.00" x2="1843.00" y2="289.00" stroke="#000" stroke-width="3.6" stroke-linecap="round" />
<text x="1848.70" y="296.00" font-size="22" font-weight="bold" >1st</text>
<line x1="1793.00" y1="317.00" x2="1843.00" y2="317.00" stroke="#1605cc" stroke-width="3.6" stroke-linecap="round" />
<text x="1848.70" y="324.00" font-size="22" font-weight="bold" >5th</text>
<line x1="1793.00" y1="345.00" x2="1843.00" y2="345.00" stroke="#2c820e" stroke-width="3.6" stroke-linecap="round" />
<text x="1848.70" y="352.00" font-size="22" font-weight="bold" >100th</text>
<line x1="1793.00" y1="373.00" x2="1843.00" y2="373.00" stroke="#9208ff" stroke-width="3.6" stroke-linecap="round" />
<text x="1848.70" y="380.00" font-size="22" font-weight="bold" >200th</text>
<path d="M129.7 710.9C129.8 707.8 130.2 697.6 130.5 692.0C130.9 686.4 131.1 681.3 131.6 677.4C132.0 673.5 132.3 671.1 133.0 668.7C133.7 666.2 134.7 664.4 135.9 662.8C137.1 661.3 138.5 660.0 140.3 659.2C142.1 658.3 143.3 658.1 146.9 657.7C150.4 657.4 152.9 657.3 161.4 657.0C169.9 656.7 179.6 656.3 197.8 655.8C216.1 655.4 246.4 654.9 270.7 654.5C295.0 654.1 321.1 653.7 343.5 653.4C365.9 653.0 384.3 652.7 405.0 652.4C425.7 652.0 445.2 651.8 467.8 651.3C490.5 650.8 516.4 649.9 540.7 649.3C565.0 648.6 593.7 647.9 613.5 647.4C633.3 646.9 651.8 646.3 659.4 646.1" fill="none" stroke="#444" stroke-width="3.3" stroke-linecap="round" stroke-linejoin="round" />
<path d="M129.4 621.3C129.6 623.1 129.7 629.2 130.5 632.2C131.4 635.3 133.0 637.6 134.4 639.7C135.8 641.9 137.5 643.6 138.8 645.2C140.2 646.8 141.4 647.4 142.5 649.2C143.6 651.0 144.4 652.7 145.4 655.9C146.4 659.1 147.4 663.4 148.5 668.3C149.6 673.2 150.8 679.5 152.0 685.1C153.1 690.6 154.3 697.0 155.6 701.8C156.8 706.7 157.9 710.7 159.4 714.2C160.9 717.7 162.3 720.1 164.5 722.8C166.7 725.5 169.3 727.8 172.5 730.4C175.8 733.0 179.8 735.5 184.0 738.2C188.2 740.9 193.1 743.8 197.8 746.6C202.6 749.5 207.6 752.5 212.4 755.3C217.3 758.2 222.1 761.1 227.0 763.7C231.8 766.3 236.7 768.7 241.5 770.8C246.4 773.0 251.3 774.7 256.1 776.7C261.0 778.7 265.8 780.5 270.7 782.8C275.5 785.2 280.4 787.8 285.2 790.5C290.1 793.2 295.0 796.2 299.8 799.2C304.7 802.2 309.9 805.5 314.4 808.5C318.9 811.5 322.8 814.3 326.8 817.3C330.9 820.2 333.9 823.0 338.7 826.4C343.6 829.7 349.9 834.0 356.0 837.5C362.1 840.9 369.8 844.7 375.2 847.2C380.7 849.8 384.2 851.2 388.5 853.0C392.8 854.8 395.2 855.8 401.0 857.9C406.8 860.1 414.7 862.9 423.0 866.0C431.3 869.1 441.7 872.9 451.0 876.5C460.3 880.1 469.7 883.9 479.0 887.5C488.3 891.1 498.0 894.9 507.0 898.4C516.0 901.8 525.1 905.0 533.2 908.0C541.4 910.9 549.4 914.1 556.0 916.2C562.6 918.3 570.0 919.9 572.8 920.7" fill="none" stroke="#000" stroke-width="3.3" stroke-linecap="round" stroke-linejoin="round" />
<path d="M129.2 884.0C129.9 880.5 131.9 870.9 133.4 863.0C134.9 855.1 136.7 845.2 138.1 836.8C139.6 828.3 141.0 820.5 142.2 812.4C143.5 804.3 144.5 796.2 145.7 788.0C146.9 779.9 148.1 771.4 149.5 763.7C150.8 756.0 152.4 748.2 153.8 741.9C155.2 735.6 156.4 730.6 157.8 725.8C159.1 721.1 160.2 717.5 161.8 713.1C163.3 708.7 165.1 703.8 167.1 699.3C169.0 694.7 171.3 690.0 173.6 685.8C176.0 681.6 178.5 677.9 181.3 674.1C184.1 670.4 187.3 666.6 190.5 663.1C193.7 659.6 197.1 656.1 200.6 653.0C204.1 650.0 207.4 647.4 211.2 644.9C215.1 642.4 219.1 640.2 223.7 637.9C228.3 635.6 233.4 633.3 239.0 631.0C244.6 628.6 250.7 626.4 257.2 623.9C263.7 621.3 271.2 618.5 278.0 615.7C284.8 612.8 291.9 609.5 298.0 606.8C304.1 604.0 309.2 601.4 314.4 599.3C319.5 597.2 324.1 595.6 329.0 594.2C333.8 592.8 338.7 591.9 343.5 591.1C348.3 590.3 353.1 589.8 357.9 589.3C362.6 588.8 367.8 588.3 372.0 588.0C376.2 587.7 381.2 587.7 383.0 587.6" fill="none" stroke="#ff160c" stroke-width="3.3" stroke-linecap="round" stroke-linejoin="round" />
<path d="M129.4 621.3C129.6 623.1 129.6 629.1 130.5 632.2C131.4 635.4 132.9 637.8 134.8 640.3C136.6 642.8 139.0 645.1 141.8 647.3C144.5 649.5 148.0 651.3 151.2 653.4C154.5 655.4 158.0 657.3 161.2 659.6C164.5 661.8 167.7 664.2 170.8 666.8C173.9 669.5 177.1 672.5 180.0 675.6C183.0 678.7 185.9 682.0 188.7 685.4C191.4 688.9 193.9 692.4 196.4 696.2C198.9 700.1 201.2 704.2 203.7 708.3C206.1 712.5 208.5 716.9 211.0 721.2C213.4 725.4 215.8 729.7 218.2 733.9C220.7 738.0 223.2 741.9 225.7 745.9C228.2 749.9 230.9 753.6 233.4 757.7C235.8 761.8 238.3 766.0 240.6 770.5C243.0 774.9 245.2 779.7 247.4 784.5C249.6 789.3 251.6 794.2 253.9 799.2C256.2 804.3 258.5 809.4 261.1 814.6C263.7 819.9 266.6 825.5 269.3 830.5C272.1 835.6 275.0 840.6 277.6 844.8C280.3 849.0 282.7 852.2 285.4 855.5C288.1 858.7 290.5 861.1 293.9 864.2C297.2 867.3 300.9 870.5 305.6 874.2C310.3 877.9 316.0 882.2 322.1 886.4C328.1 890.7 335.2 895.4 342.0 899.8C348.8 904.1 357.0 909.3 363.0 912.7C369.0 916.1 375.6 919.1 378.1 920.4" fill="none" stroke="#ff160c" stroke-width="3.3" stroke-linecap="round" stroke-linejoin="round" />
<path d="M129.2 884.0C129.8 880.0 131.4 868.4 132.7 860.2C134.0 852.0 135.5 842.7 136.7 834.7C138.0 826.6 139.2 819.5 140.3 811.7C141.4 803.9 142.4 796.0 143.6 788.0C144.7 780.0 146.0 771.4 147.3 763.7C148.6 756.0 150.2 748.2 151.6 741.9C153.0 735.6 154.3 730.6 155.6 725.8C156.9 721.1 158.1 717.5 159.6 713.1C161.1 708.7 162.9 703.8 164.9 699.3C166.9 694.7 169.1 690.0 171.5 685.8C174.0 681.6 176.6 677.9 179.5 674.1C182.4 670.4 185.7 666.6 189.0 663.1C192.3 659.6 195.8 656.1 199.3 653.2C202.8 650.2 206.1 647.7 209.9 645.3C213.6 642.9 217.3 641.0 221.9 638.9C226.4 636.9 231.4 634.9 237.2 633.1C242.9 631.2 249.7 629.5 256.5 627.7C263.3 626.0 270.7 624.5 278.0 622.5C285.2 620.6 292.8 618.5 299.8 616.0C306.8 613.6 313.8 610.6 319.8 608.0C325.9 605.4 330.8 602.7 336.2 600.6C341.7 598.4 347.0 596.5 352.6 594.9C358.3 593.3 364.9 592.2 370.3 591.1C375.7 590.0 380.4 589.1 385.0 588.5C389.6 587.9 395.8 587.8 398.0 587.6" fill="none" stroke="#0c0cff" stroke-width="3.3" stroke-linecap="round" stroke-linejoin="round" />
<path d="M129.4 621.3C129.6 623.1 129.6 629.2 130.5 632.2C131.4 635.3 132.9 637.5 134.8 639.9C136.6 642.3 139.0 644.5 141.8 646.6C144.5 648.8 148.0 650.6 151.2 652.6C154.4 654.7 157.9 656.6 161.1 658.8C164.2 661.1 167.2 663.4 170.2 666.1C173.1 668.8 176.0 671.8 178.9 674.9C181.8 678.0 184.6 681.2 187.3 684.7C189.9 688.2 192.4 691.7 194.9 695.6C197.4 699.5 199.8 703.8 202.2 708.0C204.6 712.3 207.1 716.8 209.5 721.1C211.9 725.4 214.3 729.7 216.8 733.9C219.3 738.0 221.8 741.9 224.4 745.9C227.0 749.8 229.8 753.5 232.4 757.5C235.1 761.5 237.6 765.5 240.1 769.9C242.6 774.3 244.9 779.0 247.4 783.8C249.8 788.6 252.2 793.6 254.7 798.7C257.1 803.8 259.6 809.1 262.3 814.5C264.9 819.8 267.8 825.5 270.5 830.5C273.3 835.6 276.1 840.6 278.6 844.6C281.2 848.6 283.4 851.7 286.0 854.6C288.6 857.5 290.8 859.3 294.1 861.8C297.3 864.3 300.9 866.5 305.6 869.5C310.3 872.4 316.0 875.9 322.1 879.5C328.1 883.0 335.2 887.1 342.0 890.8C348.8 894.6 356.0 898.4 363.0 902.0C370.0 905.7 377.9 909.6 384.0 912.7C390.1 915.8 396.8 919.1 399.4 920.4" fill="none" stroke="#0c0cff" stroke-width="3.3" stroke-linecap="round" stroke-linejoin="round" />
<path d="M129.2 884.0C129.7 879.7 131.2 866.3 132.3 858.1C133.4 849.9 134.7 842.5 135.8 834.8C136.9 827.2 137.9 819.9 138.9 812.1C139.9 804.3 140.8 796.1 141.9 788.0C143.0 780.0 144.2 771.4 145.4 763.7C146.7 756.0 148.2 748.2 149.5 741.9C150.8 735.6 152.1 730.6 153.4 725.8C154.7 721.1 155.9 717.5 157.4 713.1C159.0 708.7 160.7 703.8 162.7 699.3C164.7 694.7 166.9 690.0 169.4 685.8C171.9 681.6 174.6 677.9 177.6 674.1C180.6 670.4 184.1 666.7 187.5 663.2C190.8 659.8 194.4 656.3 197.8 653.4C201.3 650.6 204.6 648.1 208.4 645.9C212.2 643.6 215.8 641.7 220.4 639.8C225.0 637.9 229.8 636.2 236.1 634.6C242.3 633.0 249.7 631.6 257.9 630.2C266.1 628.9 275.8 627.7 285.2 626.6C294.7 625.5 305.0 624.5 314.4 623.5C323.8 622.5 333.3 621.7 341.7 620.6C350.1 619.5 357.5 618.6 364.6 617.0C371.8 615.3 378.7 612.9 384.8 610.8C390.8 608.6 396.4 605.8 401.0 603.8C405.5 601.9 408.2 600.5 412.1 598.9C415.9 597.4 419.6 595.9 424.1 594.5C428.6 593.1 434.0 591.7 439.1 590.7C444.3 589.6 449.8 588.7 455.0 588.2C460.2 587.7 467.9 587.6 470.5 587.5" fill="none" stroke="#08047c" stroke-width="3.3" stroke-linecap="round" stroke-linejoin="round" />
<path d="M129.4 621.3C129.6 623.1 129.6 629.2 130.5 632.2C131.4 635.3 132.9 637.5 134.8 639.8C136.6 642.1 138.9 644.1 141.8 646.0C144.6 647.8 148.1 649.3 151.6 650.9C155.1 652.4 159.1 653.7 162.9 655.1C166.7 656.5 170.8 657.6 174.5 659.1C178.2 660.6 182.0 662.1 185.1 664.0C188.2 665.9 190.7 668.4 193.1 670.6C195.5 672.8 197.5 675.1 199.7 677.2C201.8 679.4 204.1 681.3 206.2 683.6C208.3 685.9 210.4 688.3 212.4 691.2C214.4 694.2 216.3 697.6 218.2 701.1C220.2 704.6 222.1 708.6 224.1 712.4C226.0 716.1 227.9 720.1 229.9 723.7C231.9 727.2 233.8 730.6 236.1 733.7C238.3 736.8 240.8 739.4 243.4 742.2C246.0 745.0 249.0 747.6 251.7 750.4C254.5 753.3 257.4 756.1 260.1 759.4C262.8 762.6 265.3 766.0 267.8 769.9C270.3 773.8 272.6 778.1 275.1 782.7C277.5 787.2 279.9 792.1 282.3 797.2C284.8 802.3 287.2 807.9 289.7 813.4C292.2 818.9 294.8 824.9 297.4 830.2C300.1 835.4 302.8 840.6 305.6 844.8C308.4 849.0 311.3 852.4 314.4 855.5C317.4 858.5 320.6 860.9 324.1 863.2C327.7 865.5 331.3 867.3 335.7 869.3C340.1 871.3 345.0 873.1 350.8 875.2C356.5 877.4 363.1 879.5 370.0 881.9C376.9 884.3 384.5 886.8 392.0 889.4C399.5 892.0 407.5 894.9 415.0 897.7C422.5 900.4 430.1 903.2 437.0 905.7C443.9 908.2 450.4 910.6 456.2 912.6C462.1 914.6 467.6 916.5 472.0 917.9C476.4 919.2 480.8 920.2 482.5 920.7" fill="none" stroke="#08047c" stroke-width="3.3" stroke-linecap="round" stroke-linejoin="round" />
<path d="M129.2 884.0C129.7 879.3 131.1 864.2 132.0 856.0C132.9 847.8 133.9 842.3 134.8 835.0C135.7 827.7 136.6 820.2 137.4 812.4C138.2 804.6 138.9 796.2 139.8 788.0C140.7 779.9 141.7 771.4 142.8 763.7C144.0 756.0 145.4 748.2 146.7 741.9C147.9 735.6 149.2 730.6 150.5 725.8C151.8 721.1 152.9 717.5 154.5 713.1C156.1 708.7 157.9 703.8 160.0 699.3C162.1 694.7 164.5 690.0 167.1 685.8C169.7 681.6 172.5 677.9 175.6 674.1C178.8 670.4 182.4 666.6 185.8 663.2C189.3 659.8 192.9 656.4 196.4 653.6C199.9 650.7 203.2 648.4 206.9 646.3C210.7 644.1 214.3 642.3 219.0 640.6C223.6 638.9 228.6 637.4 235.0 636.1C241.4 634.7 249.2 633.5 257.6 632.4C265.9 631.2 275.8 630.2 285.2 629.2C294.7 628.2 304.7 627.3 314.4 626.5C324.1 625.7 333.7 625.0 343.5 624.3C353.4 623.6 364.4 623.0 373.5 622.3C382.5 621.6 391.6 621.1 398.1 620.3C404.5 619.6 407.7 618.9 412.1 617.8C416.4 616.6 419.7 615.2 424.1 613.5C428.6 611.7 433.8 609.5 438.7 607.3C443.6 605.1 448.4 602.6 453.3 600.6C458.1 598.5 462.4 596.6 467.8 595.0C473.2 593.5 478.6 592.3 485.7 591.2C492.7 590.0 504.0 588.6 510.0 588.0C516.0 587.4 519.8 587.5 521.8 587.4" fill="none" stroke="#8008ff" stroke-width="3.3" stroke-linecap="round" stroke-linejoin="round" />
<path d="M129.4 621.3C129.6 623.1 129.6 629.2 130.5 632.2C131.4 635.3 132.9 637.5 134.8 639.7C136.6 642.0 138.9 643.9 141.8 645.7C144.6 647.5 148.1 649.0 151.6 650.5C155.1 651.9 159.1 653.3 162.9 654.6C166.7 656.0 170.8 657.2 174.5 658.5C178.3 659.7 182.2 660.9 185.5 662.3C188.7 663.7 191.6 665.2 194.2 667.0C196.7 668.8 198.6 670.9 200.8 673.0C202.9 675.1 204.8 677.3 206.9 679.6C209.1 681.9 211.4 684.0 213.5 686.7C215.6 689.4 217.7 692.3 219.7 695.6C221.7 698.9 223.6 702.8 225.5 706.5C227.5 710.3 229.4 714.4 231.3 718.2C233.3 722.0 235.1 725.8 237.2 729.1C239.2 732.5 241.3 735.4 243.7 738.2C246.2 741.0 249.0 743.3 251.7 745.9C254.5 748.4 257.6 750.8 260.5 753.5C263.3 756.3 266.2 759.1 268.9 762.3C271.5 765.5 274.0 768.9 276.5 772.8C279.0 776.7 281.4 781.1 283.8 785.6C286.2 790.1 288.7 794.9 291.1 799.8C293.5 804.7 295.9 809.8 298.3 814.8C300.8 819.9 303.2 825.4 305.7 830.2C308.2 835.0 310.7 839.7 313.3 843.6C315.9 847.5 318.5 850.7 321.5 853.7C324.5 856.8 327.6 859.3 331.1 861.8C334.7 864.2 338.3 866.3 342.7 868.4C347.1 870.5 352.0 872.4 357.8 874.4C363.5 876.4 370.1 878.4 377.0 880.5C383.9 882.6 391.2 884.7 399.0 886.8C406.8 888.9 415.1 891.0 423.8 893.1C432.4 895.2 441.8 897.3 451.0 899.4C460.2 901.5 470.0 903.6 479.0 905.7C488.0 907.8 497.1 909.8 505.2 911.8C513.4 913.7 521.9 915.8 528.0 917.3C534.1 918.8 539.7 920.1 542.0 920.7" fill="none" stroke="#8008ff" stroke-width="3.3" stroke-linecap="round" stroke-linejoin="round" />
<rect x="129.00" y="530.50" width="531.70" height="426.30" fill="none" stroke="#000" stroke-width="3.5"/>
<line x1="129.00" y1="958.35" x2="129.00" y2="964.55" stroke="#000" stroke-width="3" stroke-linecap="butt" />
<line x1="235.34" y1="958.35" x2="235.34" y2="964.55" stroke="#000" stroke-width="3" stroke-linecap="butt" />
<line x1="341.68" y1="958.35" x2="341.68" y2="964.55" stroke="#000" stroke-width="3" stroke-linecap="butt" />
<line x1="448.02" y1="958.35" x2="448.02" y2="964.55" stroke="#000" stroke-width="3" stroke-linecap="butt" />
<line x1="554.36" y1="958.35" x2="554.36" y2="964.55" stroke="#000" stroke-width="3" stroke-linecap="butt" />
<line x1="660.70" y1="958.35" x2="660.70" y2="964.55" stroke="#000" stroke-width="3" stroke-linecap="butt" />
<line x1="182.17" y1="958.35" x2="182.17" y2="961.05" stroke="#000" stroke-width="3" stroke-linecap="butt" />
<line x1="288.51" y1="958.35" x2="288.51" y2="961.05" stroke="#000" stroke-width="3" stroke-linecap="butt" />
<line x1="394.85" y1="958.35" x2="394.85" y2="961.05" stroke="#000" stroke-width="3" stroke-linecap="butt" />
<line x1="501.19" y1="958.35" x2="501.19" y2="961.05" stroke="#000" stroke-width="3" stroke-linecap="butt" />
<line x1="607.53" y1="958.35" x2="607.53" y2="961.05" stroke="#000" stroke-width="3" stroke-linecap="butt" />
<line x1="127.45" y1="565.70" x2="121.25" y2="565.70" stroke="#000" stroke-width="3" stroke-linecap="butt" />
<line x1="127.45" y1="636.90" x2="121.25" y2="636.90" stroke="#000" stroke-width="3" stroke-linecap="butt" />
<line x1="127.45" y1="708.10" x2="121.25" y2="708.10" stroke="#000" stroke-width="3" stroke-linecap="butt" />
<line x1="127.45" y1="779.30" x2="121.25" y2="779.30" stroke="#000" stroke-width="3" stroke-linecap="butt" />
<line x1="127.45" y1="850.50" x2="121.25" y2="850.50" stroke="#000" stroke-width="3" stroke-linecap="butt" />
<line x1="127.45" y1="921.70" x2="121.25" y2="921.70" stroke="#000" stroke-width="3" stroke-linecap="butt" />
<line x1="127.45" y1="601.30" x2="124.75" y2="601.30" stroke="#000" stroke-width="3" stroke-linecap="butt" />
<line x1="127.45" y1="672.50" x2="124.75" y2="672.50" stroke="#000" stroke-width="3" stroke-linecap="butt" />
<line x1="127.45" y1="743.70" x2="124.75" y2="743.70" stroke="#000" stroke-width="3" stroke-linecap="butt" />
<line x1="127.45" y1="814.90" x2="124.75" y2="814.90" stroke="#000" stroke-width="3" stroke-linecap="butt" />
<line x1="127.45" y1="886.10" x2="124.75" y2="886.10" stroke="#000" stroke-width="3" stroke-linecap="butt" />
<line x1="127.45" y1="957.30" x2="124.75" y2="957.30" stroke="#000" stroke-width="3" stroke-linecap="butt" />
<text x="129.00" y="988.50" font-size="20.5" text-anchor="middle" textLength="12.20" lengthAdjust="spacingAndGlyphs" >0</text>
<text x="235.34" y="988.50" font-size="20.5" text-anchor="middle" textLength="24.40" lengthAdjust="spacingAndGlyphs" >50</text>
<text x="341.68" y="988.50" font-size="20.5" text-anchor="middle" textLength="36.60" lengthAdjust="spacingAndGlyphs" >100</text>
<text x="448.02" y="988.50" font-size="20.5" text-anchor="middle" textLength="36.60" lengthAdjust="spacingAndGlyphs" >150</text>
<text x="554.36" y="988.50" font-size="20.5" text-anchor="middle" textLength="36.60" lengthAdjust="spacingAndGlyphs" >200</text>
<text x="660.70" y="988.50" font-size="20.5" text-anchor="middle" textLength="36.60" lengthAdjust="spacingAndGlyphs" >250</text>
<text x="112.50" y="571.24" font-size="20.5" text-anchor="end" textLength="30.49" lengthAdjust="spacingAndGlyphs" >2.5</text>
<text x="112.50" y="642.44" font-size="20.5" text-anchor="end" textLength="30.49" lengthAdjust="spacingAndGlyphs" >2.0</text>
<text x="112.50" y="713.64" font-size="20.5" text-anchor="end" textLength="30.49" lengthAdjust="spacingAndGlyphs" >1.5</text>
<text x="112.50" y="784.84" font-size="20.5" text-anchor="end" textLength="30.49" lengthAdjust="spacingAndGlyphs" >1.0</text>
<text x="112.50" y="856.04" font-size="20.5" text-anchor="end" textLength="30.49" lengthAdjust="spacingAndGlyphs" >0.5</text>
<text x="112.50" y="927.24" font-size="20.5" text-anchor="end" textLength="30.49" lengthAdjust="spacingAndGlyphs" >0.0</text>
<text x="192.50" y="1041.50" font-size="31.5" font-weight="bold" textLength="404.00" lengthAdjust="spacingAndGlyphs" >Specific capacity <tspan font-size="22.7">(</tspan>mAh g<tspan font-size="19.5" dy="-13.2">-1</tspan><tspan font-size="22.7" dy="13.2">)</tspan></text>
<text x="69.00" y="745.00" font-size="32" font-weight="bold" text-anchor="middle" transform="rotate(-90 69.00 745.00)" textLength="166.00" lengthAdjust="spacingAndGlyphs" >Voltage (V)</text>
<text x="37.00" y="562.70" font-size="53" >d</text>
<text x="156.50" y="569.00" font-size="25" font-weight="bold" textLength="174.00" lengthAdjust="spacingAndGlyphs" ><tspan>TiNbC 0.2A g</tspan><tspan dy="-10.50" font-size="15.50">-1</tspan></text>
<line x1="440.00" y1="713.60" x2="496.00" y2="713.60" stroke="#000" stroke-width="3.5" stroke-linecap="round" />
<text x="501.60" y="721.60" font-size="25" font-weight="bold" >1st</text>
<text x="570.50" y="721.60" font-size="25" font-weight="bold" >cycle</text>
<line x1="440.00" y1="744.05" x2="496.00" y2="744.05" stroke="#ff160c" stroke-width="3.5" stroke-linecap="round" />
<text x="501.60" y="752.05" font-size="25" font-weight="bold" >200th</text>
<text x="571.00" y="752.05" font-size="25" font-weight="bold" >cycle</text>
<line x1="440.00" y1="774.50" x2="496.00" y2="774.50" stroke="#0c0cff" stroke-width="3.5" stroke-linecap="round" />
<text x="501.60" y="782.50" font-size="25" font-weight="bold" >400th</text>
<text x="571.00" y="782.50" font-size="25" font-weight="bold" >cycle</text>
<line x1="440.00" y1="804.95" x2="496.00" y2="804.95" stroke="#08047c" stroke-width="3.5" stroke-linecap="round" />
<text x="501.60" y="812.95" font-size="25" font-weight="bold" >600th</text>
<text x="571.00" y="812.95" font-size="25" font-weight="bold" >cycle</text>
<line x1="440.00" y1="835.40" x2="496.00" y2="835.40" stroke="#8008ff" stroke-width="3.5" stroke-linecap="round" />
<text x="501.60" y="843.40" font-size="25" font-weight="bold" >800th</text>
<text x="571.00" y="843.40" font-size="25" font-weight="bold" >cycle</text>
<rect x="805.20" y="529.30" width="532.00" height="427.00" fill="none" stroke="#000" stroke-width="3.5"/>
<line x1="805.20" y1="957.85" x2="805.20" y2="965.55" stroke="#000" stroke-width="3" stroke-linecap="butt" />
<line x1="901.84" y1="957.85" x2="901.84" y2="965.55" stroke="#000" stroke-width="3" stroke-linecap="butt" />
<line x1="998.48" y1="957.85" x2="998.48" y2="965.55" stroke="#000" stroke-width="3" stroke-linecap="butt" />
<line x1="1095.12" y1="957.85" x2="1095.12" y2="965.55" stroke="#000" stroke-width="3" stroke-linecap="butt" />
<line x1="1191.76" y1="957.85" x2="1191.76" y2="965.55" stroke="#000" stroke-width="3" stroke-linecap="butt" />
<line x1="1288.40" y1="957.85" x2="1288.40" y2="965.55" stroke="#000" stroke-width="3" stroke-linecap="butt" />
<line x1="853.52" y1="957.85" x2="853.52" y2="961.55" stroke="#000" stroke-width="3" stroke-linecap="butt" />
<line x1="950.16" y1="957.85" x2="950.16" y2="961.55" stroke="#000" stroke-width="3" stroke-linecap="butt" />
<line x1="1046.80" y1="957.85" x2="1046.80" y2="961.55" stroke="#000" stroke-width="3" stroke-linecap="butt" />
<line x1="1143.44" y1="957.85" x2="1143.44" y2="961.55" stroke="#000" stroke-width="3" stroke-linecap="butt" />
<line x1="1240.08" y1="957.85" x2="1240.08" y2="961.55" stroke="#000" stroke-width="3" stroke-linecap="butt" />
<line x1="1336.72" y1="957.85" x2="1336.72" y2="961.55" stroke="#000" stroke-width="3" stroke-linecap="butt" />
<line x1="803.65" y1="529.30" x2="795.95" y2="529.30" stroke="#000" stroke-width="3" stroke-linecap="butt" />
<line x1="803.65" y1="614.70" x2="795.95" y2="614.70" stroke="#000" stroke-width="3" stroke-linecap="butt" />
<line x1="803.65" y1="700.10" x2="795.95" y2="700.10" stroke="#000" stroke-width="3" stroke-linecap="butt" />
<line x1="803.65" y1="785.50" x2="795.95" y2="785.50" stroke="#000" stroke-width="3" stroke-linecap="butt" />
<line x1="803.65" y1="870.90" x2="795.95" y2="870.90" stroke="#000" stroke-width="3" stroke-linecap="butt" />
<line x1="803.65" y1="956.30" x2="795.95" y2="956.30" stroke="#000" stroke-width="3" stroke-linecap="butt" />
<line x1="803.65" y1="572.00" x2="799.95" y2="572.00" stroke="#000" stroke-width="3" stroke-linecap="butt" />
<line x1="803.65" y1="657.40" x2="799.95" y2="657.40" stroke="#000" stroke-width="3" stroke-linecap="butt" />
<line x1="803.65" y1="742.80" x2="799.95" y2="742.80" stroke="#000" stroke-width="3" stroke-linecap="butt" />
<line x1="803.65" y1="828.20" x2="799.95" y2="828.20" stroke="#000" stroke-width="3" stroke-linecap="butt" />
<line x1="803.65" y1="913.60" x2="799.95" y2="913.60" stroke="#000" stroke-width="3" stroke-linecap="butt" />
<text x="805.20" y="989.50" font-size="23" text-anchor="middle" >0.0</text>
<text x="901.84" y="989.50" font-size="23" text-anchor="middle" >0.2</text>
<text x="998.48" y="989.50" font-size="23" text-anchor="middle" >0.4</text>
<text x="1095.12" y="989.50" font-size="23" text-anchor="middle" >0.6</text>
<text x="1191.76" y="989.50" font-size="23" text-anchor="middle" >0.8</text>
<text x="1288.40" y="989.50" font-size="23" text-anchor="middle" >1.0</text>
<text x="789.50" y="535.73" font-size="23" text-anchor="end" >200</text>
<text x="789.50" y="621.13" font-size="23" text-anchor="end" >160</text>
<text x="789.50" y="706.53" font-size="23" text-anchor="end" >120</text>
<text x="789.50" y="791.93" font-size="23" text-anchor="end" >80</text>
<text x="789.50" y="877.33" font-size="23" text-anchor="end" >40</text>
<text x="789.50" y="962.73" font-size="23" text-anchor="end" >0</text>
<text x="931.50" y="1032.70" font-size="24" font-weight="bold" textLength="278.50" lengthAdjust="spacingAndGlyphs" ><tspan>Current density (A g</tspan><tspan dy="-10.08" font-size="14.88">-1</tspan><tspan dy="10.08">)</tspan></text>
<text x="733.50" y="743.00" font-size="26" font-weight="bold" text-anchor="middle" transform="rotate(-90 733.50 743.00)" textLength="320.00" lengthAdjust="spacingAndGlyphs" >Specific Capacity (mAh/g)</text>
<text x="694.00" y="563.00" font-size="57" >e</text>
<path d="M853.2 580.9C855.3 586.0 861.1 601.6 865.5 612.0C869.9 622.4 873.5 631.4 879.5 643.5C885.5 655.6 894.8 673.4 901.2 684.5C907.6 695.5 911.7 701.7 918.0 710.0C924.3 718.3 932.0 727.5 939.0 734.5C946.0 741.5 952.4 746.5 960.0 752.0C967.6 757.5 975.2 763.8 984.5 767.8C993.8 771.7 1005.7 774.0 1016.0 775.8C1026.3 777.6 1035.4 777.3 1046.5 778.6C1057.5 779.9 1067.7 781.5 1082.5 783.5C1097.3 785.5 1117.5 787.6 1135.0 790.5C1152.5 793.4 1170.0 797.0 1187.5 801.0C1205.0 805.0 1223.2 810.2 1240.0 814.3C1256.8 818.4 1280.2 823.9 1288.3 825.8" fill="none" stroke="#000" stroke-width="3.3" stroke-linecap="round" stroke-linejoin="round" stroke-dasharray="1.8 16.7" />
<path d="M853.2 808.7C855.9 812.7 863.5 824.5 869.0 832.5C874.5 840.5 881.1 850.5 886.5 857.0C891.9 863.5 895.4 866.1 901.2 871.3C907.0 876.6 914.0 883.4 921.5 888.5C929.0 893.6 937.8 898.8 946.0 901.8C954.2 904.8 962.3 905.8 970.5 906.7C978.7 907.6 986.2 907.6 995.0 907.0C1003.8 906.5 1014.4 904.4 1023.0 903.2C1031.6 902.0 1036.5 901.0 1046.5 900.0C1056.4 899.1 1070.1 897.9 1082.5 897.2C1094.9 896.6 1106.4 895.9 1121.0 896.2C1135.6 896.5 1153.1 897.7 1170.0 899.0C1186.9 900.3 1202.8 901.9 1222.5 904.2C1242.2 906.6 1277.3 911.8 1288.3 913.3" fill="none" stroke="#f5201a" stroke-width="2.6" stroke-linecap="butt" stroke-linejoin="round" stroke-dasharray="2.6 3.4" />
<path d="M1287.9 780.0L1287.9 818.5" fill="none" stroke="#000" stroke-width="1.4" stroke-linecap="butt" stroke-linejoin="round" stroke-dasharray="1.4 6" />
<path d="M1279.2 874.5L1288.3 907.8" fill="none" stroke="#000" stroke-width="1.4" stroke-linecap="butt" stroke-linejoin="round" stroke-dasharray="1.4 6" />
<circle cx="853.25" cy="580.85" r="6.8" fill="url(#gR)" />
<circle cx="901.20" cy="684.45" r="6.8" fill="url(#gR)" />
<circle cx="1046.45" cy="778.60" r="6.8" fill="url(#gR)" />
<circle cx="1288.30" cy="825.85" r="6.8" fill="url(#gR)" />
<circle cx="853.25" cy="808.70" r="6.8" fill="url(#gG)" />
<circle cx="901.20" cy="871.35" r="6.8" fill="url(#gG)" />
<circle cx="1046.45" cy="900.05" r="6.8" fill="url(#gG)" />
<circle cx="1288.30" cy="913.35" r="6.8" fill="url(#gG)" />
<text x="879.50" y="577.70" font-size="23" font-weight="bold" textLength="178.00" lengthAdjust="spacingAndGlyphs" ><tspan>TiNbCT</tspan><tspan dy="5.98" font-size="16.10">x</tspan><tspan dy="-5.98"> MXene</tspan></text>
<text x="869.00" y="807.00" font-size="23" font-weight="bold" textLength="154.00" lengthAdjust="spacingAndGlyphs" ><tspan>Ti</tspan><tspan dy="5.98" font-size="16.10">2</tspan><tspan dy="-5.98">CT</tspan><tspan dy="5.98" font-size="16.10">x</tspan><tspan dy="-5.98"> MXene</tspan></text>
<text x="1222.50" y="767.80" font-size="25" font-weight="bold" textLength="86.00" lengthAdjust="spacingAndGlyphs" >34.75%</text>
<text x="1180.50" y="866.80" font-size="25" font-weight="bold" textLength="86.50" lengthAdjust="spacingAndGlyphs" >28.97%</text>
<circle cx="1738.52" cy="554.06" r="4.8" fill="url(#gB)" />
<circle cx="1703.49" cy="659.13" r="4.8" fill="url(#gB)" />
<circle cx="1670.51" cy="737.34" r="4.8" fill="url(#gB)" />
<circle cx="1643.31" cy="791.41" r="4.8" fill="url(#gB)" />
<circle cx="1622.91" cy="829.49" r="4.8" fill="url(#gB)" />
<circle cx="1603.52" cy="860.09" r="4.8" fill="url(#gB)" />
<circle cx="1588.56" cy="880.15" r="4.8" fill="url(#gB)" />
<circle cx="1573.94" cy="896.48" r="4.8" fill="url(#gB)" />
<circle cx="1562.04" cy="907.70" r="4.8" fill="url(#gB)" />
<circle cx="1550.82" cy="916.20" r="4.8" fill="url(#gB)" />
<circle cx="1540.28" cy="922.66" r="4.8" fill="url(#gB)" />
<circle cx="1530.42" cy="927.08" r="4.8" fill="url(#gB)" />
<circle cx="1520.90" cy="930.82" r="4.8" fill="url(#gB)" />
<circle cx="1511.72" cy="933.54" r="4.8" fill="url(#gB)" />
<circle cx="1503.21" cy="935.92" r="4.8" fill="url(#gB)" />
<circle cx="1495.05" cy="937.96" r="4.8" fill="url(#gB)" />
<circle cx="1486.89" cy="940.00" r="4.8" fill="url(#gB)" />
<circle cx="1478.73" cy="942.04" r="4.8" fill="url(#gB)" />
<circle cx="1471.93" cy="944.42" r="4.8" fill="url(#gB)" />
<circle cx="1466.15" cy="947.14" r="4.8" fill="url(#gB)" />
<circle cx="1461.39" cy="949.86" r="4.8" fill="url(#gB)" />
<circle cx="1457.99" cy="952.58" r="4.8" fill="url(#gB)" />
<circle cx="1455.27" cy="955.64" r="4.8" fill="url(#gB)" />
<circle cx="1453.23" cy="959.04" r="4.8" fill="url(#gB)" />
<circle cx="1451.53" cy="961.76" r="4.8" fill="url(#gB)" />
<circle cx="1768.44" cy="614.25" r="4.8" fill="url(#gO)" />
<circle cx="1681.73" cy="720.68" r="4.8" fill="url(#gO)" />
<circle cx="1620.87" cy="793.79" r="4.8" fill="url(#gO)" />
<circle cx="1578.36" cy="844.11" r="4.8" fill="url(#gO)" />
<circle cx="1547.76" cy="877.77" r="4.8" fill="url(#gO)" />
<circle cx="1524.64" cy="900.90" r="4.8" fill="url(#gO)" />
<circle cx="1506.62" cy="915.18" r="4.8" fill="url(#gO)" />
<circle cx="1490.29" cy="924.70" r="4.8" fill="url(#gO)" />
<circle cx="1474.99" cy="932.18" r="4.8" fill="url(#gO)" />
<circle cx="1461.39" cy="940.00" r="4.8" fill="url(#gO)" />
<circle cx="1452.55" cy="948.16" r="4.8" fill="url(#gO)" />
<circle cx="1447.79" cy="954.62" r="4.8" fill="url(#gO)" />
<circle cx="1445.07" cy="959.72" r="4.8" fill="url(#gO)" />
<circle cx="1443.37" cy="962.44" r="4.8" fill="url(#gO)" />
<rect x="1441.40" y="537.00" width="530.60" height="428.20" fill="none" stroke="#000" stroke-width="3.5"/>
<line x1="1441.40" y1="966.75" x2="1441.40" y2="972.95" stroke="#000" stroke-width="3" stroke-linecap="butt" />
<line x1="1618.30" y1="966.75" x2="1618.30" y2="972.95" stroke="#000" stroke-width="3" stroke-linecap="butt" />
<line x1="1795.20" y1="966.75" x2="1795.20" y2="972.95" stroke="#000" stroke-width="3" stroke-linecap="butt" />
<line x1="1972.10" y1="966.75" x2="1972.10" y2="972.95" stroke="#000" stroke-width="3" stroke-linecap="butt" />
<line x1="1529.85" y1="966.75" x2="1529.85" y2="969.45" stroke="#000" stroke-width="3" stroke-linecap="butt" />
<line x1="1706.75" y1="966.75" x2="1706.75" y2="969.45" stroke="#000" stroke-width="3" stroke-linecap="butt" />
<line x1="1883.65" y1="966.75" x2="1883.65" y2="969.45" stroke="#000" stroke-width="3" stroke-linecap="butt" />
<line x1="1439.85" y1="537.20" x2="1433.65" y2="537.20" stroke="#000" stroke-width="3" stroke-linecap="butt" />
<line x1="1439.85" y1="679.80" x2="1433.65" y2="679.80" stroke="#000" stroke-width="3" stroke-linecap="butt" />
<line x1="1439.85" y1="822.40" x2="1433.65" y2="822.40" stroke="#000" stroke-width="3" stroke-linecap="butt" />
<line x1="1439.85" y1="965.00" x2="1433.65" y2="965.00" stroke="#000" stroke-width="3" stroke-linecap="butt" />
<line x1="1439.85" y1="608.50" x2="1437.15" y2="608.50" stroke="#000" stroke-width="3" stroke-linecap="butt" />
<line x1="1439.85" y1="751.10" x2="1437.15" y2="751.10" stroke="#000" stroke-width="3" stroke-linecap="butt" />
<line x1="1439.85" y1="893.70" x2="1437.15" y2="893.70" stroke="#000" stroke-width="3" stroke-linecap="butt" />
<text x="1441.40" y="998.50" font-size="24.5" text-anchor="middle" >0</text>
<text x="1618.30" y="998.50" font-size="24.5" text-anchor="middle" >50</text>
<text x="1795.20" y="998.50" font-size="24.5" text-anchor="middle" >100</text>
<text x="1972.10" y="998.50" font-size="24.5" text-anchor="middle" >150</text>
<text x="1426.00" y="543.99" font-size="24" text-anchor="end" >150</text>
<text x="1426.00" y="686.59" font-size="24" text-anchor="end" >100</text>
<text x="1426.00" y="829.19" font-size="24" text-anchor="end" >50</text>
<text x="1426.00" y="971.79" font-size="24" text-anchor="end" >0</text>
<text x="1661.33" y="1034.53" font-size="30" font-weight="bold" textLength="90.00" lengthAdjust="spacingAndGlyphs" ><tspan>Z</tspan><tspan dy="7.50" font-size="25.50">re</tspan><tspan dy="-16.50" font-size="30.00">'</tspan><tspan dy="9.00">(Ω)</tspan></text>
<text x="1370.50" y="751.00" font-size="28.5" font-weight="bold" text-anchor="middle" transform="rotate(-90 1370.50 751.00)" textLength="111.00" lengthAdjust="spacingAndGlyphs" ><tspan>-Z</tspan><tspan dy="5.70" font-size="28.50">im</tspan><tspan dy="-17.67" font-size="28.50">"</tspan><tspan dy="11.97">(Ω)</tspan></text>
<text x="1356.00" y="562.00" font-size="57" >f</text>
<path d="M1455.5 587.1L1488.6 587.1L1492.4 592.8L1500.6 581.8L1508.7 592.8L1516.7 581.8L1522.0 587.1L1563.3 587.1L1567.4 592.8L1575.6 581.8L1583.8 592.8L1591.9 581.8L1596.9 587.1L1632.2 587.1" fill="none" stroke="#000" stroke-width="1.7" stroke-linecap="butt" stroke-linejoin="miter" />
<path d="M1632.2 581.8L1635.6 593.3L1639.1 584.2L1642.5 593.3L1645.9 581.8" fill="none" stroke="#000" stroke-width="1.9" stroke-linecap="butt" stroke-linejoin="miter" />
<path d="M1649.3 587.1L1689.2 587.1" fill="none" stroke="#000" stroke-width="1.7" stroke-linecap="butt" stroke-linejoin="miter" />
<path d="M1550.5 587.1L1550.5 620.1L1574.1 620.1" fill="none" stroke="#000" stroke-width="1.7" stroke-linecap="butt" stroke-linejoin="miter" />
<path d="M1584.2 620.1L1609.8 620.1L1609.8 587.1" fill="none" stroke="#000" stroke-width="1.7" stroke-linecap="butt" stroke-linejoin="miter" />
<path d="M1570.9 615.0L1576.2 620.7L1570.9 626.8" fill="none" stroke="#000" stroke-width="1.7" stroke-linecap="butt" stroke-linejoin="miter" />
<path d="M1579.8 615.0L1585.1 620.7L1579.8 626.8" fill="none" stroke="#000" stroke-width="1.7" stroke-linecap="butt" stroke-linejoin="miter" />
<ellipse cx="1550.5" cy="587.1" rx="4.4" ry="5.8" fill="#000"/>
<circle cx="1647.4" cy="592.2" r="1.4" fill="none" stroke="#000" stroke-width="0.7"/>
<text x="1504.73" y="576.24" font-size="11.5" text-anchor="middle" textLength="10.80" lengthAdjust="spacingAndGlyphs" stroke="#000" stroke-width="0.3">Rs</text>
<text x="1580.74" y="576.24" font-size="11.5" text-anchor="middle" textLength="14.50" lengthAdjust="spacingAndGlyphs" stroke="#000" stroke-width="0.3">Rct</text>
<text x="1638.31" y="576.24" font-size="11.5" text-anchor="middle" textLength="13.50" lengthAdjust="spacingAndGlyphs" stroke="#000" stroke-width="0.3">W1</text>
<text x="1579.98" y="609.68" font-size="11.5" text-anchor="middle" textLength="22.00" lengthAdjust="spacingAndGlyphs" stroke="#000" stroke-width="0.3">CPE1</text>
<circle cx="1761.64" cy="660.83" r="4.6" fill="url(#gB)" />
<circle cx="1761.64" cy="698.92" r="4.6" fill="url(#gO)" />
<text x="1791.22" y="667.64" font-size="22" font-weight="bold" textLength="167.60" lengthAdjust="spacingAndGlyphs" >TiNbCTx MXene</text>
<text x="1791.22" y="706.06" font-size="22" font-weight="bold" textLength="142.00" lengthAdjust="spacingAndGlyphs" ><tspan>Ti</tspan><tspan dy="5.72" font-size="15.40">2</tspan><tspan dy="-5.72">CT</tspan><tspan dy="5.72" font-size="15.40">x</tspan><tspan dy="-5.72"> MXene</tspan></text>
<text x="1468.19" y="739.72" font-size="18.5" font-weight="bold" textLength="144.00" lengthAdjust="spacingAndGlyphs" >1000KHz-0.01Hz</text>
<line x1="1465.81" y1="757.06" x2="1603.00" y2="757.06" stroke="#000" stroke-width="1.3" stroke-linecap="butt" />
<path d="M1611.0 757.1L1597.0 753.7L1597.0 760.5Z" fill="#000"/>
<rect x="1728.66" y="739.04" width="222.38" height="191.10" fill="none" stroke="#000" stroke-width="1.2"/>
<line x1="1834.74" y1="930.14" x2="1834.74" y2="932.52" stroke="#000" stroke-width="0.8" stroke-linecap="butt" />
<line x1="1728.66" y1="837.65" x2="1726.62" y2="837.65" stroke="#000" stroke-width="0.8" stroke-linecap="butt" />
<line x1="1946.96" y1="930.14" x2="1946.96" y2="932.52" stroke="#000" stroke-width="0.8" stroke-linecap="butt" />
<line x1="1951.04" y1="929.46" x2="1958.18" y2="929.46" stroke="#000" stroke-width="0.7" stroke-linecap="butt" stroke-dasharray="3 2"/>
<circle cx="1895.27" cy="772.70" r="2.2" fill="url(#gO)" />
<circle cx="1857.19" cy="817.25" r="2.2" fill="url(#gO)" />
<circle cx="1828.28" cy="847.17" r="2.2" fill="url(#gO)" />
<circle cx="1805.50" cy="866.21" r="2.2" fill="url(#gO)" />
<circle cx="1785.10" cy="878.79" r="2.2" fill="url(#gO)" />
<circle cx="1765.38" cy="887.98" r="2.2" fill="url(#gO)" />
<circle cx="1748.72" cy="898.18" r="2.2" fill="url(#gO)" />
<circle cx="1737.84" cy="909.40" r="2.2" fill="url(#gO)" />
<circle cx="1732.40" cy="917.90" r="2.2" fill="url(#gO)" />
<circle cx="1730.02" cy="923.68" r="2.2" fill="url(#gO)" />
<circle cx="1729.00" cy="927.42" r="2.2" fill="url(#gO)" />
<circle cx="1926.89" cy="793.79" r="2.2" fill="url(#gB)" />
<circle cx="1908.53" cy="820.31" r="2.2" fill="url(#gB)" />
<circle cx="1890.17" cy="842.07" r="2.2" fill="url(#gB)" />
<circle cx="1874.87" cy="856.69" r="2.2" fill="url(#gB)" />
<circle cx="1860.59" cy="866.89" r="2.2" fill="url(#gB)" />
<circle cx="1847.33" cy="875.05" r="2.2" fill="url(#gB)" />
<circle cx="1834.74" cy="881.17" r="2.2" fill="url(#gB)" />
<circle cx="1822.84" cy="885.94" r="2.2" fill="url(#gB)" />
<circle cx="1811.62" cy="890.02" r="2.2" fill="url(#gB)" />
<circle cx="1800.40" cy="892.74" r="2.2" fill="url(#gB)" />
<circle cx="1790.54" cy="895.80" r="2.2" fill="url(#gB)" />
<circle cx="1780.68" cy="898.52" r="2.2" fill="url(#gB)" />
<circle cx="1770.82" cy="901.58" r="2.2" fill="url(#gB)" />
<circle cx="1762.32" cy="904.98" r="2.2" fill="url(#gB)" />
<circle cx="1755.18" cy="908.38" r="2.2" fill="url(#gB)" />
<circle cx="1749.06" cy="912.12" r="2.2" fill="url(#gB)" />
<circle cx="1744.64" cy="915.18" r="2.2" fill="url(#gB)" />
<circle cx="1741.24" cy="918.24" r="2.2" fill="url(#gB)" />
<circle cx="1738.18" cy="921.64" r="2.2" fill="url(#gB)" />
<circle cx="1735.46" cy="924.70" r="2.2" fill="url(#gB)" />
<circle cx="1733.42" cy="927.42" r="2.2" fill="url(#gB)" />
<circle cx="1731.72" cy="929.46" r="2.2" fill="url(#gB)" />
<text x="1724.23" y="747.20" font-size="9.5" text-anchor="end" textLength="10.50" lengthAdjust="spacingAndGlyphs" >50</text>
<text x="1945.26" y="944.42" font-size="9.5" text-anchor="middle" textLength="10.50" lengthAdjust="spacingAndGlyphs" >50</text>
<text x="1834.74" y="952.58" font-size="10.5" font-weight="bold" text-anchor="middle" textLength="38.00" lengthAdjust="spacingAndGlyphs" ><tspan>Z</tspan><tspan dy="2.62" font-size="8.92">re</tspan><tspan dy="-5.78" font-size="10.50">'</tspan><tspan dy="3.15">(Ω)</tspan></text>
<text x="1716.75" y="837.65" font-size="10.5" font-weight="bold" text-anchor="middle" transform="rotate(-90 1716.75 837.65)" textLength="50.00" lengthAdjust="spacingAndGlyphs" ><tspan>-Z</tspan><tspan dy="2.62" font-size="9.45">im</tspan><tspan dy="-6.83" font-size="10.50">"</tspan><tspan dy="4.20">(Ω )</tspan></text>
<path d="M127.9 1093.9L127.9 1544.4L1011.7 1544.4" fill="none" stroke="#000" stroke-width="2.9" stroke-linecap="butt" stroke-linejoin="miter" />
<path d="M127.9 1095.0L1010.6 1095.0L1010.6 1544.4" fill="none" stroke="#000" stroke-width="2.2" stroke-linecap="butt" stroke-linejoin="miter" />
<line x1="190.30" y1="1545.75" x2="190.30" y2="1554.95" stroke="#000" stroke-width="2.7" stroke-linecap="butt" />
<line x1="316.50" y1="1545.75" x2="316.50" y2="1554.95" stroke="#000" stroke-width="2.7" stroke-linecap="butt" />
<line x1="442.70" y1="1545.75" x2="442.70" y2="1554.95" stroke="#000" stroke-width="2.7" stroke-linecap="butt" />
<line x1="568.90" y1="1545.75" x2="568.90" y2="1554.95" stroke="#000" stroke-width="2.7" stroke-linecap="butt" />
<line x1="695.10" y1="1545.75" x2="695.10" y2="1554.95" stroke="#000" stroke-width="2.7" stroke-linecap="butt" />
<line x1="821.30" y1="1545.75" x2="821.30" y2="1554.95" stroke="#000" stroke-width="2.7" stroke-linecap="butt" />
<line x1="947.50" y1="1545.75" x2="947.50" y2="1554.95" stroke="#000" stroke-width="2.7" stroke-linecap="butt" />
<line x1="127.20" y1="1545.75" x2="127.20" y2="1549.65" stroke="#000" stroke-width="2.7" stroke-linecap="butt" />
<line x1="253.40" y1="1545.75" x2="253.40" y2="1549.65" stroke="#000" stroke-width="2.7" stroke-linecap="butt" />
<line x1="379.60" y1="1545.75" x2="379.60" y2="1549.65" stroke="#000" stroke-width="2.7" stroke-linecap="butt" />
<line x1="505.80" y1="1545.75" x2="505.80" y2="1549.65" stroke="#000" stroke-width="2.7" stroke-linecap="butt" />
<line x1="632.00" y1="1545.75" x2="632.00" y2="1549.65" stroke="#000" stroke-width="2.7" stroke-linecap="butt" />
<line x1="758.20" y1="1545.75" x2="758.20" y2="1549.65" stroke="#000" stroke-width="2.7" stroke-linecap="butt" />
<line x1="884.40" y1="1545.75" x2="884.40" y2="1549.65" stroke="#000" stroke-width="2.7" stroke-linecap="butt" />
<line x1="1010.60" y1="1545.75" x2="1010.60" y2="1549.65" stroke="#000" stroke-width="2.7" stroke-linecap="butt" />
<line x1="126.55" y1="1132.50" x2="117.35" y2="1132.50" stroke="#000" stroke-width="2.7" stroke-linecap="butt" />
<line x1="126.55" y1="1207.40" x2="117.35" y2="1207.40" stroke="#000" stroke-width="2.7" stroke-linecap="butt" />
<line x1="126.55" y1="1282.30" x2="117.35" y2="1282.30" stroke="#000" stroke-width="2.7" stroke-linecap="butt" />
<line x1="126.55" y1="1357.20" x2="117.35" y2="1357.20" stroke="#000" stroke-width="2.7" stroke-linecap="butt" />
<line x1="126.55" y1="1432.10" x2="117.35" y2="1432.10" stroke="#000" stroke-width="2.7" stroke-linecap="butt" />
<line x1="126.55" y1="1507.00" x2="117.35" y2="1507.00" stroke="#000" stroke-width="2.7" stroke-linecap="butt" />
<line x1="126.55" y1="1169.95" x2="122.65" y2="1169.95" stroke="#000" stroke-width="2.7" stroke-linecap="butt" />
<line x1="126.55" y1="1244.85" x2="122.65" y2="1244.85" stroke="#000" stroke-width="2.7" stroke-linecap="butt" />
<line x1="126.55" y1="1319.75" x2="122.65" y2="1319.75" stroke="#000" stroke-width="2.7" stroke-linecap="butt" />
<line x1="126.55" y1="1394.65" x2="122.65" y2="1394.65" stroke="#000" stroke-width="2.7" stroke-linecap="butt" />
<line x1="126.55" y1="1469.55" x2="122.65" y2="1469.55" stroke="#000" stroke-width="2.7" stroke-linecap="butt" />
<line x1="126.55" y1="1544.45" x2="122.65" y2="1544.45" stroke="#000" stroke-width="2.7" stroke-linecap="butt" />
<text x="190.30" y="1584.00" font-size="26.5" text-anchor="middle" >0</text>
<text x="316.50" y="1584.00" font-size="26.5" text-anchor="middle" >5</text>
<text x="442.70" y="1584.00" font-size="26.5" text-anchor="middle" >10</text>
<text x="568.90" y="1584.00" font-size="26.5" text-anchor="middle" >15</text>
<text x="695.10" y="1584.00" font-size="26.5" text-anchor="middle" >20</text>
<text x="821.30" y="1584.00" font-size="26.5" text-anchor="middle" >25</text>
<text x="947.50" y="1584.00" font-size="26.5" text-anchor="middle" >30</text>
<text x="109.50" y="1139.69" font-size="26.5" text-anchor="end" >500</text>
<text x="109.50" y="1214.59" font-size="26.5" text-anchor="end" >400</text>
<text x="109.50" y="1289.49" font-size="26.5" text-anchor="end" >300</text>
<text x="109.50" y="1364.39" font-size="26.5" text-anchor="end" >200</text>
<text x="109.50" y="1439.29" font-size="26.5" text-anchor="end" >100</text>
<text x="109.50" y="1514.19" font-size="26.5" text-anchor="end" >0</text>
<text x="453.00" y="1636.50" font-size="37.5" font-weight="bold" textLength="233.00" lengthAdjust="spacingAndGlyphs" >Cycle number</text>
<text x="34.20" y="1525.80" font-size="32" font-weight="bold" transform="rotate(-90 34.20 1525.80)" textLength="415.00" lengthAdjust="spacingAndGlyphs" >Specific capacity <tspan font-weight="normal">(</tspan>mAh g<tspan font-size="19.8" dy="-13.4">-1</tspan><tspan font-weight="normal" dy="13.4">)</tspan></text>
<text x="37.00" y="1090.00" font-size="57" >g</text>
<path d="M207.04 1139.65L224.04 1139.65L215.54 1124.85Z" fill="#3f74e8"/>
<path d="M232.28 1429.51L249.28 1429.51L240.78 1414.71Z" fill="#3f74e8"/>
<path d="M257.52 1447.49L274.52 1447.49L266.02 1432.69Z" fill="#3f74e8"/>
<path d="M282.76 1454.98L299.76 1454.98L291.26 1440.18Z" fill="#3f74e8"/>
<path d="M308.00 1459.47L325.00 1459.47L316.50 1444.67Z" fill="#3f74e8"/>
<path d="M333.24 1467.71L350.24 1467.71L341.74 1452.91Z" fill="#3f74e8"/>
<path d="M358.48 1469.21L375.48 1469.21L366.98 1454.41Z" fill="#3f74e8"/>
<path d="M383.72 1470.71L400.72 1470.71L392.22 1455.90Z" fill="#3f74e8"/>
<path d="M408.96 1471.45L425.96 1471.45L417.46 1456.65Z" fill="#3f74e8"/>
<path d="M434.20 1478.94L451.20 1478.94L442.70 1464.14Z" fill="#3f74e8"/>
<path d="M459.44 1481.19L476.44 1481.19L467.94 1466.39Z" fill="#3f74e8"/>
<path d="M484.68 1481.94L501.68 1481.94L493.18 1467.14Z" fill="#3f74e8"/>
<path d="M509.92 1481.94L526.92 1481.94L518.42 1467.14Z" fill="#3f74e8"/>
<path d="M535.16 1482.69L552.16 1482.69L543.66 1467.89Z" fill="#3f74e8"/>
<path d="M560.40 1488.68L577.40 1488.68L568.90 1473.88Z" fill="#3f74e8"/>
<path d="M585.64 1490.93L602.64 1490.93L594.14 1476.13Z" fill="#3f74e8"/>
<path d="M610.88 1490.93L627.88 1490.93L619.38 1476.13Z" fill="#3f74e8"/>
<path d="M636.12 1490.18L653.12 1490.18L644.62 1475.38Z" fill="#3f74e8"/>
<path d="M661.36 1490.18L678.36 1490.18L669.86 1475.38Z" fill="#3f74e8"/>
<path d="M686.60 1493.92L703.60 1493.92L695.10 1479.12Z" fill="#3f74e8"/>
<path d="M711.84 1495.42L728.84 1495.42L720.34 1480.62Z" fill="#3f74e8"/>
<path d="M737.08 1495.42L754.08 1495.42L745.58 1480.62Z" fill="#3f74e8"/>
<path d="M762.32 1495.42L779.32 1495.42L770.82 1480.62Z" fill="#3f74e8"/>
<path d="M787.56 1495.42L804.56 1495.42L796.06 1480.62Z" fill="#3f74e8"/>
<path d="M812.80 1472.20L829.80 1472.20L821.30 1457.40Z" fill="#3f74e8"/>
<path d="M838.04 1472.20L855.04 1472.20L846.54 1457.40Z" fill="#3f74e8"/>
<path d="M863.28 1472.95L880.28 1472.95L871.78 1458.15Z" fill="#3f74e8"/>
<path d="M888.52 1473.70L905.52 1473.70L897.02 1458.90Z" fill="#3f74e8"/>
<path d="M913.76 1474.45L930.76 1474.45L922.26 1459.65Z" fill="#3f74e8"/>
<path d="M939.00 1474.45L956.00 1474.45L947.50 1459.65Z" fill="#3f74e8"/>
<path d="M207.04 1404.79L224.04 1404.79L215.54 1389.99Z" fill="#52b56e"/>
<path d="M232.28 1435.50L249.28 1435.50L240.78 1420.70Z" fill="#52b56e"/>
<path d="M257.52 1447.49L274.52 1447.49L266.02 1432.69Z" fill="#52b56e"/>
<path d="M282.76 1454.98L299.76 1454.98L291.26 1440.18Z" fill="#52b56e"/>
<path d="M308.00 1459.47L325.00 1459.47L316.50 1444.67Z" fill="#52b56e"/>
<path d="M333.24 1464.71L350.24 1464.71L341.74 1449.91Z" fill="#52b56e"/>
<path d="M358.48 1466.96L375.48 1466.96L366.98 1452.16Z" fill="#52b56e"/>
<path d="M383.72 1468.46L400.72 1468.46L392.22 1453.66Z" fill="#52b56e"/>
<path d="M408.96 1469.96L425.96 1469.96L417.46 1455.16Z" fill="#52b56e"/>
<path d="M434.20 1479.69L451.20 1479.69L442.70 1464.89Z" fill="#52b56e"/>
<path d="M459.44 1481.19L476.44 1481.19L467.94 1466.39Z" fill="#52b56e"/>
<path d="M484.68 1481.94L501.68 1481.94L493.18 1467.14Z" fill="#52b56e"/>
<path d="M509.92 1481.94L526.92 1481.94L518.42 1467.14Z" fill="#52b56e"/>
<path d="M535.16 1482.69L552.16 1482.69L543.66 1467.89Z" fill="#52b56e"/>
<path d="M560.40 1490.93L577.40 1490.93L568.90 1476.13Z" fill="#52b56e"/>
<path d="M585.64 1490.93L602.64 1490.93L594.14 1476.13Z" fill="#52b56e"/>
<path d="M610.88 1490.93L627.88 1490.93L619.38 1476.13Z" fill="#52b56e"/>
<path d="M636.12 1490.93L653.12 1490.93L644.62 1476.13Z" fill="#52b56e"/>
<path d="M661.36 1490.93L678.36 1490.93L669.86 1476.13Z" fill="#52b56e"/>
<path d="M686.60 1495.42L703.60 1495.42L695.10 1480.62Z" fill="#52b56e"/>
<path d="M711.84 1495.42L728.84 1495.42L720.34 1480.62Z" fill="#52b56e"/>
<path d="M737.08 1495.42L754.08 1495.42L745.58 1480.62Z" fill="#52b56e"/>
<path d="M762.32 1495.42L779.32 1495.42L770.82 1480.62Z" fill="#52b56e"/>
<path d="M787.56 1495.42L804.56 1495.42L796.06 1480.62Z" fill="#52b56e"/>
<path d="M812.80 1477.45L829.80 1477.45L821.30 1462.65Z" fill="#52b56e"/>
<path d="M838.04 1477.45L855.04 1477.45L846.54 1462.65Z" fill="#52b56e"/>
<path d="M863.28 1478.20L880.28 1478.20L871.78 1463.39Z" fill="#52b56e"/>
<path d="M888.52 1478.20L905.52 1478.20L897.02 1463.39Z" fill="#52b56e"/>
<path d="M913.76 1478.20L930.76 1478.20L922.26 1463.39Z" fill="#52b56e"/>
<path d="M939.00 1478.94L956.00 1478.94L947.50 1464.14Z" fill="#52b56e"/>
<circle cx="215.54" cy="1311.51" r="7" fill="url(#gR)" />
<circle cx="240.78" cy="1356.45" r="7" fill="url(#gR)" />
<circle cx="266.02" cy="1363.19" r="7" fill="url(#gR)" />
<circle cx="291.26" cy="1365.44" r="7" fill="url(#gR)" />
<circle cx="316.50" cy="1367.69" r="7" fill="url(#gR)" />
<circle cx="341.74" cy="1366.94" r="7" fill="url(#gR)" />
<circle cx="366.98" cy="1402.89" r="7" fill="url(#gR)" />
<circle cx="392.22" cy="1408.88" r="7" fill="url(#gR)" />
<circle cx="417.46" cy="1411.13" r="7" fill="url(#gR)" />
<circle cx="442.70" cy="1412.63" r="7" fill="url(#gR)" />
<circle cx="467.94" cy="1414.12" r="7" fill="url(#gR)" />
<circle cx="493.18" cy="1416.37" r="7" fill="url(#gR)" />
<circle cx="518.42" cy="1441.09" r="7" fill="url(#gR)" />
<circle cx="543.66" cy="1450.83" r="7" fill="url(#gR)" />
<circle cx="568.90" cy="1450.08" r="7" fill="url(#gR)" />
<circle cx="594.14" cy="1450.08" r="7" fill="url(#gR)" />
<circle cx="619.38" cy="1449.33" r="7" fill="url(#gR)" />
<circle cx="644.62" cy="1449.33" r="7" fill="url(#gR)" />
<circle cx="669.86" cy="1460.56" r="7" fill="url(#gR)" />
<circle cx="695.10" cy="1464.31" r="7" fill="url(#gR)" />
<circle cx="720.34" cy="1464.31" r="7" fill="url(#gR)" />
<circle cx="745.58" cy="1464.31" r="7" fill="url(#gR)" />
<circle cx="770.82" cy="1464.31" r="7" fill="url(#gR)" />
<circle cx="796.06" cy="1464.31" r="7" fill="url(#gR)" />
<circle cx="821.30" cy="1382.67" r="7" fill="url(#gR)" />
<circle cx="846.54" cy="1340.72" r="7" fill="url(#gR)" />
<circle cx="871.78" cy="1330.24" r="7" fill="url(#gR)" />
<circle cx="897.02" cy="1328.74" r="7" fill="url(#gR)" />
<circle cx="922.26" cy="1325.74" r="7" fill="url(#gR)" />
<circle cx="947.50" cy="1324.99" r="7" fill="url(#gR)" />
<circle cx="215.54" cy="1334.73" r="7" fill="url(#gG)" />
<circle cx="240.78" cy="1364.69" r="7" fill="url(#gG)" />
<circle cx="266.02" cy="1372.18" r="7" fill="url(#gG)" />
<circle cx="291.26" cy="1372.18" r="7" fill="url(#gG)" />
<circle cx="316.50" cy="1375.18" r="7" fill="url(#gG)" />
<circle cx="341.74" cy="1365.44" r="7" fill="url(#gG)" />
<circle cx="366.98" cy="1416.37" r="7" fill="url(#gG)" />
<circle cx="392.22" cy="1414.12" r="7" fill="url(#gG)" />
<circle cx="417.46" cy="1411.13" r="7" fill="url(#gG)" />
<circle cx="442.70" cy="1411.88" r="7" fill="url(#gG)" />
<circle cx="467.94" cy="1409.63" r="7" fill="url(#gG)" />
<circle cx="493.18" cy="1411.13" r="7" fill="url(#gG)" />
<circle cx="518.42" cy="1450.83" r="7" fill="url(#gG)" />
<circle cx="543.66" cy="1447.83" r="7" fill="url(#gG)" />
<circle cx="568.90" cy="1446.33" r="7" fill="url(#gG)" />
<circle cx="594.14" cy="1445.58" r="7" fill="url(#gG)" />
<circle cx="619.38" cy="1444.83" r="7" fill="url(#gG)" />
<circle cx="644.62" cy="1444.08" r="7" fill="url(#gG)" />
<circle cx="669.86" cy="1464.31" r="7" fill="url(#gG)" />
<circle cx="695.10" cy="1462.81" r="7" fill="url(#gG)" />
<circle cx="720.34" cy="1462.06" r="7" fill="url(#gG)" />
<circle cx="745.58" cy="1462.06" r="7" fill="url(#gG)" />
<circle cx="770.82" cy="1461.31" r="7" fill="url(#gG)" />
<circle cx="796.06" cy="1461.31" r="7" fill="url(#gG)" />
<circle cx="821.30" cy="1339.97" r="7" fill="url(#gG)" />
<circle cx="846.54" cy="1323.49" r="7" fill="url(#gG)" />
<circle cx="871.78" cy="1313.76" r="7" fill="url(#gG)" />
<circle cx="897.02" cy="1311.51" r="7" fill="url(#gG)" />
<circle cx="922.26" cy="1307.77" r="7" fill="url(#gG)" />
<circle cx="947.50" cy="1304.77" r="7" fill="url(#gG)" />
<circle cx="390.66" cy="1122.93" r="7" fill="url(#gR)" />
<circle cx="390.66" cy="1164.24" r="7" fill="url(#gG)" />
<path d="M382.16 1210.95L399.16 1210.95L390.66 1196.15Z" fill="#3f74e8"/>
<path d="M382.16 1251.75L399.16 1251.75L390.66 1236.95Z" fill="#52b56e"/>
<text x="432.48" y="1132.80" font-size="23.5" font-weight="bold" textLength="281.50" lengthAdjust="spacingAndGlyphs" ><tspan>TiNbCT</tspan><tspan dy="6.11" font-size="16.45">x</tspan><tspan dy="-6.11"> MXene charged</tspan></text>
<text x="432.48" y="1174.11" font-size="23.5" font-weight="bold" textLength="317.00" lengthAdjust="spacingAndGlyphs" ><tspan>TiNbCT</tspan><tspan dy="6.11" font-size="16.45">x</tspan><tspan dy="-6.11"> MXene discharged</tspan></text>
<text x="432.48" y="1215.42" font-size="23.5" font-weight="bold" textLength="264.50" lengthAdjust="spacingAndGlyphs" ><tspan>Ti</tspan><tspan dy="6.11" font-size="16.45">2</tspan><tspan dy="-6.11">CT</tspan><tspan dy="6.11" font-size="16.45">x</tspan><tspan dy="-6.11"> MXene  charged</tspan></text>
<text x="432.48" y="1256.22" font-size="23.5" font-weight="bold" textLength="300.00" lengthAdjust="spacingAndGlyphs" ><tspan>Ti</tspan><tspan dy="6.11" font-size="16.45">2</tspan><tspan dy="-6.11">CT</tspan><tspan dy="6.11" font-size="16.45">x</tspan><tspan dy="-6.11"> MXene  discharged</tspan></text>
<text x="242.25" y="1335.60" font-size="29" font-weight="bold" textLength="131.58" lengthAdjust="spacingAndGlyphs" ><tspan>100mA g</tspan><tspan dy="-12.18" font-size="17.98">-1</tspan></text>
<text x="369.75" y="1384.05" font-size="29" font-weight="bold" textLength="132.60" lengthAdjust="spacingAndGlyphs" ><tspan>200mA g</tspan><tspan dy="-12.18" font-size="17.98">-1</tspan></text>
<text x="520.20" y="1416.18" font-size="29" font-weight="bold" textLength="132.60" lengthAdjust="spacingAndGlyphs" ><tspan>500mA g</tspan><tspan dy="-12.18" font-size="17.98">-1</tspan></text>
<text x="668.10" y="1441.68" font-size="29" font-weight="bold" textLength="146.37" lengthAdjust="spacingAndGlyphs" ><tspan>1000mA g</tspan><tspan dy="-12.18" font-size="17.98">-1</tspan></text>
<text x="828.75" y="1441.68" font-size="29" font-weight="bold" textLength="132.60" lengthAdjust="spacingAndGlyphs" ><tspan>200mA g</tspan><tspan dy="-12.18" font-size="17.98">-1</tspan></text>
<text x="822.12" y="1269.30" font-size="29" font-weight="bold" textLength="130.56" lengthAdjust="spacingAndGlyphs" ><tspan>100mA g</tspan><tspan dy="-12.18" font-size="17.98">-1</tspan></text>
<clipPath id="hclip"><rect x="1144.8" y="1101.2" width="747.8" height="436.70000000000005"/></clipPath>
<g clip-path="url(#hclip)">
<circle cx="1148.54" cy="1272.79" r="3.9" fill="#3a9422" />
<circle cx="1152.28" cy="1202.30" r="3.9" fill="#3a9422" />
<circle cx="1156.02" cy="1210.41" r="3.9" fill="#3a9422" />
<circle cx="1159.76" cy="1204.17" r="3.9" fill="#3a9422" />
<circle cx="1163.49" cy="1131.18" r="3.9" fill="#3a9422" />
<circle cx="1167.23" cy="1088.76" r="3.9" fill="#3a9422" />
<circle cx="1170.97" cy="1088.76" r="3.9" fill="#3a9422" />
<circle cx="1174.71" cy="1088.76" r="3.9" fill="#3a9422" />
<circle cx="1178.45" cy="1088.76" r="3.9" fill="#3a9422" />
<circle cx="1182.19" cy="1088.76" r="3.9" fill="#3a9422" />
<circle cx="1185.93" cy="1088.76" r="3.9" fill="#3a9422" />
<circle cx="1189.67" cy="1088.76" r="3.9" fill="#3a9422" />
<circle cx="1193.41" cy="1088.76" r="3.9" fill="#3a9422" />
<circle cx="1197.15" cy="1088.76" r="3.9" fill="#3a9422" />
<circle cx="1200.88" cy="1099.99" r="3.9" fill="#3a9422" />
<circle cx="1204.62" cy="1102.78" r="3.9" fill="#3a9422" />
<circle cx="1208.36" cy="1105.96" r="3.9" fill="#3a9422" />
<circle cx="1212.10" cy="1105.41" r="3.9" fill="#3a9422" />
<circle cx="1215.84" cy="1110.38" r="3.9" fill="#3a9422" />
<circle cx="1219.58" cy="1107.29" r="3.9" fill="#3a9422" />
<circle cx="1223.32" cy="1111.30" r="3.9" fill="#3a9422" />
<circle cx="1227.06" cy="1111.67" r="3.9" fill="#3a9422" />
<circle cx="1230.80" cy="1111.99" r="3.9" fill="#3a9422" />
<circle cx="1234.54" cy="1113.42" r="3.9" fill="#3a9422" />
<circle cx="1238.27" cy="1116.22" r="3.9" fill="#3a9422" />
<circle cx="1242.01" cy="1118.22" r="3.9" fill="#3a9422" />
<circle cx="1245.75" cy="1124.81" r="3.9" fill="#3a9422" />
<circle cx="1249.49" cy="1127.66" r="3.9" fill="#3a9422" />
<circle cx="1253.23" cy="1127.76" r="3.9" fill="#3a9422" />
<circle cx="1256.97" cy="1131.08" r="3.9" fill="#3a9422" />
<circle cx="1260.71" cy="1130.44" r="3.9" fill="#3a9422" />
<circle cx="1264.45" cy="1130.71" r="3.9" fill="#3a9422" />
<circle cx="1268.19" cy="1131.59" r="3.9" fill="#3a9422" />
<circle cx="1271.93" cy="1133.27" r="3.9" fill="#3a9422" />
<circle cx="1275.66" cy="1130.19" r="3.9" fill="#3a9422" />
<circle cx="1279.40" cy="1136.07" r="3.9" fill="#3a9422" />
<circle cx="1283.14" cy="1134.15" r="3.9" fill="#3a9422" />
<circle cx="1286.88" cy="1136.99" r="3.9" fill="#3a9422" />
<circle cx="1290.62" cy="1137.16" r="3.9" fill="#3a9422" />
<circle cx="1294.36" cy="1138.74" r="3.9" fill="#3a9422" />
<circle cx="1298.10" cy="1136.11" r="3.9" fill="#3a9422" />
<circle cx="1301.84" cy="1141.02" r="3.9" fill="#3a9422" />
<circle cx="1305.58" cy="1130.92" r="3.9" fill="#3a9422" />
<circle cx="1309.32" cy="1132.68" r="3.9" fill="#3a9422" />
<circle cx="1313.05" cy="1139.08" r="3.9" fill="#3a9422" />
<circle cx="1316.79" cy="1141.82" r="3.9" fill="#3a9422" />
<circle cx="1320.53" cy="1136.67" r="3.9" fill="#3a9422" />
<circle cx="1324.27" cy="1135.31" r="3.9" fill="#3a9422" />
<circle cx="1328.01" cy="1134.44" r="3.9" fill="#3a9422" />
<circle cx="1331.75" cy="1137.23" r="3.9" fill="#3a9422" />
<circle cx="1335.49" cy="1139.17" r="3.9" fill="#3a9422" />
<circle cx="1339.23" cy="1137.14" r="3.9" fill="#3a9422" />
<circle cx="1342.97" cy="1139.32" r="3.9" fill="#3a9422" />
<circle cx="1346.71" cy="1139.89" r="3.9" fill="#3a9422" />
<circle cx="1350.44" cy="1139.49" r="3.9" fill="#3a9422" />
<circle cx="1354.18" cy="1139.66" r="3.9" fill="#3a9422" />
<circle cx="1357.92" cy="1142.52" r="3.9" fill="#3a9422" />
<circle cx="1361.66" cy="1138.76" r="3.9" fill="#3a9422" />
<circle cx="1365.40" cy="1143.01" r="3.9" fill="#3a9422" />
<circle cx="1369.14" cy="1141.30" r="3.9" fill="#3a9422" />
<circle cx="1372.88" cy="1142.02" r="3.9" fill="#3a9422" />
<circle cx="1376.62" cy="1141.71" r="3.9" fill="#3a9422" />
<circle cx="1380.36" cy="1144.27" r="3.9" fill="#3a9422" />
<circle cx="1384.10" cy="1140.35" r="3.9" fill="#3a9422" />
<circle cx="1387.84" cy="1145.05" r="3.9" fill="#3a9422" />
<circle cx="1391.57" cy="1142.60" r="3.9" fill="#3a9422" />
<circle cx="1395.31" cy="1143.61" r="3.9" fill="#3a9422" />
<circle cx="1399.05" cy="1144.31" r="3.9" fill="#3a9422" />
<circle cx="1402.79" cy="1145.30" r="3.9" fill="#3a9422" />
<circle cx="1406.53" cy="1143.25" r="3.9" fill="#3a9422" />
<circle cx="1410.27" cy="1146.62" r="3.9" fill="#3a9422" />
<circle cx="1414.01" cy="1144.64" r="3.9" fill="#3a9422" />
<circle cx="1417.75" cy="1144.51" r="3.9" fill="#3a9422" />
<circle cx="1421.49" cy="1146.67" r="3.9" fill="#3a9422" />
<circle cx="1425.22" cy="1144.86" r="3.9" fill="#3a9422" />
<circle cx="1428.96" cy="1145.32" r="3.9" fill="#3a9422" />
<circle cx="1432.70" cy="1146.49" r="3.9" fill="#3a9422" />
<circle cx="1436.44" cy="1145.91" r="3.9" fill="#3a9422" />
<circle cx="1440.18" cy="1144.72" r="3.9" fill="#3a9422" />
<circle cx="1443.92" cy="1148.32" r="3.9" fill="#3a9422" />
<circle cx="1447.66" cy="1144.56" r="3.9" fill="#3a9422" />
<circle cx="1451.40" cy="1147.63" r="3.9" fill="#3a9422" />
<circle cx="1455.14" cy="1147.07" r="3.9" fill="#3a9422" />
<circle cx="1458.88" cy="1147.60" r="3.9" fill="#3a9422" />
<circle cx="1462.62" cy="1146.44" r="3.9" fill="#3a9422" />
<circle cx="1466.35" cy="1150.32" r="3.9" fill="#3a9422" />
<circle cx="1470.09" cy="1145.98" r="3.9" fill="#3a9422" />
<circle cx="1473.83" cy="1150.04" r="3.9" fill="#3a9422" />
<circle cx="1477.57" cy="1148.76" r="3.9" fill="#3a9422" />
<circle cx="1481.31" cy="1149.07" r="3.9" fill="#3a9422" />
<circle cx="1485.05" cy="1148.88" r="3.9" fill="#3a9422" />
<circle cx="1488.79" cy="1150.89" r="3.9" fill="#3a9422" />
<circle cx="1492.53" cy="1147.57" r="3.9" fill="#3a9422" />
<circle cx="1496.27" cy="1150.69" r="3.9" fill="#3a9422" />
<circle cx="1500.00" cy="1149.75" r="3.9" fill="#3a9422" />
<circle cx="1503.74" cy="1148.59" r="3.9" fill="#3a9422" />
<circle cx="1507.48" cy="1150.57" r="3.9" fill="#3a9422" />
<circle cx="1511.22" cy="1149.87" r="3.9" fill="#3a9422" />
<circle cx="1514.96" cy="1149.00" r="3.9" fill="#3a9422" />
<circle cx="1518.70" cy="1150.43" r="3.9" fill="#3a9422" />
<circle cx="1522.44" cy="1150.56" r="3.9" fill="#3a9422" />
<circle cx="1526.18" cy="1148.07" r="3.9" fill="#3a9422" />
<circle cx="1529.92" cy="1151.94" r="3.9" fill="#3a9422" />
<circle cx="1533.66" cy="1148.67" r="3.9" fill="#3a9422" />
<circle cx="1537.39" cy="1150.10" r="3.9" fill="#3a9422" />
<circle cx="1541.13" cy="1149.95" r="3.9" fill="#3a9422" />
<circle cx="1544.87" cy="1150.66" r="3.9" fill="#3a9422" />
<circle cx="1548.61" cy="1147.94" r="3.9" fill="#3a9422" />
<circle cx="1552.35" cy="1152.39" r="3.9" fill="#3a9422" />
<circle cx="1556.09" cy="1148.00" r="3.9" fill="#3a9422" />
<circle cx="1559.83" cy="1150.58" r="3.9" fill="#3a9422" />
<circle cx="1563.57" cy="1150.00" r="3.9" fill="#3a9422" />
<circle cx="1567.31" cy="1150.07" r="3.9" fill="#3a9422" />
<circle cx="1571.05" cy="1148.69" r="3.9" fill="#3a9422" />
<circle cx="1574.78" cy="1151.88" r="3.9" fill="#3a9422" />
<circle cx="1578.52" cy="1148.19" r="3.9" fill="#3a9422" />
<circle cx="1582.26" cy="1150.40" r="3.9" fill="#3a9422" />
<circle cx="1586.00" cy="1150.57" r="3.9" fill="#3a9422" />
<circle cx="1589.74" cy="1148.97" r="3.9" fill="#3a9422" />
<circle cx="1593.48" cy="1150.06" r="3.9" fill="#3a9422" />
<circle cx="1597.22" cy="1150.80" r="3.9" fill="#3a9422" />
<circle cx="1600.96" cy="1149.21" r="3.9" fill="#3a9422" />
<circle cx="1604.70" cy="1150.27" r="3.9" fill="#3a9422" />
<circle cx="1608.44" cy="1151.71" r="3.9" fill="#3a9422" />
<circle cx="1612.17" cy="1148.53" r="3.9" fill="#3a9422" />
<circle cx="1615.91" cy="1152.18" r="3.9" fill="#3a9422" />
<circle cx="1619.65" cy="1150.29" r="3.9" fill="#3a9422" />
<circle cx="1623.39" cy="1150.74" r="3.9" fill="#3a9422" />
<circle cx="1627.13" cy="1150.73" r="3.9" fill="#3a9422" />
<circle cx="1630.87" cy="1152.62" r="3.9" fill="#3a9422" />
<circle cx="1634.61" cy="1149.12" r="3.9" fill="#3a9422" />
<circle cx="1638.35" cy="1154.16" r="3.9" fill="#3a9422" />
<circle cx="1642.09" cy="1151.06" r="3.9" fill="#3a9422" />
<circle cx="1645.83" cy="1152.79" r="3.9" fill="#3a9422" />
<circle cx="1649.57" cy="1153.01" r="3.9" fill="#3a9422" />
<circle cx="1653.30" cy="1153.99" r="3.9" fill="#3a9422" />
<circle cx="1657.04" cy="1151.40" r="3.9" fill="#3a9422" />
<circle cx="1660.78" cy="1155.46" r="3.9" fill="#3a9422" />
<circle cx="1664.52" cy="1152.34" r="3.9" fill="#3a9422" />
<circle cx="1668.26" cy="1153.50" r="3.9" fill="#3a9422" />
<circle cx="1672.00" cy="1154.21" r="3.9" fill="#3a9422" />
<circle cx="1675.74" cy="1152.73" r="3.9" fill="#3a9422" />
<circle cx="1679.48" cy="1152.29" r="3.9" fill="#3a9422" />
<circle cx="1683.22" cy="1153.80" r="3.9" fill="#3a9422" />
<circle cx="1686.95" cy="1151.77" r="3.9" fill="#3a9422" />
<circle cx="1690.69" cy="1152.34" r="3.9" fill="#3a9422" />
<circle cx="1694.43" cy="1155.36" r="3.9" fill="#3a9422" />
<circle cx="1698.17" cy="1152.54" r="3.9" fill="#3a9422" />
<circle cx="1701.91" cy="1155.69" r="3.9" fill="#3a9422" />
<circle cx="1705.65" cy="1155.61" r="3.9" fill="#3a9422" />
<circle cx="1709.39" cy="1155.42" r="3.9" fill="#3a9422" />
<circle cx="1713.13" cy="1154.59" r="3.9" fill="#3a9422" />
<circle cx="1716.87" cy="1157.61" r="3.9" fill="#3a9422" />
<circle cx="1720.61" cy="1153.06" r="3.9" fill="#3a9422" />
<circle cx="1724.34" cy="1157.21" r="3.9" fill="#3a9422" />
<circle cx="1728.08" cy="1154.37" r="3.9" fill="#3a9422" />
<circle cx="1731.82" cy="1154.23" r="3.9" fill="#3a9422" />
<circle cx="1735.56" cy="1153.15" r="3.9" fill="#3a9422" />
<circle cx="1739.30" cy="1154.61" r="3.9" fill="#3a9422" />
<circle cx="1743.04" cy="1150.17" r="3.9" fill="#3a9422" />
<circle cx="1746.78" cy="1154.01" r="3.9" fill="#3a9422" />
<circle cx="1750.52" cy="1151.66" r="3.9" fill="#3a9422" />
<circle cx="1754.26" cy="1151.47" r="3.9" fill="#3a9422" />
<circle cx="1758.00" cy="1152.45" r="3.9" fill="#3a9422" />
<circle cx="1761.73" cy="1152.11" r="3.9" fill="#3a9422" />
<circle cx="1765.47" cy="1150.45" r="3.9" fill="#3a9422" />
<circle cx="1769.21" cy="1152.63" r="3.9" fill="#3a9422" />
<circle cx="1772.95" cy="1151.38" r="3.9" fill="#3a9422" />
<circle cx="1776.69" cy="1150.00" r="3.9" fill="#3a9422" />
<circle cx="1780.43" cy="1152.88" r="3.9" fill="#3a9422" />
<circle cx="1784.17" cy="1149.85" r="3.9" fill="#3a9422" />
<circle cx="1787.91" cy="1150.85" r="3.9" fill="#3a9422" />
<circle cx="1791.65" cy="1150.91" r="3.9" fill="#3a9422" />
<circle cx="1795.39" cy="1150.76" r="3.9" fill="#3a9422" />
<circle cx="1799.12" cy="1148.59" r="3.9" fill="#3a9422" />
<circle cx="1802.86" cy="1152.43" r="3.9" fill="#3a9422" />
<circle cx="1806.60" cy="1147.75" r="3.9" fill="#3a9422" />
<circle cx="1810.34" cy="1150.61" r="3.9" fill="#3a9422" />
<circle cx="1814.08" cy="1149.38" r="3.9" fill="#3a9422" />
<circle cx="1817.82" cy="1149.48" r="3.9" fill="#3a9422" />
<circle cx="1821.56" cy="1147.62" r="3.9" fill="#3a9422" />
<circle cx="1825.30" cy="1150.55" r="3.9" fill="#3a9422" />
<circle cx="1829.04" cy="1145.78" r="3.9" fill="#3a9422" />
<circle cx="1832.78" cy="1148.62" r="3.9" fill="#3a9422" />
<circle cx="1836.51" cy="1147.16" r="3.9" fill="#3a9422" />
<circle cx="1840.25" cy="1146.04" r="3.9" fill="#3a9422" />
<circle cx="1843.99" cy="1146.09" r="3.9" fill="#3a9422" />
<circle cx="1847.73" cy="1147.85" r="3.9" fill="#3a9422" />
<circle cx="1851.47" cy="1145.97" r="3.9" fill="#3a9422" />
<circle cx="1855.21" cy="1148.71" r="3.9" fill="#3a9422" />
<circle cx="1858.95" cy="1148.69" r="3.9" fill="#3a9422" />
<circle cx="1862.69" cy="1146.48" r="3.9" fill="#3a9422" />
<circle cx="1866.43" cy="1149.36" r="3.9" fill="#3a9422" />
<circle cx="1870.17" cy="1147.68" r="3.9" fill="#3a9422" />
<circle cx="1873.90" cy="1147.62" r="3.9" fill="#3a9422" />
<circle cx="1877.64" cy="1147.11" r="3.9" fill="#3a9422" />
<circle cx="1881.38" cy="1146.98" r="3.9" fill="#3a9422" />
<circle cx="1885.12" cy="1142.76" r="3.9" fill="#3a9422" />
<circle cx="1888.86" cy="1148.77" r="3.9" fill="#3a9422" />
<circle cx="1892.60" cy="1146.61" r="3.9" fill="#3a9422" />
<circle cx="1148.54" cy="1115.59" r="4.0" fill="#58b2f5" />
<circle cx="1152.28" cy="1116.84" r="4.0" fill="#58b2f5" />
<circle cx="1156.02" cy="1103.11" r="4.0" fill="#58b2f5" />
<circle cx="1159.76" cy="1118.71" r="4.0" fill="#58b2f5" />
<circle cx="1163.49" cy="1113.72" r="4.0" fill="#58b2f5" />
<circle cx="1167.23" cy="1123.07" r="4.0" fill="#58b2f5" />
<circle cx="1170.97" cy="1103.11" r="4.0" fill="#58b2f5" />
<circle cx="1174.71" cy="1140.54" r="4.0" fill="#58b2f5" />
<circle cx="1178.45" cy="1140.87" r="4.0" fill="#58b2f5" />
<circle cx="1182.19" cy="1138.65" r="4.0" fill="#58b2f5" />
<circle cx="1185.93" cy="1141.06" r="4.0" fill="#58b2f5" />
<circle cx="1189.67" cy="1139.63" r="4.0" fill="#58b2f5" />
<circle cx="1193.41" cy="1139.26" r="4.0" fill="#58b2f5" />
<circle cx="1197.15" cy="1140.86" r="4.0" fill="#58b2f5" />
<circle cx="1200.88" cy="1139.47" r="4.0" fill="#58b2f5" />
<circle cx="1204.62" cy="1140.86" r="4.0" fill="#58b2f5" />
<circle cx="1208.36" cy="1142.93" r="4.0" fill="#58b2f5" />
<circle cx="1212.10" cy="1143.75" r="4.0" fill="#58b2f5" />
<circle cx="1215.84" cy="1144.77" r="4.0" fill="#58b2f5" />
<circle cx="1219.58" cy="1149.67" r="4.0" fill="#58b2f5" />
<circle cx="1223.32" cy="1154.76" r="4.0" fill="#58b2f5" />
<circle cx="1227.06" cy="1161.07" r="4.0" fill="#58b2f5" />
<circle cx="1230.80" cy="1159.26" r="4.0" fill="#58b2f5" />
<circle cx="1234.54" cy="1163.82" r="4.0" fill="#58b2f5" />
<circle cx="1238.27" cy="1166.95" r="4.0" fill="#58b2f5" />
<circle cx="1242.01" cy="1169.75" r="4.0" fill="#58b2f5" />
<circle cx="1245.75" cy="1166.26" r="4.0" fill="#58b2f5" />
<circle cx="1249.49" cy="1168.53" r="4.0" fill="#58b2f5" />
<circle cx="1253.23" cy="1167.07" r="4.0" fill="#58b2f5" />
<circle cx="1256.97" cy="1166.59" r="4.0" fill="#58b2f5" />
<circle cx="1260.71" cy="1165.71" r="4.0" fill="#58b2f5" />
<circle cx="1264.45" cy="1166.66" r="4.0" fill="#58b2f5" />
<circle cx="1268.19" cy="1163.47" r="4.0" fill="#58b2f5" />
<circle cx="1271.93" cy="1165.03" r="4.0" fill="#58b2f5" />
<circle cx="1275.66" cy="1163.84" r="4.0" fill="#58b2f5" />
<circle cx="1279.40" cy="1161.80" r="4.0" fill="#58b2f5" />
<circle cx="1283.14" cy="1162.23" r="4.0" fill="#58b2f5" />
<circle cx="1286.88" cy="1160.76" r="4.0" fill="#58b2f5" />
<circle cx="1290.62" cy="1159.00" r="4.0" fill="#58b2f5" />
<circle cx="1294.36" cy="1158.96" r="4.0" fill="#58b2f5" />
<circle cx="1298.10" cy="1158.10" r="4.0" fill="#58b2f5" />
<circle cx="1301.84" cy="1154.96" r="4.0" fill="#58b2f5" />
<circle cx="1305.58" cy="1156.77" r="4.0" fill="#58b2f5" />
<circle cx="1309.32" cy="1153.29" r="4.0" fill="#58b2f5" />
<circle cx="1313.05" cy="1153.12" r="4.0" fill="#58b2f5" />
<circle cx="1316.79" cy="1152.40" r="4.0" fill="#58b2f5" />
<circle cx="1320.53" cy="1152.42" r="4.0" fill="#58b2f5" />
<circle cx="1324.27" cy="1149.61" r="4.0" fill="#58b2f5" />
<circle cx="1328.01" cy="1152.38" r="4.0" fill="#58b2f5" />
<circle cx="1331.75" cy="1148.55" r="4.0" fill="#58b2f5" />
<circle cx="1335.49" cy="1149.71" r="4.0" fill="#58b2f5" />
<circle cx="1339.23" cy="1148.75" r="4.0" fill="#58b2f5" />
<circle cx="1342.97" cy="1148.21" r="4.0" fill="#58b2f5" />
<circle cx="1346.71" cy="1146.43" r="4.0" fill="#58b2f5" />
<circle cx="1350.44" cy="1148.27" r="4.0" fill="#58b2f5" />
<circle cx="1354.18" cy="1144.94" r="4.0" fill="#58b2f5" />
<circle cx="1357.92" cy="1145.81" r="4.0" fill="#58b2f5" />
<circle cx="1361.66" cy="1145.47" r="4.0" fill="#58b2f5" />
<circle cx="1365.40" cy="1143.61" r="4.0" fill="#58b2f5" />
<circle cx="1369.14" cy="1143.72" r="4.0" fill="#58b2f5" />
<circle cx="1372.88" cy="1143.66" r="4.0" fill="#58b2f5" />
<circle cx="1376.62" cy="1141.75" r="4.0" fill="#58b2f5" />
<circle cx="1380.36" cy="1125.48" r="4.0" fill="#58b2f5" />
<circle cx="1384.10" cy="1141.61" r="4.0" fill="#58b2f5" />
<circle cx="1387.84" cy="1139.35" r="4.0" fill="#58b2f5" />
<circle cx="1391.57" cy="1142.26" r="4.0" fill="#58b2f5" />
<circle cx="1395.31" cy="1141.18" r="4.0" fill="#58b2f5" />
<circle cx="1399.05" cy="1141.67" r="4.0" fill="#58b2f5" />
<circle cx="1402.79" cy="1141.81" r="4.0" fill="#58b2f5" />
<circle cx="1406.53" cy="1143.60" r="4.0" fill="#58b2f5" />
<circle cx="1410.27" cy="1140.52" r="4.0" fill="#58b2f5" />
<circle cx="1414.01" cy="1143.94" r="4.0" fill="#58b2f5" />
<circle cx="1417.75" cy="1141.40" r="4.0" fill="#58b2f5" />
<circle cx="1421.49" cy="1142.22" r="4.0" fill="#58b2f5" />
<circle cx="1425.22" cy="1142.07" r="4.0" fill="#58b2f5" />
<circle cx="1428.96" cy="1142.74" r="4.0" fill="#58b2f5" />
<circle cx="1432.70" cy="1140.53" r="4.0" fill="#58b2f5" />
<circle cx="1436.44" cy="1143.43" r="4.0" fill="#58b2f5" />
<circle cx="1440.18" cy="1141.06" r="4.0" fill="#58b2f5" />
<circle cx="1443.92" cy="1141.60" r="4.0" fill="#58b2f5" />
<circle cx="1447.66" cy="1142.42" r="4.0" fill="#58b2f5" />
<circle cx="1451.40" cy="1141.53" r="4.0" fill="#58b2f5" />
<circle cx="1455.14" cy="1141.28" r="4.0" fill="#58b2f5" />
<circle cx="1458.88" cy="1142.65" r="4.0" fill="#58b2f5" />
<circle cx="1462.62" cy="1141.40" r="4.0" fill="#58b2f5" />
<circle cx="1466.35" cy="1141.18" r="4.0" fill="#58b2f5" />
<circle cx="1470.09" cy="1143.12" r="4.0" fill="#58b2f5" />
<circle cx="1473.83" cy="1140.53" r="4.0" fill="#58b2f5" />
<circle cx="1477.57" cy="1142.32" r="4.0" fill="#58b2f5" />
<circle cx="1481.31" cy="1141.89" r="4.0" fill="#58b2f5" />
<circle cx="1485.05" cy="1140.73" r="4.0" fill="#58b2f5" />
<circle cx="1488.79" cy="1138.93" r="4.0" fill="#58b2f5" />
<circle cx="1492.53" cy="1140.30" r="4.0" fill="#58b2f5" />
<circle cx="1496.27" cy="1136.58" r="4.0" fill="#58b2f5" />
<circle cx="1500.00" cy="1139.33" r="4.0" fill="#58b2f5" />
<circle cx="1503.74" cy="1137.54" r="4.0" fill="#58b2f5" />
<circle cx="1507.48" cy="1137.57" r="4.0" fill="#58b2f5" />
<circle cx="1511.22" cy="1136.90" r="4.0" fill="#58b2f5" />
<circle cx="1514.96" cy="1138.32" r="4.0" fill="#58b2f5" />
<circle cx="1518.70" cy="1135.13" r="4.0" fill="#58b2f5" />
<circle cx="1522.44" cy="1138.22" r="4.0" fill="#58b2f5" />
<circle cx="1526.18" cy="1136.90" r="4.0" fill="#58b2f5" />
<circle cx="1529.92" cy="1136.91" r="4.0" fill="#58b2f5" />
<circle cx="1533.66" cy="1137.93" r="4.0" fill="#58b2f5" />
<circle cx="1537.39" cy="1138.05" r="4.0" fill="#58b2f5" />
<circle cx="1541.13" cy="1137.00" r="4.0" fill="#58b2f5" />
<circle cx="1544.87" cy="1138.89" r="4.0" fill="#58b2f5" />
<circle cx="1548.61" cy="1138.38" r="4.0" fill="#58b2f5" />
<circle cx="1552.35" cy="1137.46" r="4.0" fill="#58b2f5" />
<circle cx="1556.09" cy="1139.96" r="4.0" fill="#58b2f5" />
<circle cx="1559.83" cy="1137.83" r="4.0" fill="#58b2f5" />
<circle cx="1563.57" cy="1138.55" r="4.0" fill="#58b2f5" />
<circle cx="1567.31" cy="1138.71" r="4.0" fill="#58b2f5" />
<circle cx="1571.05" cy="1138.77" r="4.0" fill="#58b2f5" />
<circle cx="1574.78" cy="1137.06" r="4.0" fill="#58b2f5" />
<circle cx="1578.52" cy="1140.12" r="4.0" fill="#58b2f5" />
<circle cx="1582.26" cy="1136.73" r="4.0" fill="#58b2f5" />
<circle cx="1586.00" cy="1138.82" r="4.0" fill="#58b2f5" />
<circle cx="1589.74" cy="1138.07" r="4.0" fill="#58b2f5" />
<circle cx="1593.48" cy="1138.24" r="4.0" fill="#58b2f5" />
<circle cx="1597.22" cy="1136.96" r="4.0" fill="#58b2f5" />
<circle cx="1600.96" cy="1139.49" r="4.0" fill="#58b2f5" />
<circle cx="1604.70" cy="1136.16" r="4.0" fill="#58b2f5" />
<circle cx="1608.44" cy="1138.38" r="4.0" fill="#58b2f5" />
<circle cx="1612.17" cy="1137.68" r="4.0" fill="#58b2f5" />
<circle cx="1615.91" cy="1137.01" r="4.0" fill="#58b2f5" />
<circle cx="1619.65" cy="1132.95" r="4.0" fill="#58b2f5" />
<circle cx="1623.39" cy="1139.52" r="4.0" fill="#58b2f5" />
<circle cx="1627.13" cy="1137.93" r="4.0" fill="#58b2f5" />
<circle cx="1630.87" cy="1139.71" r="4.0" fill="#58b2f5" />
<circle cx="1634.61" cy="1140.19" r="4.0" fill="#58b2f5" />
<circle cx="1638.35" cy="1138.73" r="4.0" fill="#58b2f5" />
<circle cx="1642.09" cy="1139.87" r="4.0" fill="#58b2f5" />
<circle cx="1645.83" cy="1137.72" r="4.0" fill="#58b2f5" />
<circle cx="1649.57" cy="1136.61" r="4.0" fill="#58b2f5" />
<circle cx="1653.30" cy="1135.96" r="4.0" fill="#58b2f5" />
<circle cx="1657.04" cy="1135.79" r="4.0" fill="#58b2f5" />
<circle cx="1660.78" cy="1134.10" r="4.0" fill="#58b2f5" />
<circle cx="1664.52" cy="1138.28" r="4.0" fill="#58b2f5" />
<circle cx="1668.26" cy="1136.43" r="4.0" fill="#58b2f5" />
<circle cx="1672.00" cy="1137.87" r="4.0" fill="#58b2f5" />
<circle cx="1675.74" cy="1137.88" r="4.0" fill="#58b2f5" />
<circle cx="1679.48" cy="1138.83" r="4.0" fill="#58b2f5" />
<circle cx="1683.22" cy="1136.92" r="4.0" fill="#58b2f5" />
<circle cx="1686.95" cy="1140.44" r="4.0" fill="#58b2f5" />
<circle cx="1690.69" cy="1137.72" r="4.0" fill="#58b2f5" />
<circle cx="1694.43" cy="1139.41" r="4.0" fill="#58b2f5" />
<circle cx="1698.17" cy="1139.74" r="4.0" fill="#58b2f5" />
<circle cx="1701.91" cy="1139.59" r="4.0" fill="#58b2f5" />
<circle cx="1705.65" cy="1139.23" r="4.0" fill="#58b2f5" />
<circle cx="1709.39" cy="1140.78" r="4.0" fill="#58b2f5" />
<circle cx="1713.13" cy="1138.42" r="4.0" fill="#58b2f5" />
<circle cx="1716.87" cy="1138.90" r="4.0" fill="#58b2f5" />
<circle cx="1720.61" cy="1139.60" r="4.0" fill="#58b2f5" />
<circle cx="1724.34" cy="1137.32" r="4.0" fill="#58b2f5" />
<circle cx="1728.08" cy="1138.46" r="4.0" fill="#58b2f5" />
<circle cx="1731.82" cy="1138.01" r="4.0" fill="#58b2f5" />
<circle cx="1735.56" cy="1137.09" r="4.0" fill="#58b2f5" />
<circle cx="1739.30" cy="1139.20" r="4.0" fill="#58b2f5" />
<circle cx="1743.04" cy="1143.14" r="4.0" fill="#58b2f5" />
<circle cx="1746.78" cy="1139.80" r="4.0" fill="#58b2f5" />
<circle cx="1750.52" cy="1142.58" r="4.0" fill="#58b2f5" />
<circle cx="1754.26" cy="1140.59" r="4.0" fill="#58b2f5" />
<circle cx="1758.00" cy="1140.79" r="4.0" fill="#58b2f5" />
<circle cx="1761.73" cy="1140.18" r="4.0" fill="#58b2f5" />
<circle cx="1765.47" cy="1142.25" r="4.0" fill="#58b2f5" />
<circle cx="1769.21" cy="1139.74" r="4.0" fill="#58b2f5" />
<circle cx="1772.95" cy="1143.60" r="4.0" fill="#58b2f5" />
<circle cx="1776.69" cy="1141.85" r="4.0" fill="#58b2f5" />
<circle cx="1780.43" cy="1142.92" r="4.0" fill="#58b2f5" />
<circle cx="1784.17" cy="1143.53" r="4.0" fill="#58b2f5" />
<circle cx="1787.91" cy="1144.12" r="4.0" fill="#58b2f5" />
<circle cx="1791.65" cy="1142.81" r="4.0" fill="#58b2f5" />
<circle cx="1795.39" cy="1145.48" r="4.0" fill="#58b2f5" />
<circle cx="1799.12" cy="1144.15" r="4.0" fill="#58b2f5" />
<circle cx="1802.86" cy="1144.36" r="4.0" fill="#58b2f5" />
<circle cx="1806.60" cy="1146.21" r="4.0" fill="#58b2f5" />
<circle cx="1810.34" cy="1144.92" r="4.0" fill="#58b2f5" />
<circle cx="1814.08" cy="1145.69" r="4.0" fill="#58b2f5" />
<circle cx="1817.82" cy="1146.66" r="4.0" fill="#58b2f5" />
<circle cx="1821.56" cy="1146.48" r="4.0" fill="#58b2f5" />
<circle cx="1825.30" cy="1145.98" r="4.0" fill="#58b2f5" />
<circle cx="1829.04" cy="1148.90" r="4.0" fill="#58b2f5" />
<circle cx="1832.78" cy="1146.15" r="4.0" fill="#58b2f5" />
<circle cx="1836.51" cy="1148.76" r="4.0" fill="#58b2f5" />
<circle cx="1840.25" cy="1148.59" r="4.0" fill="#58b2f5" />
<circle cx="1843.99" cy="1149.38" r="4.0" fill="#58b2f5" />
<circle cx="1847.73" cy="1149.03" r="4.0" fill="#58b2f5" />
<circle cx="1851.47" cy="1152.19" r="4.0" fill="#58b2f5" />
<circle cx="1855.21" cy="1149.35" r="4.0" fill="#58b2f5" />
<circle cx="1858.95" cy="1153.26" r="4.0" fill="#58b2f5" />
<circle cx="1862.69" cy="1152.94" r="4.0" fill="#58b2f5" />
<circle cx="1866.43" cy="1153.95" r="4.0" fill="#58b2f5" />
<circle cx="1870.17" cy="1154.90" r="4.0" fill="#58b2f5" />
<circle cx="1873.90" cy="1157.16" r="4.0" fill="#58b2f5" />
<circle cx="1877.64" cy="1156.61" r="4.0" fill="#58b2f5" />
<circle cx="1881.38" cy="1160.80" r="4.0" fill="#58b2f5" />
<circle cx="1885.12" cy="1161.82" r="4.0" fill="#58b2f5" />
<circle cx="1888.86" cy="1162.51" r="4.0" fill="#58b2f5" />
<circle cx="1892.60" cy="1165.60" r="4.0" fill="#58b2f5" />
<circle cx="1148.54" cy="1303.98" r="4.3" fill="url(#gLB)" />
<circle cx="1152.28" cy="1153.02" r="4.3" fill="url(#gLB)" />
<circle cx="1156.02" cy="1156.13" r="4.3" fill="url(#gLB)" />
<circle cx="1159.76" cy="1172.98" r="4.3" fill="url(#gLB)" />
<circle cx="1163.49" cy="1182.33" r="4.3" fill="url(#gLB)" />
<circle cx="1167.23" cy="1196.06" r="4.3" fill="url(#gLB)" />
<circle cx="1170.97" cy="1187.32" r="4.3" fill="url(#gLB)" />
<circle cx="1174.71" cy="1219.76" r="4.3" fill="url(#gLB)" />
<circle cx="1178.45" cy="1234.11" r="4.3" fill="url(#gLB)" />
<circle cx="1182.19" cy="1249.08" r="4.3" fill="url(#gLB)" />
<circle cx="1185.93" cy="1262.18" r="4.3" fill="url(#gLB)" />
<circle cx="1189.67" cy="1272.79" r="4.3" fill="url(#gLB)" />
<circle cx="1193.41" cy="1284.01" r="4.3" fill="url(#gLB)" />
<circle cx="1197.15" cy="1289.63" r="4.3" fill="url(#gLB)" />
<circle cx="1200.88" cy="1295.87" r="4.3" fill="url(#gLB)" />
<circle cx="1204.62" cy="1303.98" r="4.3" fill="url(#gLB)" />
<circle cx="1208.36" cy="1310.21" r="4.3" fill="url(#gLB)" />
<circle cx="1212.10" cy="1318.32" r="4.3" fill="url(#gLB)" />
<circle cx="1215.84" cy="1323.94" r="4.3" fill="url(#gLB)" />
<circle cx="1219.58" cy="1328.93" r="4.3" fill="url(#gLB)" />
<circle cx="1223.32" cy="1332.05" r="4.3" fill="url(#gLB)" />
<circle cx="1227.06" cy="1337.04" r="4.3" fill="url(#gLB)" />
<circle cx="1230.80" cy="1337.04" r="4.3" fill="url(#gLB)" />
<circle cx="1234.54" cy="1341.40" r="4.3" fill="url(#gLB)" />
<circle cx="1238.27" cy="1348.89" r="4.3" fill="url(#gLB)" />
<circle cx="1242.01" cy="1353.88" r="4.3" fill="url(#gLB)" />
<circle cx="1245.75" cy="1360.12" r="4.3" fill="url(#gLB)" />
<circle cx="1249.49" cy="1365.11" r="4.3" fill="url(#gLB)" />
<circle cx="1253.23" cy="1370.72" r="4.3" fill="url(#gLB)" />
<circle cx="1256.97" cy="1375.71" r="4.3" fill="url(#gLB)" />
<circle cx="1260.71" cy="1380.08" r="4.3" fill="url(#gLB)" />
<circle cx="1264.45" cy="1384.45" r="4.3" fill="url(#gLB)" />
<circle cx="1268.19" cy="1388.19" r="4.3" fill="url(#gLB)" />
<circle cx="1271.93" cy="1391.93" r="4.3" fill="url(#gLB)" />
<circle cx="1275.66" cy="1394.43" r="4.3" fill="url(#gLB)" />
<circle cx="1279.40" cy="1396.92" r="4.3" fill="url(#gLB)" />
<circle cx="1283.14" cy="1399.42" r="4.3" fill="url(#gLB)" />
<circle cx="1286.88" cy="1401.29" r="4.3" fill="url(#gLB)" />
<circle cx="1290.62" cy="1403.16" r="4.3" fill="url(#gLB)" />
<circle cx="1294.36" cy="1405.03" r="4.3" fill="url(#gLB)" />
<circle cx="1298.10" cy="1406.45" r="4.3" fill="url(#gLB)" />
<circle cx="1301.84" cy="1406.68" r="4.3" fill="url(#gLB)" />
<circle cx="1305.58" cy="1407.22" r="4.3" fill="url(#gLB)" />
<circle cx="1309.32" cy="1408.84" r="4.3" fill="url(#gLB)" />
<circle cx="1313.05" cy="1408.13" r="4.3" fill="url(#gLB)" />
<circle cx="1316.79" cy="1409.41" r="4.3" fill="url(#gLB)" />
<circle cx="1320.53" cy="1409.60" r="4.3" fill="url(#gLB)" />
<circle cx="1324.27" cy="1409.87" r="4.3" fill="url(#gLB)" />
<circle cx="1328.01" cy="1409.86" r="4.3" fill="url(#gLB)" />
<circle cx="1331.75" cy="1411.51" r="4.3" fill="url(#gLB)" />
<circle cx="1335.49" cy="1410.05" r="4.3" fill="url(#gLB)" />
<circle cx="1339.23" cy="1412.03" r="4.3" fill="url(#gLB)" />
<circle cx="1342.97" cy="1411.60" r="4.3" fill="url(#gLB)" />
<circle cx="1346.71" cy="1412.13" r="4.3" fill="url(#gLB)" />
<circle cx="1350.44" cy="1412.27" r="4.3" fill="url(#gLB)" />
<circle cx="1354.18" cy="1413.33" r="4.3" fill="url(#gLB)" />
<circle cx="1357.92" cy="1411.86" r="4.3" fill="url(#gLB)" />
<circle cx="1361.66" cy="1413.56" r="4.3" fill="url(#gLB)" />
<circle cx="1365.40" cy="1412.86" r="4.3" fill="url(#gLB)" />
<circle cx="1369.14" cy="1412.92" r="4.3" fill="url(#gLB)" />
<circle cx="1372.88" cy="1413.01" r="4.3" fill="url(#gLB)" />
<circle cx="1376.62" cy="1412.71" r="4.3" fill="url(#gLB)" />
<circle cx="1380.36" cy="1405.14" r="4.3" fill="url(#gLB)" />
<circle cx="1384.10" cy="1406.40" r="4.3" fill="url(#gLB)" />
<circle cx="1387.84" cy="1406.30" r="4.3" fill="url(#gLB)" />
<circle cx="1391.57" cy="1406.25" r="4.3" fill="url(#gLB)" />
<circle cx="1395.31" cy="1407.94" r="4.3" fill="url(#gLB)" />
<circle cx="1399.05" cy="1407.39" r="4.3" fill="url(#gLB)" />
<circle cx="1402.79" cy="1408.26" r="4.3" fill="url(#gLB)" />
<circle cx="1406.53" cy="1408.91" r="4.3" fill="url(#gLB)" />
<circle cx="1410.27" cy="1409.14" r="4.3" fill="url(#gLB)" />
<circle cx="1414.01" cy="1408.46" r="4.3" fill="url(#gLB)" />
<circle cx="1417.75" cy="1410.30" r="4.3" fill="url(#gLB)" />
<circle cx="1421.49" cy="1408.73" r="4.3" fill="url(#gLB)" />
<circle cx="1425.22" cy="1410.05" r="4.3" fill="url(#gLB)" />
<circle cx="1428.96" cy="1409.88" r="4.3" fill="url(#gLB)" />
<circle cx="1432.70" cy="1410.20" r="4.3" fill="url(#gLB)" />
<circle cx="1436.44" cy="1409.73" r="4.3" fill="url(#gLB)" />
<circle cx="1440.18" cy="1411.35" r="4.3" fill="url(#gLB)" />
<circle cx="1443.92" cy="1409.79" r="4.3" fill="url(#gLB)" />
<circle cx="1447.66" cy="1411.31" r="4.3" fill="url(#gLB)" />
<circle cx="1451.40" cy="1411.21" r="4.3" fill="url(#gLB)" />
<circle cx="1455.14" cy="1411.19" r="4.3" fill="url(#gLB)" />
<circle cx="1458.88" cy="1411.56" r="4.3" fill="url(#gLB)" />
<circle cx="1462.62" cy="1412.37" r="4.3" fill="url(#gLB)" />
<circle cx="1466.35" cy="1411.56" r="4.3" fill="url(#gLB)" />
<circle cx="1470.09" cy="1412.64" r="4.3" fill="url(#gLB)" />
<circle cx="1473.83" cy="1412.93" r="4.3" fill="url(#gLB)" />
<circle cx="1477.57" cy="1412.28" r="4.3" fill="url(#gLB)" />
<circle cx="1481.31" cy="1413.62" r="4.3" fill="url(#gLB)" />
<circle cx="1485.05" cy="1412.75" r="4.3" fill="url(#gLB)" />
<circle cx="1488.79" cy="1412.33" r="4.3" fill="url(#gLB)" />
<circle cx="1492.53" cy="1412.24" r="4.3" fill="url(#gLB)" />
<circle cx="1496.27" cy="1412.35" r="4.3" fill="url(#gLB)" />
<circle cx="1500.00" cy="1410.71" r="4.3" fill="url(#gLB)" />
<circle cx="1503.74" cy="1412.16" r="4.3" fill="url(#gLB)" />
<circle cx="1507.48" cy="1410.44" r="4.3" fill="url(#gLB)" />
<circle cx="1511.22" cy="1410.75" r="4.3" fill="url(#gLB)" />
<circle cx="1514.96" cy="1410.31" r="4.3" fill="url(#gLB)" />
<circle cx="1518.70" cy="1410.38" r="4.3" fill="url(#gLB)" />
<circle cx="1522.44" cy="1410.15" r="4.3" fill="url(#gLB)" />
<circle cx="1526.18" cy="1412.85" r="4.3" fill="url(#gLB)" />
<circle cx="1529.92" cy="1406.88" r="4.3" fill="url(#gLB)" />
<circle cx="1533.66" cy="1408.02" r="4.3" fill="url(#gLB)" />
<circle cx="1537.39" cy="1408.39" r="4.3" fill="url(#gLB)" />
<circle cx="1541.13" cy="1408.58" r="4.3" fill="url(#gLB)" />
<circle cx="1544.87" cy="1408.56" r="4.3" fill="url(#gLB)" />
<circle cx="1548.61" cy="1409.96" r="4.3" fill="url(#gLB)" />
<circle cx="1552.35" cy="1409.18" r="4.3" fill="url(#gLB)" />
<circle cx="1556.09" cy="1410.00" r="4.3" fill="url(#gLB)" />
<circle cx="1559.83" cy="1410.24" r="4.3" fill="url(#gLB)" />
<circle cx="1563.57" cy="1409.00" r="4.3" fill="url(#gLB)" />
<circle cx="1567.31" cy="1409.47" r="4.3" fill="url(#gLB)" />
<circle cx="1571.05" cy="1409.20" r="4.3" fill="url(#gLB)" />
<circle cx="1574.78" cy="1408.58" r="4.3" fill="url(#gLB)" />
<circle cx="1578.52" cy="1408.95" r="4.3" fill="url(#gLB)" />
<circle cx="1582.26" cy="1410.23" r="4.3" fill="url(#gLB)" />
<circle cx="1586.00" cy="1408.98" r="4.3" fill="url(#gLB)" />
<circle cx="1589.74" cy="1410.95" r="4.3" fill="url(#gLB)" />
<circle cx="1593.48" cy="1410.42" r="4.3" fill="url(#gLB)" />
<circle cx="1597.22" cy="1410.64" r="4.3" fill="url(#gLB)" />
<circle cx="1600.96" cy="1410.45" r="4.3" fill="url(#gLB)" />
<circle cx="1604.70" cy="1411.30" r="4.3" fill="url(#gLB)" />
<circle cx="1608.44" cy="1409.68" r="4.3" fill="url(#gLB)" />
<circle cx="1612.17" cy="1411.49" r="4.3" fill="url(#gLB)" />
<circle cx="1615.91" cy="1410.27" r="4.3" fill="url(#gLB)" />
<circle cx="1619.65" cy="1410.60" r="4.3" fill="url(#gLB)" />
<circle cx="1623.39" cy="1411.60" r="4.3" fill="url(#gLB)" />
<circle cx="1627.13" cy="1412.66" r="4.3" fill="url(#gLB)" />
<circle cx="1630.87" cy="1412.62" r="4.3" fill="url(#gLB)" />
<circle cx="1634.61" cy="1414.80" r="4.3" fill="url(#gLB)" />
<circle cx="1638.35" cy="1414.76" r="4.3" fill="url(#gLB)" />
<circle cx="1642.09" cy="1414.82" r="4.3" fill="url(#gLB)" />
<circle cx="1645.83" cy="1415.67" r="4.3" fill="url(#gLB)" />
<circle cx="1649.57" cy="1414.95" r="4.3" fill="url(#gLB)" />
<circle cx="1653.30" cy="1415.22" r="4.3" fill="url(#gLB)" />
<circle cx="1657.04" cy="1415.70" r="4.3" fill="url(#gLB)" />
<circle cx="1660.78" cy="1415.44" r="4.3" fill="url(#gLB)" />
<circle cx="1664.52" cy="1415.08" r="4.3" fill="url(#gLB)" />
<circle cx="1668.26" cy="1416.48" r="4.3" fill="url(#gLB)" />
<circle cx="1672.00" cy="1415.04" r="4.3" fill="url(#gLB)" />
<circle cx="1675.74" cy="1416.39" r="4.3" fill="url(#gLB)" />
<circle cx="1679.48" cy="1416.17" r="4.3" fill="url(#gLB)" />
<circle cx="1683.22" cy="1416.44" r="4.3" fill="url(#gLB)" />
<circle cx="1686.95" cy="1416.11" r="4.3" fill="url(#gLB)" />
<circle cx="1690.69" cy="1417.65" r="4.3" fill="url(#gLB)" />
<circle cx="1694.43" cy="1415.98" r="4.3" fill="url(#gLB)" />
<circle cx="1698.17" cy="1417.73" r="4.3" fill="url(#gLB)" />
<circle cx="1701.91" cy="1417.20" r="4.3" fill="url(#gLB)" />
<circle cx="1705.65" cy="1417.42" r="4.3" fill="url(#gLB)" />
<circle cx="1709.39" cy="1417.73" r="4.3" fill="url(#gLB)" />
<circle cx="1713.13" cy="1418.82" r="4.3" fill="url(#gLB)" />
<circle cx="1716.87" cy="1417.87" r="4.3" fill="url(#gLB)" />
<circle cx="1720.61" cy="1419.51" r="4.3" fill="url(#gLB)" />
<circle cx="1724.34" cy="1419.39" r="4.3" fill="url(#gLB)" />
<circle cx="1728.08" cy="1418.85" r="4.3" fill="url(#gLB)" />
<circle cx="1731.82" cy="1419.49" r="4.3" fill="url(#gLB)" />
<circle cx="1735.56" cy="1419.01" r="4.3" fill="url(#gLB)" />
<circle cx="1739.30" cy="1418.55" r="4.3" fill="url(#gLB)" />
<circle cx="1743.04" cy="1419.00" r="4.3" fill="url(#gLB)" />
<circle cx="1746.78" cy="1418.47" r="4.3" fill="url(#gLB)" />
<circle cx="1750.52" cy="1417.06" r="4.3" fill="url(#gLB)" />
<circle cx="1754.26" cy="1418.08" r="4.3" fill="url(#gLB)" />
<circle cx="1758.00" cy="1416.23" r="4.3" fill="url(#gLB)" />
<circle cx="1761.73" cy="1416.37" r="4.3" fill="url(#gLB)" />
<circle cx="1765.47" cy="1416.16" r="4.3" fill="url(#gLB)" />
<circle cx="1769.21" cy="1416.27" r="4.3" fill="url(#gLB)" />
<circle cx="1772.95" cy="1415.14" r="4.3" fill="url(#gLB)" />
<circle cx="1776.69" cy="1416.76" r="4.3" fill="url(#gLB)" />
<circle cx="1780.43" cy="1414.84" r="4.3" fill="url(#gLB)" />
<circle cx="1784.17" cy="1417.82" r="4.3" fill="url(#gLB)" />
<circle cx="1787.91" cy="1413.79" r="4.3" fill="url(#gLB)" />
<circle cx="1791.65" cy="1413.19" r="4.3" fill="url(#gLB)" />
<circle cx="1795.39" cy="1412.07" r="4.3" fill="url(#gLB)" />
<circle cx="1799.12" cy="1412.67" r="4.3" fill="url(#gLB)" />
<circle cx="1802.86" cy="1410.18" r="4.3" fill="url(#gLB)" />
<circle cx="1806.60" cy="1410.15" r="4.3" fill="url(#gLB)" />
<circle cx="1810.34" cy="1409.13" r="4.3" fill="url(#gLB)" />
<circle cx="1814.08" cy="1407.52" r="4.3" fill="url(#gLB)" />
<circle cx="1817.82" cy="1407.00" r="4.3" fill="url(#gLB)" />
<circle cx="1821.56" cy="1405.11" r="4.3" fill="url(#gLB)" />
<circle cx="1825.30" cy="1402.35" r="4.3" fill="url(#gLB)" />
<circle cx="1829.04" cy="1400.71" r="4.3" fill="url(#gLB)" />
<circle cx="1832.78" cy="1400.21" r="4.3" fill="url(#gLB)" />
<circle cx="1836.51" cy="1398.01" r="4.3" fill="url(#gLB)" />
<circle cx="1840.25" cy="1398.50" r="4.3" fill="url(#gLB)" />
<circle cx="1843.99" cy="1396.70" r="4.3" fill="url(#gLB)" />
<circle cx="1847.73" cy="1396.03" r="4.3" fill="url(#gLB)" />
<circle cx="1851.47" cy="1395.18" r="4.3" fill="url(#gLB)" />
<circle cx="1855.21" cy="1394.97" r="4.3" fill="url(#gLB)" />
<circle cx="1858.95" cy="1392.86" r="4.3" fill="url(#gLB)" />
<circle cx="1862.69" cy="1394.11" r="4.3" fill="url(#gLB)" />
<circle cx="1866.43" cy="1392.03" r="4.3" fill="url(#gLB)" />
<circle cx="1870.17" cy="1392.02" r="4.3" fill="url(#gLB)" />
<circle cx="1873.90" cy="1391.32" r="4.3" fill="url(#gLB)" />
<circle cx="1877.64" cy="1391.73" r="4.3" fill="url(#gLB)" />
<circle cx="1881.38" cy="1390.83" r="4.3" fill="url(#gLB)" />
<circle cx="1885.12" cy="1392.52" r="4.3" fill="url(#gLB)" />
<circle cx="1888.86" cy="1391.29" r="4.3" fill="url(#gLB)" />
<circle cx="1892.60" cy="1391.92" r="4.3" fill="url(#gLB)" />
<circle cx="1148.54" cy="1321.44" r="4.3" fill="url(#gLO)" />
<circle cx="1152.28" cy="1363.86" r="4.3" fill="url(#gLO)" />
<circle cx="1156.02" cy="1386.32" r="4.3" fill="url(#gLO)" />
<circle cx="1159.76" cy="1408.15" r="4.3" fill="url(#gLO)" />
<circle cx="1163.49" cy="1418.75" r="4.3" fill="url(#gLO)" />
<circle cx="1167.23" cy="1423.74" r="4.3" fill="url(#gLO)" />
<circle cx="1170.97" cy="1428.74" r="4.3" fill="url(#gLO)" />
<circle cx="1174.71" cy="1433.73" r="4.3" fill="url(#gLO)" />
<circle cx="1178.45" cy="1437.47" r="4.3" fill="url(#gLO)" />
<circle cx="1182.19" cy="1439.96" r="4.3" fill="url(#gLO)" />
<circle cx="1185.93" cy="1443.08" r="4.3" fill="url(#gLO)" />
<circle cx="1189.67" cy="1444.33" r="4.3" fill="url(#gLO)" />
<circle cx="1193.41" cy="1446.20" r="4.3" fill="url(#gLO)" />
<circle cx="1197.15" cy="1448.07" r="4.3" fill="url(#gLO)" />
<circle cx="1200.88" cy="1449.63" r="4.3" fill="url(#gLO)" />
<circle cx="1204.62" cy="1451.19" r="4.3" fill="url(#gLO)" />
<circle cx="1208.36" cy="1452.75" r="4.3" fill="url(#gLO)" />
<circle cx="1212.10" cy="1454.31" r="4.3" fill="url(#gLO)" />
<circle cx="1215.84" cy="1455.56" r="4.3" fill="url(#gLO)" />
<circle cx="1219.58" cy="1456.81" r="4.3" fill="url(#gLO)" />
<circle cx="1223.32" cy="1457.74" r="4.3" fill="url(#gLO)" />
<circle cx="1227.06" cy="1458.68" r="4.3" fill="url(#gLO)" />
<circle cx="1230.80" cy="1458.68" r="4.3" fill="url(#gLO)" />
<circle cx="1234.54" cy="1458.68" r="4.3" fill="url(#gLO)" />
<circle cx="1238.27" cy="1458.68" r="4.3" fill="url(#gLO)" />
<circle cx="1242.01" cy="1460.24" r="4.3" fill="url(#gLO)" />
<circle cx="1245.75" cy="1461.80" r="4.3" fill="url(#gLO)" />
<circle cx="1249.49" cy="1463.25" r="4.3" fill="url(#gLO)" />
<circle cx="1253.23" cy="1464.71" r="4.3" fill="url(#gLO)" />
<circle cx="1256.97" cy="1466.16" r="4.3" fill="url(#gLO)" />
<circle cx="1260.71" cy="1467.52" r="4.3" fill="url(#gLO)" />
<circle cx="1264.45" cy="1467.83" r="4.3" fill="url(#gLO)" />
<circle cx="1268.19" cy="1467.89" r="4.3" fill="url(#gLO)" />
<circle cx="1271.93" cy="1468.30" r="4.3" fill="url(#gLO)" />
<circle cx="1275.66" cy="1468.02" r="4.3" fill="url(#gLO)" />
<circle cx="1279.40" cy="1467.96" r="4.3" fill="url(#gLO)" />
<circle cx="1283.14" cy="1469.53" r="4.3" fill="url(#gLO)" />
<circle cx="1286.88" cy="1468.51" r="4.3" fill="url(#gLO)" />
<circle cx="1290.62" cy="1469.82" r="4.3" fill="url(#gLO)" />
<circle cx="1294.36" cy="1469.91" r="4.3" fill="url(#gLO)" />
<circle cx="1298.10" cy="1470.29" r="4.3" fill="url(#gLO)" />
<circle cx="1301.84" cy="1470.08" r="4.3" fill="url(#gLO)" />
<circle cx="1305.58" cy="1468.84" r="4.3" fill="url(#gLO)" />
<circle cx="1309.32" cy="1464.71" r="4.3" fill="url(#gLO)" />
<circle cx="1313.05" cy="1466.03" r="4.3" fill="url(#gLO)" />
<circle cx="1316.79" cy="1467.33" r="4.3" fill="url(#gLO)" />
<circle cx="1320.53" cy="1469.22" r="4.3" fill="url(#gLO)" />
<circle cx="1324.27" cy="1467.24" r="4.3" fill="url(#gLO)" />
<circle cx="1328.01" cy="1467.33" r="4.3" fill="url(#gLO)" />
<circle cx="1331.75" cy="1465.48" r="4.3" fill="url(#gLO)" />
<circle cx="1335.49" cy="1466.52" r="4.3" fill="url(#gLO)" />
<circle cx="1339.23" cy="1466.08" r="4.3" fill="url(#gLO)" />
<circle cx="1342.97" cy="1465.63" r="4.3" fill="url(#gLO)" />
<circle cx="1346.71" cy="1466.19" r="4.3" fill="url(#gLO)" />
<circle cx="1350.44" cy="1465.91" r="4.3" fill="url(#gLO)" />
<circle cx="1354.18" cy="1465.48" r="4.3" fill="url(#gLO)" />
<circle cx="1357.92" cy="1465.93" r="4.3" fill="url(#gLO)" />
<circle cx="1361.66" cy="1465.88" r="4.3" fill="url(#gLO)" />
<circle cx="1365.40" cy="1464.98" r="4.3" fill="url(#gLO)" />
<circle cx="1369.14" cy="1466.24" r="4.3" fill="url(#gLO)" />
<circle cx="1372.88" cy="1465.06" r="4.3" fill="url(#gLO)" />
<circle cx="1376.62" cy="1465.47" r="4.3" fill="url(#gLO)" />
<circle cx="1380.36" cy="1465.38" r="4.3" fill="url(#gLO)" />
<circle cx="1384.10" cy="1465.56" r="4.3" fill="url(#gLO)" />
<circle cx="1387.84" cy="1464.54" r="4.3" fill="url(#gLO)" />
<circle cx="1391.57" cy="1466.04" r="4.3" fill="url(#gLO)" />
<circle cx="1395.31" cy="1464.44" r="4.3" fill="url(#gLO)" />
<circle cx="1399.05" cy="1465.28" r="4.3" fill="url(#gLO)" />
<circle cx="1402.79" cy="1465.01" r="4.3" fill="url(#gLO)" />
<circle cx="1406.53" cy="1464.99" r="4.3" fill="url(#gLO)" />
<circle cx="1410.27" cy="1464.29" r="4.3" fill="url(#gLO)" />
<circle cx="1414.01" cy="1465.25" r="4.3" fill="url(#gLO)" />
<circle cx="1417.75" cy="1463.74" r="4.3" fill="url(#gLO)" />
<circle cx="1421.49" cy="1464.36" r="4.3" fill="url(#gLO)" />
<circle cx="1425.22" cy="1464.20" r="4.3" fill="url(#gLO)" />
<circle cx="1428.96" cy="1463.49" r="4.3" fill="url(#gLO)" />
<circle cx="1432.70" cy="1463.64" r="4.3" fill="url(#gLO)" />
<circle cx="1436.44" cy="1463.72" r="4.3" fill="url(#gLO)" />
<circle cx="1440.18" cy="1462.88" r="4.3" fill="url(#gLO)" />
<circle cx="1443.92" cy="1463.06" r="4.3" fill="url(#gLO)" />
<circle cx="1447.66" cy="1463.55" r="4.3" fill="url(#gLO)" />
<circle cx="1451.40" cy="1462.49" r="4.3" fill="url(#gLO)" />
<circle cx="1455.14" cy="1463.75" r="4.3" fill="url(#gLO)" />
<circle cx="1458.88" cy="1463.14" r="4.3" fill="url(#gLO)" />
<circle cx="1462.62" cy="1463.29" r="4.3" fill="url(#gLO)" />
<circle cx="1466.35" cy="1463.32" r="4.3" fill="url(#gLO)" />
<circle cx="1470.09" cy="1464.00" r="4.3" fill="url(#gLO)" />
<circle cx="1473.83" cy="1462.70" r="4.3" fill="url(#gLO)" />
<circle cx="1477.57" cy="1464.40" r="4.3" fill="url(#gLO)" />
<circle cx="1481.31" cy="1463.25" r="4.3" fill="url(#gLO)" />
<circle cx="1485.05" cy="1463.66" r="4.3" fill="url(#gLO)" />
<circle cx="1488.79" cy="1463.53" r="4.3" fill="url(#gLO)" />
<circle cx="1492.53" cy="1463.79" r="4.3" fill="url(#gLO)" />
<circle cx="1496.27" cy="1462.75" r="4.3" fill="url(#gLO)" />
<circle cx="1500.00" cy="1464.09" r="4.3" fill="url(#gLO)" />
<circle cx="1503.74" cy="1462.87" r="4.3" fill="url(#gLO)" />
<circle cx="1507.48" cy="1463.20" r="4.3" fill="url(#gLO)" />
<circle cx="1511.22" cy="1463.44" r="4.3" fill="url(#gLO)" />
<circle cx="1514.96" cy="1462.99" r="4.3" fill="url(#gLO)" />
<circle cx="1518.70" cy="1462.81" r="4.3" fill="url(#gLO)" />
<circle cx="1522.44" cy="1463.41" r="4.3" fill="url(#gLO)" />
<circle cx="1526.18" cy="1462.68" r="4.3" fill="url(#gLO)" />
<circle cx="1529.92" cy="1462.64" r="4.3" fill="url(#gLO)" />
<circle cx="1533.66" cy="1463.38" r="4.3" fill="url(#gLO)" />
<circle cx="1537.39" cy="1462.15" r="4.3" fill="url(#gLO)" />
<circle cx="1541.13" cy="1462.93" r="4.3" fill="url(#gLO)" />
<circle cx="1544.87" cy="1462.66" r="4.3" fill="url(#gLO)" />
<circle cx="1548.61" cy="1462.50" r="4.3" fill="url(#gLO)" />
<circle cx="1552.35" cy="1462.17" r="4.3" fill="url(#gLO)" />
<circle cx="1556.09" cy="1463.15" r="4.3" fill="url(#gLO)" />
<circle cx="1559.83" cy="1461.44" r="4.3" fill="url(#gLO)" />
<circle cx="1563.57" cy="1462.76" r="4.3" fill="url(#gLO)" />
<circle cx="1567.31" cy="1461.86" r="4.3" fill="url(#gLO)" />
<circle cx="1571.05" cy="1461.91" r="4.3" fill="url(#gLO)" />
<circle cx="1574.78" cy="1461.61" r="4.3" fill="url(#gLO)" />
<circle cx="1578.52" cy="1462.24" r="4.3" fill="url(#gLO)" />
<circle cx="1582.26" cy="1460.76" r="4.3" fill="url(#gLO)" />
<circle cx="1586.00" cy="1462.04" r="4.3" fill="url(#gLO)" />
<circle cx="1589.74" cy="1461.12" r="4.3" fill="url(#gLO)" />
<circle cx="1593.48" cy="1461.00" r="4.3" fill="url(#gLO)" />
<circle cx="1597.22" cy="1461.47" r="4.3" fill="url(#gLO)" />
<circle cx="1600.96" cy="1461.56" r="4.3" fill="url(#gLO)" />
<circle cx="1604.70" cy="1461.11" r="4.3" fill="url(#gLO)" />
<circle cx="1608.44" cy="1462.08" r="4.3" fill="url(#gLO)" />
<circle cx="1612.17" cy="1461.77" r="4.3" fill="url(#gLO)" />
<circle cx="1615.91" cy="1460.54" r="4.3" fill="url(#gLO)" />
<circle cx="1619.65" cy="1460.72" r="4.3" fill="url(#gLO)" />
<circle cx="1623.39" cy="1458.93" r="4.3" fill="url(#gLO)" />
<circle cx="1627.13" cy="1459.49" r="4.3" fill="url(#gLO)" />
<circle cx="1630.87" cy="1459.79" r="4.3" fill="url(#gLO)" />
<circle cx="1634.61" cy="1459.95" r="4.3" fill="url(#gLO)" />
<circle cx="1638.35" cy="1459.45" r="4.3" fill="url(#gLO)" />
<circle cx="1642.09" cy="1461.03" r="4.3" fill="url(#gLO)" />
<circle cx="1645.83" cy="1459.65" r="4.3" fill="url(#gLO)" />
<circle cx="1649.57" cy="1460.88" r="4.3" fill="url(#gLO)" />
<circle cx="1653.30" cy="1459.90" r="4.3" fill="url(#gLO)" />
<circle cx="1657.04" cy="1459.38" r="4.3" fill="url(#gLO)" />
<circle cx="1660.78" cy="1458.24" r="4.3" fill="url(#gLO)" />
<circle cx="1664.52" cy="1458.82" r="4.3" fill="url(#gLO)" />
<circle cx="1668.26" cy="1456.66" r="4.3" fill="url(#gLO)" />
<circle cx="1672.00" cy="1457.96" r="4.3" fill="url(#gLO)" />
<circle cx="1675.74" cy="1457.71" r="4.3" fill="url(#gLO)" />
<circle cx="1679.48" cy="1457.63" r="4.3" fill="url(#gLO)" />
<circle cx="1683.22" cy="1457.88" r="4.3" fill="url(#gLO)" />
<circle cx="1686.95" cy="1458.45" r="4.3" fill="url(#gLO)" />
<circle cx="1690.69" cy="1457.06" r="4.3" fill="url(#gLO)" />
<circle cx="1694.43" cy="1457.37" r="4.3" fill="url(#gLO)" />
<circle cx="1698.17" cy="1456.86" r="4.3" fill="url(#gLO)" />
<circle cx="1701.91" cy="1455.66" r="4.3" fill="url(#gLO)" />
<circle cx="1705.65" cy="1457.15" r="4.3" fill="url(#gLO)" />
<circle cx="1709.39" cy="1457.12" r="4.3" fill="url(#gLO)" />
<circle cx="1713.13" cy="1457.58" r="4.3" fill="url(#gLO)" />
<circle cx="1716.87" cy="1458.32" r="4.3" fill="url(#gLO)" />
<circle cx="1720.61" cy="1459.13" r="4.3" fill="url(#gLO)" />
<circle cx="1724.34" cy="1458.56" r="4.3" fill="url(#gLO)" />
<circle cx="1728.08" cy="1460.35" r="4.3" fill="url(#gLO)" />
<circle cx="1731.82" cy="1459.31" r="4.3" fill="url(#gLO)" />
<circle cx="1735.56" cy="1460.16" r="4.3" fill="url(#gLO)" />
<circle cx="1739.30" cy="1460.29" r="4.3" fill="url(#gLO)" />
<circle cx="1743.04" cy="1460.83" r="4.3" fill="url(#gLO)" />
<circle cx="1746.78" cy="1460.12" r="4.3" fill="url(#gLO)" />
<circle cx="1750.52" cy="1461.89" r="4.3" fill="url(#gLO)" />
<circle cx="1754.26" cy="1460.69" r="4.3" fill="url(#gLO)" />
<circle cx="1758.00" cy="1461.71" r="4.3" fill="url(#gLO)" />
<circle cx="1761.73" cy="1461.92" r="4.3" fill="url(#gLO)" />
<circle cx="1765.47" cy="1462.01" r="4.3" fill="url(#gLO)" />
<circle cx="1769.21" cy="1461.98" r="4.3" fill="url(#gLO)" />
<circle cx="1772.95" cy="1463.11" r="4.3" fill="url(#gLO)" />
<circle cx="1776.69" cy="1462.34" r="4.3" fill="url(#gLO)" />
<circle cx="1780.43" cy="1463.07" r="4.3" fill="url(#gLO)" />
<circle cx="1784.17" cy="1463.62" r="4.3" fill="url(#gLO)" />
<circle cx="1787.91" cy="1462.95" r="4.3" fill="url(#gLO)" />
<circle cx="1791.65" cy="1463.80" r="4.3" fill="url(#gLO)" />
<circle cx="1795.39" cy="1463.93" r="4.3" fill="url(#gLO)" />
<circle cx="1799.12" cy="1463.79" r="4.3" fill="url(#gLO)" />
<circle cx="1802.86" cy="1464.03" r="4.3" fill="url(#gLO)" />
<circle cx="1806.60" cy="1464.94" r="4.3" fill="url(#gLO)" />
<circle cx="1810.34" cy="1463.74" r="4.3" fill="url(#gLO)" />
<circle cx="1814.08" cy="1465.35" r="4.3" fill="url(#gLO)" />
<circle cx="1817.82" cy="1464.68" r="4.3" fill="url(#gLO)" />
<circle cx="1821.56" cy="1465.29" r="4.3" fill="url(#gLO)" />
<circle cx="1825.30" cy="1465.52" r="4.3" fill="url(#gLO)" />
<circle cx="1829.04" cy="1466.58" r="4.3" fill="url(#gLO)" />
<circle cx="1832.78" cy="1465.58" r="4.3" fill="url(#gLO)" />
<circle cx="1836.51" cy="1467.55" r="4.3" fill="url(#gLO)" />
<circle cx="1840.25" cy="1466.29" r="4.3" fill="url(#gLO)" />
<circle cx="1843.99" cy="1466.52" r="4.3" fill="url(#gLO)" />
<circle cx="1847.73" cy="1466.49" r="4.3" fill="url(#gLO)" />
<circle cx="1851.47" cy="1466.49" r="4.3" fill="url(#gLO)" />
<circle cx="1855.21" cy="1465.62" r="4.3" fill="url(#gLO)" />
<circle cx="1858.95" cy="1466.89" r="4.3" fill="url(#gLO)" />
<circle cx="1862.69" cy="1466.14" r="4.3" fill="url(#gLO)" />
<circle cx="1866.43" cy="1466.34" r="4.3" fill="url(#gLO)" />
<circle cx="1870.17" cy="1467.10" r="4.3" fill="url(#gLO)" />
<circle cx="1873.90" cy="1466.50" r="4.3" fill="url(#gLO)" />
<circle cx="1877.64" cy="1466.34" r="4.3" fill="url(#gLO)" />
<circle cx="1881.38" cy="1466.30" r="4.3" fill="url(#gLO)" />
<circle cx="1885.12" cy="1465.59" r="4.3" fill="url(#gLO)" />
<circle cx="1888.86" cy="1464.91" r="4.3" fill="url(#gLO)" />
<circle cx="1892.60" cy="1465.64" r="4.3" fill="url(#gLO)" />
</g>
<path d="M1144.8 1099.9L1144.8 1537.9L1894.1 1537.9" fill="none" stroke="#000" stroke-width="3.9" stroke-linecap="butt" stroke-linejoin="miter" />
<path d="M1144.8 1101.2L1892.6 1101.2" fill="none" stroke="#000" stroke-width="2.7" stroke-linecap="butt" stroke-linejoin="round" />
<path d="M1892.6 1099.9L1892.6 1537.9" fill="none" stroke="#000" stroke-width="3.0" stroke-linecap="butt" stroke-linejoin="round" />
<line x1="1144.80" y1="1539.80" x2="1144.80" y2="1546.00" stroke="#000" stroke-width="3.3" stroke-linecap="butt" />
<line x1="1331.75" y1="1539.80" x2="1331.75" y2="1546.00" stroke="#000" stroke-width="3.3" stroke-linecap="butt" />
<line x1="1518.70" y1="1539.80" x2="1518.70" y2="1546.00" stroke="#000" stroke-width="3.3" stroke-linecap="butt" />
<line x1="1705.65" y1="1539.80" x2="1705.65" y2="1546.00" stroke="#000" stroke-width="3.3" stroke-linecap="butt" />
<line x1="1892.60" y1="1539.80" x2="1892.60" y2="1546.00" stroke="#000" stroke-width="3.3" stroke-linecap="butt" />
<line x1="1238.27" y1="1539.80" x2="1238.27" y2="1542.20" stroke="#000" stroke-width="3.3" stroke-linecap="butt" />
<line x1="1425.22" y1="1539.80" x2="1425.22" y2="1542.20" stroke="#000" stroke-width="3.3" stroke-linecap="butt" />
<line x1="1612.17" y1="1539.80" x2="1612.17" y2="1542.20" stroke="#000" stroke-width="3.3" stroke-linecap="butt" />
<line x1="1799.12" y1="1539.80" x2="1799.12" y2="1542.20" stroke="#000" stroke-width="3.3" stroke-linecap="butt" />
<line x1="1142.90" y1="1537.90" x2="1136.70" y2="1537.90" stroke="#000" stroke-width="3.3" stroke-linecap="butt" />
<line x1="1142.90" y1="1475.52" x2="1136.70" y2="1475.52" stroke="#000" stroke-width="3.3" stroke-linecap="butt" />
<line x1="1142.90" y1="1413.14" x2="1136.70" y2="1413.14" stroke="#000" stroke-width="3.3" stroke-linecap="butt" />
<line x1="1142.90" y1="1350.76" x2="1136.70" y2="1350.76" stroke="#000" stroke-width="3.3" stroke-linecap="butt" />
<line x1="1142.90" y1="1288.38" x2="1136.70" y2="1288.38" stroke="#000" stroke-width="3.3" stroke-linecap="butt" />
<line x1="1142.90" y1="1226.00" x2="1136.70" y2="1226.00" stroke="#000" stroke-width="3.3" stroke-linecap="butt" />
<line x1="1142.90" y1="1163.62" x2="1136.70" y2="1163.62" stroke="#000" stroke-width="3.3" stroke-linecap="butt" />
<line x1="1142.90" y1="1101.24" x2="1136.70" y2="1101.24" stroke="#000" stroke-width="3.3" stroke-linecap="butt" />
<line x1="1142.90" y1="1506.71" x2="1140.50" y2="1506.71" stroke="#000" stroke-width="3.3" stroke-linecap="butt" />
<line x1="1142.90" y1="1444.33" x2="1140.50" y2="1444.33" stroke="#000" stroke-width="3.3" stroke-linecap="butt" />
<line x1="1142.90" y1="1381.95" x2="1140.50" y2="1381.95" stroke="#000" stroke-width="3.3" stroke-linecap="butt" />
<line x1="1142.90" y1="1319.57" x2="1140.50" y2="1319.57" stroke="#000" stroke-width="3.3" stroke-linecap="butt" />
<line x1="1142.90" y1="1257.19" x2="1140.50" y2="1257.19" stroke="#000" stroke-width="3.3" stroke-linecap="butt" />
<line x1="1142.90" y1="1194.81" x2="1140.50" y2="1194.81" stroke="#000" stroke-width="3.3" stroke-linecap="butt" />
<line x1="1142.90" y1="1132.43" x2="1140.50" y2="1132.43" stroke="#000" stroke-width="3.3" stroke-linecap="butt" />
<line x1="1894.50" y1="1537.90" x2="1900.70" y2="1537.90" stroke="#000" stroke-width="3.3" stroke-linecap="butt" />
<line x1="1894.50" y1="1465.12" x2="1900.70" y2="1465.12" stroke="#000" stroke-width="3.3" stroke-linecap="butt" />
<line x1="1894.50" y1="1392.34" x2="1900.70" y2="1392.34" stroke="#000" stroke-width="3.3" stroke-linecap="butt" />
<line x1="1894.50" y1="1319.56" x2="1900.70" y2="1319.56" stroke="#000" stroke-width="3.3" stroke-linecap="butt" />
<line x1="1894.50" y1="1246.78" x2="1900.70" y2="1246.78" stroke="#000" stroke-width="3.3" stroke-linecap="butt" />
<line x1="1894.50" y1="1174.00" x2="1900.70" y2="1174.00" stroke="#000" stroke-width="3.3" stroke-linecap="butt" />
<line x1="1894.50" y1="1101.22" x2="1900.70" y2="1101.22" stroke="#000" stroke-width="3.3" stroke-linecap="butt" />
<line x1="1894.50" y1="1501.51" x2="1896.90" y2="1501.51" stroke="#000" stroke-width="3.3" stroke-linecap="butt" />
<line x1="1894.50" y1="1428.73" x2="1896.90" y2="1428.73" stroke="#000" stroke-width="3.3" stroke-linecap="butt" />
<line x1="1894.50" y1="1355.95" x2="1896.90" y2="1355.95" stroke="#000" stroke-width="3.3" stroke-linecap="butt" />
<line x1="1894.50" y1="1283.17" x2="1896.90" y2="1283.17" stroke="#000" stroke-width="3.3" stroke-linecap="butt" />
<line x1="1894.50" y1="1210.39" x2="1896.90" y2="1210.39" stroke="#000" stroke-width="3.3" stroke-linecap="butt" />
<line x1="1894.50" y1="1137.61" x2="1896.90" y2="1137.61" stroke="#000" stroke-width="3.3" stroke-linecap="butt" />
<text x="1144.80" y="1569.80" font-size="23" text-anchor="middle" >0</text>
<text x="1331.75" y="1569.80" font-size="23" text-anchor="middle" >50</text>
<text x="1518.70" y="1569.80" font-size="23" text-anchor="middle" >100</text>
<text x="1705.65" y="1569.80" font-size="23" text-anchor="middle" >150</text>
<text x="1892.60" y="1569.80" font-size="23" text-anchor="middle" >200</text>
<text x="1130.00" y="1544.88" font-size="22" text-anchor="end" >0</text>
<text x="1130.00" y="1482.50" font-size="22" text-anchor="end" >100</text>
<text x="1130.00" y="1420.12" font-size="22" text-anchor="end" >200</text>
<text x="1130.00" y="1357.74" font-size="22" text-anchor="end" >300</text>
<text x="1130.00" y="1295.36" font-size="22" text-anchor="end" >400</text>
<text x="1130.00" y="1232.98" font-size="22" text-anchor="end" >500</text>
<text x="1130.00" y="1170.60" font-size="22" text-anchor="end" >600</text>
<text x="1130.00" y="1108.22" font-size="22" text-anchor="end" >700</text>
<text x="1906.00" y="1544.88" font-size="22" >0</text>
<text x="1906.00" y="1472.10" font-size="22" >20</text>
<text x="1906.00" y="1399.32" font-size="22" >40</text>
<text x="1906.00" y="1326.54" font-size="22" >60</text>
<text x="1906.00" y="1253.76" font-size="22" >80</text>
<text x="1906.00" y="1180.98" font-size="22" >100</text>
<text x="1906.00" y="1108.20" font-size="22" >120</text>
<text x="1412.50" y="1617.50" font-size="34" font-weight="bold" textLength="212.50" lengthAdjust="spacingAndGlyphs" >Cycle number</text>
<text x="1063.70" y="1524.40" font-size="32" font-weight="bold" transform="rotate(-90 1063.70 1524.40)" textLength="415.00" lengthAdjust="spacingAndGlyphs" >Specific capacity <tspan font-weight="normal">(</tspan>mAh g<tspan font-size="19.8" dy="-13.4">-1</tspan><tspan font-weight="normal" dy="13.4">)</tspan></text>
<text x="1989.60" y="1320.00" font-size="32" font-weight="bold" text-anchor="middle" transform="rotate(-90 1989.60 1320.00)" textLength="396.00" lengthAdjust="spacingAndGlyphs" >Coulombic effieciency (%)</text>
<text x="1045.90" y="1091.80" font-size="56" >h</text>
<circle cx="1421.00" cy="1202.50" r="4.3" fill="#58b2f5" />
<circle cx="1421.00" cy="1240.00" r="4.1" fill="#3a9422" />
<circle cx="1421.00" cy="1296.00" r="4.6" fill="url(#gLB)" />
<circle cx="1421.00" cy="1333.50" r="4.6" fill="url(#gLO)" />
<text x="1444.00" y="1207.50" font-size="25" font-weight="bold" textLength="103.00" lengthAdjust="spacingAndGlyphs" ><tspan>TiNbCT</tspan><tspan dy="6.50" font-size="17.50">x</tspan></text>
<text x="1561.00" y="1207.50" font-size="25" font-weight="bold" textLength="273.00" lengthAdjust="spacingAndGlyphs" >coulombic effieciency</text>
<text x="1444.00" y="1245.00" font-size="25" font-weight="bold" textLength="77.00" lengthAdjust="spacingAndGlyphs" ><tspan>Ti</tspan><tspan dy="6.50" font-size="17.50">2</tspan><tspan dy="-6.50">CT</tspan><tspan dy="6.50" font-size="17.50">x</tspan></text>
<text x="1565.00" y="1245.00" font-size="25" font-weight="bold" textLength="272.00" lengthAdjust="spacingAndGlyphs" >coulombic effieciency</text>
<text x="1444.00" y="1301.00" font-size="25" font-weight="bold" textLength="103.00" lengthAdjust="spacingAndGlyphs" ><tspan>TiNbCT</tspan><tspan dy="6.50" font-size="17.50">x</tspan></text>
<text x="1561.00" y="1301.00" font-size="25" font-weight="bold" textLength="208.00" lengthAdjust="spacingAndGlyphs" >specific capacity</text>
<text x="1444.00" y="1338.50" font-size="25" font-weight="bold" textLength="77.00" lengthAdjust="spacingAndGlyphs" ><tspan>Ti</tspan><tspan dy="6.50" font-size="17.50">2</tspan><tspan dy="-6.50">CT</tspan><tspan dy="6.50" font-size="17.50">x</tspan></text>
<text x="1557.50" y="1338.50" font-size="25" font-weight="bold" textLength="208.00" lengthAdjust="spacingAndGlyphs" >specific capacity</text>
</svg>
</body></html>
